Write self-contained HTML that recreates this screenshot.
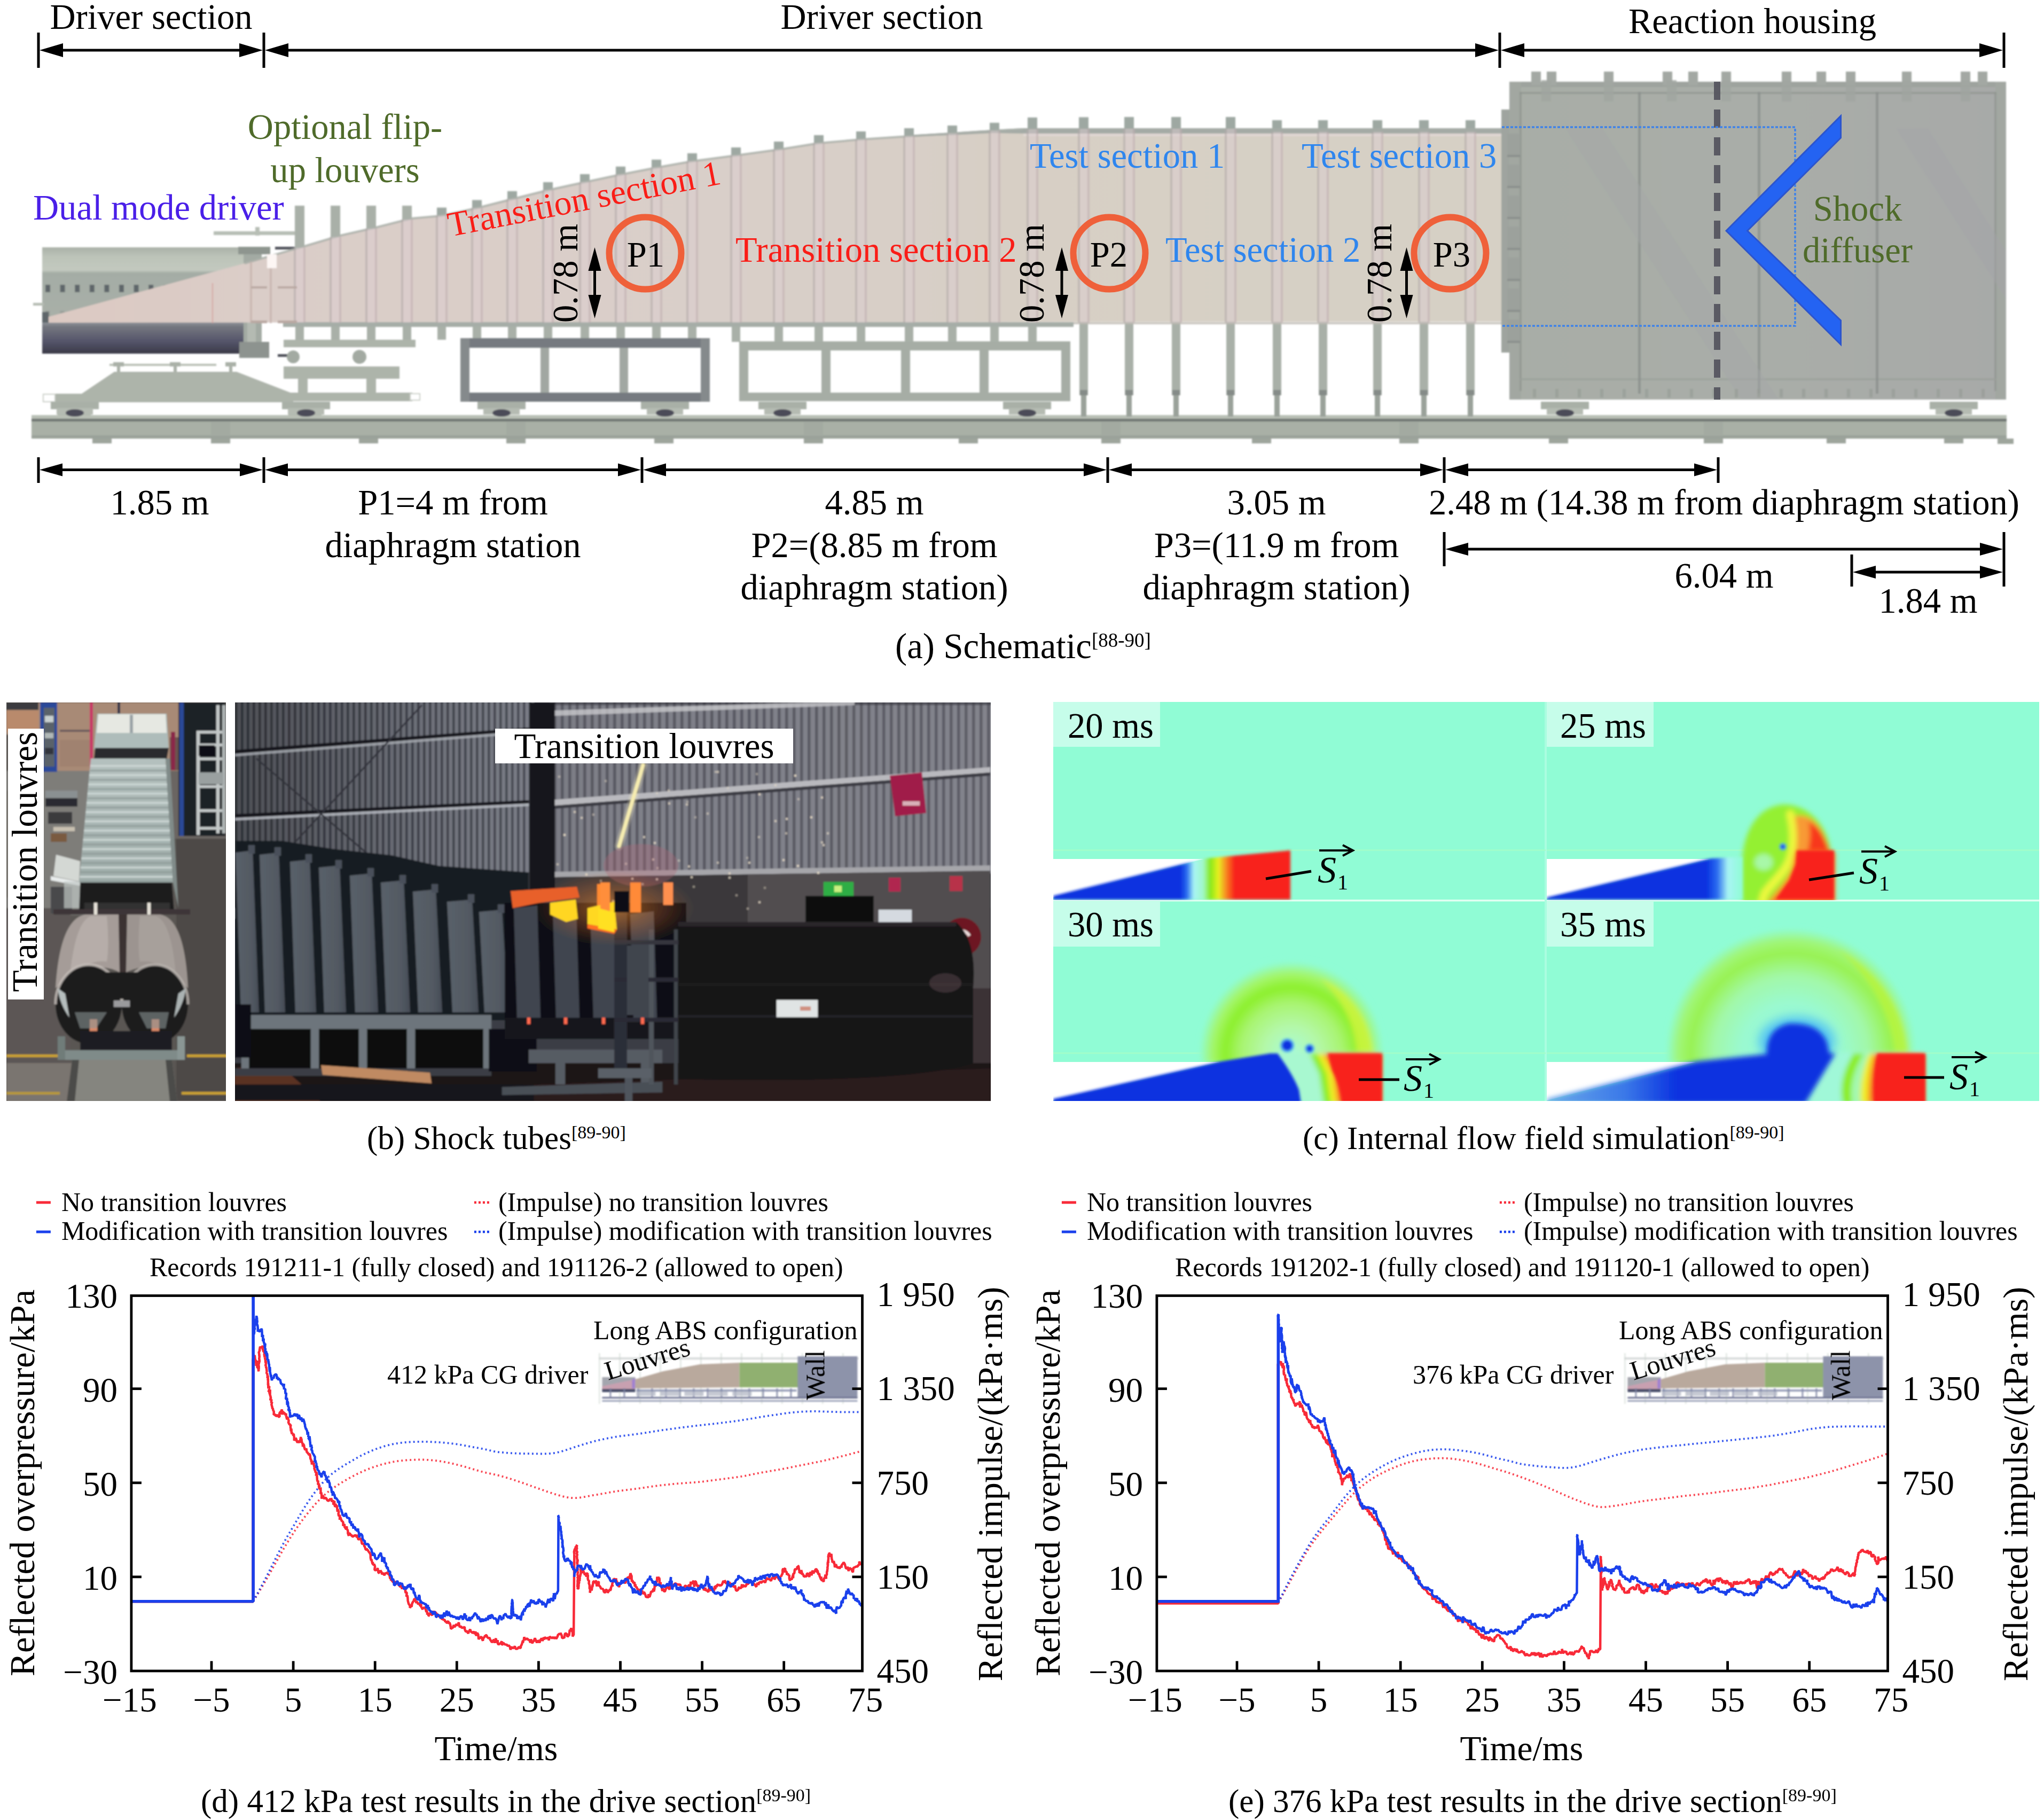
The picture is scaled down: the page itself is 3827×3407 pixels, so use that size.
<!DOCTYPE html>
<html><head><meta charset="utf-8"><title>Figure</title>
<style>
html,body{margin:0;padding:0;background:#fff;}
body{width:3827px;height:3407px;overflow:hidden;font-family:"Liberation Serif",serif;}
svg{display:block;font-family:"Liberation Serif",serif;}
text{font-family:"Liberation Serif",serif;}
</style></head><body>
<svg width="3827" height="3407" viewBox="0 0 3827 3407">
<rect x="0" y="0" width="3827" height="3407" fill="#ffffff"/>
<defs><linearGradient id="cylTop" x1="0" y1="0" x2="0" y2="1"><stop offset="0" stop-color="#aab1a8"/><stop offset="0.12" stop-color="#bcc3b8"/><stop offset="0.3" stop-color="#c3c9bf"/><stop offset="0.34" stop-color="#a4aca5"/><stop offset="1" stop-color="#a9b0a8"/></linearGradient><linearGradient id="cylDark" x1="0" y1="0" x2="0" y2="1"><stop offset="0" stop-color="#8f949a"/><stop offset="0.15" stop-color="#74767f"/><stop offset="0.6" stop-color="#55556a"/><stop offset="1" stop-color="#3a3947"/></linearGradient><linearGradient id="hous" x1="0" y1="0" x2="1" y2="0"><stop offset="0" stop-color="#a8ada6"/><stop offset="0.5" stop-color="#a9ada8"/><stop offset="1" stop-color="#a7a9a8"/></linearGradient><linearGradient id="bodyg" gradientUnits="userSpaceOnUse" x1="91" y1="0" x2="2811" y2="0"><stop offset="0" stop-color="#dcc9c2"/><stop offset="0.15" stop-color="#dacdc8"/><stop offset="0.46" stop-color="#d9cfc9"/><stop offset="0.67" stop-color="#d7cfc5"/><stop offset="1" stop-color="#d6d0c5"/></linearGradient><filter id="b1" x="-5%" y="-5%" width="110%" height="110%"><feGaussianBlur stdDeviation="1.6"/></filter><filter id="b2" x="-5%" y="-5%" width="110%" height="110%"><feGaussianBlur stdDeviation="2.5"/></filter></defs>
<g filter="url(#b1)">
<rect x="59.0" y="777.0" width="3698.0" height="44.0" fill="#a9b0a6" />
<rect x="59.0" y="777.0" width="3698.0" height="6.0" fill="#b9c0b6" />
<rect x="59.0" y="784.0" width="3698.0" height="5.0" fill="#6f7672" />
<rect x="59.0" y="815.0" width="3698.0" height="6.0" fill="#9aa199" />
<rect x="173.0" y="821.0" width="36.0" height="9.0" fill="#9ea59c" />
<rect x="395.0" y="821.0" width="36.0" height="9.0" fill="#9ea59c" />
<rect x="672.0" y="821.0" width="36.0" height="9.0" fill="#9ea59c" />
<rect x="948.0" y="821.0" width="36.0" height="9.0" fill="#9ea59c" />
<rect x="1225.0" y="821.0" width="36.0" height="9.0" fill="#9ea59c" />
<rect x="1505.0" y="821.0" width="36.0" height="9.0" fill="#9ea59c" />
<rect x="1795.0" y="821.0" width="36.0" height="9.0" fill="#9ea59c" />
<rect x="2062.0" y="821.0" width="36.0" height="9.0" fill="#9ea59c" />
<rect x="2344.0" y="821.0" width="36.0" height="9.0" fill="#9ea59c" />
<rect x="2620.0" y="821.0" width="36.0" height="9.0" fill="#9ea59c" />
<rect x="2900.0" y="821.0" width="36.0" height="9.0" fill="#9ea59c" />
<rect x="3190.0" y="821.0" width="36.0" height="9.0" fill="#9ea59c" />
<rect x="3420.0" y="821.0" width="36.0" height="9.0" fill="#9ea59c" />
<rect x="3640.0" y="821.0" width="36.0" height="9.0" fill="#9ea59c" />
<rect x="395.0" y="790.0" width="36.0" height="26.0" fill="#a3aaa1" />
<rect x="948.0" y="790.0" width="36.0" height="26.0" fill="#a3aaa1" />
<rect x="1505.0" y="790.0" width="36.0" height="26.0" fill="#a3aaa1" />
<rect x="2062.0" y="790.0" width="36.0" height="26.0" fill="#a3aaa1" />
<rect x="2620.0" y="790.0" width="36.0" height="26.0" fill="#a3aaa1" />
<rect x="3190.0" y="790.0" width="36.0" height="26.0" fill="#a3aaa1" />
<rect x="3740.0" y="821.0" width="30.0" height="10.0" fill="#9ea59c" />
<rect x="79.0" y="463.0" width="379.0" height="142.0" fill="url(#cylTop)" />
<rect x="79.0" y="603.0" width="379.0" height="59.0" fill="url(#cylDark)" />
<rect x="62.0" y="567.0" width="20.0" height="5.0" fill="#b5bcb2" />
<rect x="85.0" y="533.0" width="9.0" height="14.0" fill="#5f666a" opacity="1.0"/>
<rect x="85.0" y="582.0" width="8.0" height="12.0" fill="#8a8f8c" opacity="0.8"/>
<rect x="112.6" y="533.0" width="9.0" height="14.0" fill="#5f666a" opacity="1.0"/>
<rect x="112.6" y="582.0" width="8.0" height="12.0" fill="#8a8f8c" opacity="0.5"/>
<rect x="140.2" y="533.0" width="9.0" height="14.0" fill="#5f666a" opacity="1.0"/>
<rect x="140.2" y="582.0" width="8.0" height="12.0" fill="#8a8f8c" opacity="0.5"/>
<rect x="167.8" y="533.0" width="9.0" height="14.0" fill="#5f666a" opacity="1.0"/>
<rect x="167.8" y="582.0" width="8.0" height="12.0" fill="#8a8f8c" opacity="0.5"/>
<rect x="195.4" y="533.0" width="9.0" height="14.0" fill="#5f666a" opacity="1.0"/>
<rect x="195.4" y="582.0" width="8.0" height="12.0" fill="#8a8f8c" opacity="0.5"/>
<rect x="223.0" y="533.0" width="9.0" height="14.0" fill="#5f666a" opacity="1.0"/>
<rect x="223.0" y="582.0" width="8.0" height="12.0" fill="#8a8f8c" opacity="0.5"/>
<rect x="250.6" y="533.0" width="9.0" height="14.0" fill="#5f666a" opacity="1.0"/>
<rect x="250.6" y="582.0" width="8.0" height="12.0" fill="#8a8f8c" opacity="0.5"/>
<rect x="278.2" y="533.0" width="9.0" height="14.0" fill="#5f666a" opacity="1.0"/>
<rect x="278.2" y="582.0" width="8.0" height="12.0" fill="#8a8f8c" opacity="0.5"/>
<rect x="305.8" y="533.0" width="9.0" height="14.0" fill="#5f666a" opacity="0.35"/>
<rect x="305.8" y="582.0" width="8.0" height="12.0" fill="#8a8f8c" opacity="0.5"/>
<rect x="333.4" y="533.0" width="9.0" height="14.0" fill="#5f666a" opacity="0.35"/>
<rect x="333.4" y="582.0" width="8.0" height="12.0" fill="#8a8f8c" opacity="0.5"/>
<rect x="361.0" y="533.0" width="9.0" height="14.0" fill="#5f666a" opacity="0.35"/>
<rect x="361.0" y="582.0" width="8.0" height="12.0" fill="#8a8f8c" opacity="0.5"/>
<rect x="388.6" y="533.0" width="9.0" height="14.0" fill="#5f666a" opacity="0.35"/>
<rect x="388.6" y="582.0" width="8.0" height="12.0" fill="#8a8f8c" opacity="0.5"/>
<rect x="416.2" y="533.0" width="9.0" height="14.0" fill="#5f666a" opacity="0.35"/>
<rect x="416.2" y="582.0" width="8.0" height="12.0" fill="#8a8f8c" opacity="0.5"/>
<rect x="443.8" y="533.0" width="9.0" height="14.0" fill="#5f666a" opacity="0.35"/>
<rect x="443.8" y="582.0" width="8.0" height="12.0" fill="#8a8f8c" opacity="0.5"/>
<rect x="471.4" y="533.0" width="9.0" height="14.0" fill="#5f666a" opacity="0.35"/>
<rect x="471.4" y="582.0" width="8.0" height="12.0" fill="#8a8f8c" opacity="0.5"/>
<rect x="79.0" y="584.0" width="12.0" height="20.0" fill="#5f666a" />
<rect x="456.0" y="470.0" width="34.0" height="200.0" fill="#a3aaa3" />
<rect x="463.0" y="490.0" width="16.0" height="180.0" fill="#b4bab2" />
<rect x="446.0" y="462.0" width="60.0" height="14.0" fill="#8e958f" />
<rect x="400.0" y="433.0" width="160.0" height="7.0" fill="#b7beb5" />
<rect x="478.0" y="425.0" width="8.0" height="16.0" fill="#b7beb5" />
<rect x="448.0" y="640.0" width="56.0" height="30.0" fill="#8d938f" />
<rect x="515.0" y="462.0" width="40.0" height="5.0" fill="#4d5058" />
<rect x="520.0" y="663.0" width="40.0" height="5.0" fill="#4d5058" />
<rect x="552.0" y="385.0" width="18.0" height="90.0" fill="#a9b0a8" />
<rect x="619.0" y="385.0" width="18.0" height="90.0" fill="#a9b0a8" />
<rect x="686.0" y="385.0" width="18.0" height="90.0" fill="#a9b0a8" />
<rect x="753.0" y="385.0" width="18.0" height="90.0" fill="#a9b0a8" />
<rect x="818.0" y="388.6" width="18.0" height="22.0" fill="#9ea8a2" />
<rect x="884.0" y="374.5" width="18.0" height="22.0" fill="#9ea8a2" />
<rect x="950.0" y="357.8" width="18.0" height="22.0" fill="#9ea8a2" />
<rect x="1017.0" y="341.0" width="18.0" height="22.0" fill="#9ea8a2" />
<rect x="1086.0" y="326.0" width="18.0" height="22.0" fill="#9ea8a2" />
<rect x="1153.0" y="311.8" width="18.0" height="22.0" fill="#9ea8a2" />
<rect x="1220.0" y="298.8" width="18.0" height="22.0" fill="#9ea8a2" />
<rect x="1287.0" y="286.9" width="18.0" height="22.0" fill="#9ea8a2" />
<rect x="1369.0" y="276.0" width="18.0" height="22.0" fill="#9ea8a2" />
<rect x="1449.0" y="265.0" width="18.0" height="22.0" fill="#9ea8a2" />
<rect x="1524.0" y="253.0" width="18.0" height="22.0" fill="#9ea8a2" />
<rect x="1603.0" y="246.0" width="18.0" height="22.0" fill="#9ea8a2" />
<rect x="1693.0" y="240.0" width="18.0" height="22.0" fill="#9ea8a2" />
<rect x="1774.0" y="235.0" width="18.0" height="22.0" fill="#9ea8a2" />
<rect x="1853.0" y="229.8" width="18.0" height="22.0" fill="#9ea8a2" />
<rect x="1924.0" y="219.9" width="18.0" height="30.0" fill="#9ea8a2" />
<rect x="2020.0" y="219.4" width="18.0" height="30.0" fill="#9ea8a2" />
<rect x="2105.0" y="219.0" width="18.0" height="30.0" fill="#9ea8a2" />
<rect x="2193.0" y="219.0" width="18.0" height="30.0" fill="#9ea8a2" />
<rect x="2295.0" y="219.0" width="18.0" height="30.0" fill="#9ea8a2" />
<rect x="2382.0" y="225.0" width="18.0" height="30.0" fill="#9ea8a2" />
<rect x="2468.0" y="225.0" width="18.0" height="30.0" fill="#9ea8a2" />
<rect x="2570.0" y="225.0" width="18.0" height="30.0" fill="#9ea8a2" />
<rect x="2657.0" y="225.0" width="18.0" height="30.0" fill="#9ea8a2" />
<rect x="2744.0" y="225.0" width="18.0" height="30.0" fill="#9ea8a2" />
<rect x="553.0" y="600.0" width="16.0" height="36.0" fill="#a9b0a8" />
<rect x="620.0" y="600.0" width="16.0" height="36.0" fill="#a9b0a8" />
<rect x="687.0" y="600.0" width="16.0" height="36.0" fill="#a9b0a8" />
<rect x="754.0" y="600.0" width="16.0" height="36.0" fill="#a9b0a8" />
<rect x="819.0" y="600.0" width="16.0" height="36.0" fill="#a9b0a8" />
<rect x="885.0" y="600.0" width="16.0" height="36.0" fill="#a9b0a8" />
<rect x="951.0" y="600.0" width="16.0" height="36.0" fill="#a9b0a8" />
<rect x="1018.0" y="600.0" width="16.0" height="36.0" fill="#a9b0a8" />
<rect x="1087.0" y="600.0" width="16.0" height="36.0" fill="#a9b0a8" />
<rect x="1154.0" y="600.0" width="16.0" height="36.0" fill="#a9b0a8" />
<rect x="1221.0" y="600.0" width="16.0" height="36.0" fill="#a9b0a8" />
<rect x="1288.0" y="600.0" width="16.0" height="36.0" fill="#a9b0a8" />
<rect x="1370.0" y="600.0" width="16.0" height="40.0" fill="#a9b0a8" />
<rect x="1450.0" y="600.0" width="16.0" height="40.0" fill="#a9b0a8" />
<rect x="1525.0" y="600.0" width="16.0" height="40.0" fill="#a9b0a8" />
<rect x="1604.0" y="600.0" width="16.0" height="40.0" fill="#a9b0a8" />
<rect x="1694.0" y="600.0" width="16.0" height="40.0" fill="#a9b0a8" />
<rect x="1775.0" y="600.0" width="16.0" height="40.0" fill="#a9b0a8" />
<rect x="1854.0" y="600.0" width="16.0" height="40.0" fill="#a9b0a8" />
<rect x="1925.0" y="600.0" width="16.0" height="40.0" fill="#a9b0a8" />
<rect x="2021.0" y="600.0" width="16.0" height="140.0" fill="#a9b0a8" />
<rect x="2024.0" y="740.0" width="10.0" height="40.0" fill="#9aa19a" />
<rect x="2022.0" y="730.0" width="14.0" height="10.0" fill="#858b88" />
<rect x="2106.0" y="600.0" width="16.0" height="140.0" fill="#a9b0a8" />
<rect x="2109.0" y="740.0" width="10.0" height="40.0" fill="#9aa19a" />
<rect x="2107.0" y="730.0" width="14.0" height="10.0" fill="#858b88" />
<rect x="2194.0" y="600.0" width="16.0" height="140.0" fill="#a9b0a8" />
<rect x="2197.0" y="740.0" width="10.0" height="40.0" fill="#9aa19a" />
<rect x="2195.0" y="730.0" width="14.0" height="10.0" fill="#858b88" />
<rect x="2296.0" y="600.0" width="16.0" height="140.0" fill="#a9b0a8" />
<rect x="2299.0" y="740.0" width="10.0" height="40.0" fill="#9aa19a" />
<rect x="2297.0" y="730.0" width="14.0" height="10.0" fill="#858b88" />
<rect x="2383.0" y="600.0" width="16.0" height="140.0" fill="#a9b0a8" />
<rect x="2386.0" y="740.0" width="10.0" height="40.0" fill="#9aa19a" />
<rect x="2384.0" y="730.0" width="14.0" height="10.0" fill="#858b88" />
<rect x="2469.0" y="600.0" width="16.0" height="140.0" fill="#a9b0a8" />
<rect x="2472.0" y="740.0" width="10.0" height="40.0" fill="#9aa19a" />
<rect x="2470.0" y="730.0" width="14.0" height="10.0" fill="#858b88" />
<rect x="2571.0" y="600.0" width="16.0" height="140.0" fill="#a9b0a8" />
<rect x="2574.0" y="740.0" width="10.0" height="40.0" fill="#9aa19a" />
<rect x="2572.0" y="730.0" width="14.0" height="10.0" fill="#858b88" />
<rect x="2658.0" y="600.0" width="16.0" height="140.0" fill="#a9b0a8" />
<rect x="2661.0" y="740.0" width="10.0" height="40.0" fill="#9aa19a" />
<rect x="2659.0" y="730.0" width="14.0" height="10.0" fill="#858b88" />
<rect x="2745.0" y="600.0" width="16.0" height="140.0" fill="#a9b0a8" />
<rect x="2748.0" y="740.0" width="10.0" height="40.0" fill="#9aa19a" />
<rect x="2746.0" y="730.0" width="14.0" height="10.0" fill="#858b88" />
<rect x="1925.0" y="600.0" width="16.0" height="50.0" fill="#a9b0a8" />
<polygon points="91,593 458,493 570,461 637,441 703,426 770,409 825,404 891,390 958,373 1026,356 1095,341 1161,327 1228,314 1295,302 1378,291 1458,280 1533,268 1612,261 1702,255 1783,250 1859,245 1916,242 2100,241 2360,241 2360,247 2811,247 2811,602 91,604" fill="url(#bodyg)"/>
<rect x="530.0" y="603.0" width="1480.0" height="9.0" fill="#a6ada7" />
<rect x="2010.0" y="603.0" width="801.0" height="4.0" fill="#bdb9b2" opacity="0.8"/>
<polygon points="1700,253 1783,248 1859,243 1916,240 2811,240 2811,250 1916,250 1859,249 1783,253 1700,256" fill="#a4aaa5"/>
<rect x="1916.0" y="250.0" width="895.0" height="5.0" fill="#dfd6d2" />
<polyline points="458,493 570,461 637,441 703,426 770,409 825,404 891,390 958,373 1026,356 1095,341 1161,327 1228,314 1295,302 1378,291 1458,280 1533,268 1612,261 1702,255 1783,250 1859,245 1916,242" fill="none" stroke="#a9afa8" stroke-width="4" opacity="0.85"/>
<rect x="550.0" y="463.6" width="4.0" height="140.4" fill="#b3a9a8" opacity="0.6"/>
<rect x="568.0" y="463.6" width="4.0" height="140.4" fill="#bfaeb0" opacity="0.6"/>
<rect x="554.0" y="463.6" width="14.0" height="140.4" fill="#dccdd0" opacity="0.45"/>
<rect x="617.0" y="443.7" width="4.0" height="160.3" fill="#b3a9a8" opacity="0.6"/>
<rect x="635.0" y="443.7" width="4.0" height="160.3" fill="#bfaeb0" opacity="0.6"/>
<rect x="621.0" y="443.7" width="14.0" height="160.3" fill="#dccdd0" opacity="0.45"/>
<rect x="684.0" y="427.8" width="4.0" height="176.2" fill="#b3a9a8" opacity="0.6"/>
<rect x="702.0" y="427.8" width="4.0" height="176.2" fill="#bfaeb0" opacity="0.6"/>
<rect x="688.0" y="427.8" width="14.0" height="176.2" fill="#dccdd0" opacity="0.45"/>
<rect x="751.0" y="411.0" width="4.0" height="193.0" fill="#b3a9a8" opacity="0.6"/>
<rect x="769.0" y="411.0" width="4.0" height="193.0" fill="#bfaeb0" opacity="0.6"/>
<rect x="755.0" y="411.0" width="14.0" height="193.0" fill="#dccdd0" opacity="0.45"/>
<rect x="816.0" y="403.6" width="4.0" height="200.4" fill="#b3a9a8" opacity="0.6"/>
<rect x="834.0" y="403.6" width="4.0" height="200.4" fill="#bfaeb0" opacity="0.6"/>
<rect x="820.0" y="403.6" width="14.0" height="200.4" fill="#dccdd0" opacity="0.45"/>
<rect x="882.0" y="389.5" width="4.0" height="214.5" fill="#b3a9a8" opacity="0.6"/>
<rect x="900.0" y="389.5" width="4.0" height="214.5" fill="#bfaeb0" opacity="0.6"/>
<rect x="886.0" y="389.5" width="14.0" height="214.5" fill="#dccdd0" opacity="0.45"/>
<rect x="948.0" y="372.8" width="4.0" height="231.2" fill="#b3a9a8" opacity="0.6"/>
<rect x="966.0" y="372.8" width="4.0" height="231.2" fill="#bfaeb0" opacity="0.6"/>
<rect x="952.0" y="372.8" width="14.0" height="231.2" fill="#dccdd0" opacity="0.45"/>
<rect x="1015.0" y="356.0" width="4.0" height="248.0" fill="#b3a9a8" opacity="0.6"/>
<rect x="1033.0" y="356.0" width="4.0" height="248.0" fill="#bfaeb0" opacity="0.6"/>
<rect x="1019.0" y="356.0" width="14.0" height="248.0" fill="#dccdd0" opacity="0.45"/>
<rect x="1084.0" y="341.0" width="4.0" height="263.0" fill="#b3a9a8" opacity="0.6"/>
<rect x="1102.0" y="341.0" width="4.0" height="263.0" fill="#bfaeb0" opacity="0.6"/>
<rect x="1088.0" y="341.0" width="14.0" height="263.0" fill="#dccdd0" opacity="0.45"/>
<rect x="1151.0" y="326.8" width="4.0" height="277.2" fill="#b3a9a8" opacity="0.6"/>
<rect x="1169.0" y="326.8" width="4.0" height="277.2" fill="#bfaeb0" opacity="0.6"/>
<rect x="1155.0" y="326.8" width="14.0" height="277.2" fill="#dccdd0" opacity="0.45"/>
<rect x="1218.0" y="313.8" width="4.0" height="290.2" fill="#b3a9a8" opacity="0.6"/>
<rect x="1236.0" y="313.8" width="4.0" height="290.2" fill="#bfaeb0" opacity="0.6"/>
<rect x="1222.0" y="313.8" width="14.0" height="290.2" fill="#dccdd0" opacity="0.45"/>
<rect x="1285.0" y="301.9" width="4.0" height="302.1" fill="#b3a9a8" opacity="0.6"/>
<rect x="1303.0" y="301.9" width="4.0" height="302.1" fill="#bfaeb0" opacity="0.6"/>
<rect x="1289.0" y="301.9" width="14.0" height="302.1" fill="#dccdd0" opacity="0.45"/>
<rect x="1367.0" y="291.0" width="4.0" height="313.0" fill="#b3a9a8" opacity="0.6"/>
<rect x="1385.0" y="291.0" width="4.0" height="313.0" fill="#bfaeb0" opacity="0.6"/>
<rect x="1371.0" y="291.0" width="14.0" height="313.0" fill="#dccdd0" opacity="0.45"/>
<rect x="1447.0" y="280.0" width="4.0" height="324.0" fill="#b3a9a8" opacity="0.6"/>
<rect x="1465.0" y="280.0" width="4.0" height="324.0" fill="#bfaeb0" opacity="0.6"/>
<rect x="1451.0" y="280.0" width="14.0" height="324.0" fill="#dccdd0" opacity="0.45"/>
<rect x="1522.0" y="268.0" width="4.0" height="336.0" fill="#b3a9a8" opacity="0.6"/>
<rect x="1540.0" y="268.0" width="4.0" height="336.0" fill="#bfaeb0" opacity="0.6"/>
<rect x="1526.0" y="268.0" width="14.0" height="336.0" fill="#dccdd0" opacity="0.45"/>
<rect x="1601.0" y="261.0" width="4.0" height="343.0" fill="#b3a9a8" opacity="0.6"/>
<rect x="1619.0" y="261.0" width="4.0" height="343.0" fill="#bfaeb0" opacity="0.6"/>
<rect x="1605.0" y="261.0" width="14.0" height="343.0" fill="#dccdd0" opacity="0.45"/>
<rect x="1691.0" y="255.0" width="4.0" height="349.0" fill="#b3a9a8" opacity="0.6"/>
<rect x="1709.0" y="255.0" width="4.0" height="349.0" fill="#bfaeb0" opacity="0.6"/>
<rect x="1695.0" y="255.0" width="14.0" height="349.0" fill="#dccdd0" opacity="0.45"/>
<rect x="1772.0" y="250.0" width="4.0" height="354.0" fill="#b3a9a8" opacity="0.6"/>
<rect x="1790.0" y="250.0" width="4.0" height="354.0" fill="#bfaeb0" opacity="0.6"/>
<rect x="1776.0" y="250.0" width="14.0" height="354.0" fill="#dccdd0" opacity="0.45"/>
<rect x="1851.0" y="244.8" width="4.0" height="359.2" fill="#b3a9a8" opacity="0.6"/>
<rect x="1869.0" y="244.8" width="4.0" height="359.2" fill="#bfaeb0" opacity="0.6"/>
<rect x="1855.0" y="244.8" width="14.0" height="359.2" fill="#dccdd0" opacity="0.45"/>
<rect x="1922.0" y="241.9" width="4.0" height="362.1" fill="#b3a9a8" opacity="0.6"/>
<rect x="1940.0" y="241.9" width="4.0" height="362.1" fill="#bfaeb0" opacity="0.6"/>
<rect x="1926.0" y="241.9" width="14.0" height="362.1" fill="#dccdd0" opacity="0.45"/>
<rect x="2018.0" y="241.4" width="4.0" height="362.6" fill="#b3a9a8" opacity="0.6"/>
<rect x="2036.0" y="241.4" width="4.0" height="362.6" fill="#bfaeb0" opacity="0.6"/>
<rect x="2022.0" y="241.4" width="14.0" height="362.6" fill="#dccdd0" opacity="0.45"/>
<rect x="2103.0" y="241.0" width="4.0" height="363.0" fill="#b3a9a8" opacity="0.6"/>
<rect x="2121.0" y="241.0" width="4.0" height="363.0" fill="#bfaeb0" opacity="0.6"/>
<rect x="2107.0" y="241.0" width="14.0" height="363.0" fill="#dccdd0" opacity="0.45"/>
<rect x="2191.0" y="241.0" width="4.0" height="363.0" fill="#b3a9a8" opacity="0.6"/>
<rect x="2209.0" y="241.0" width="4.0" height="363.0" fill="#bfaeb0" opacity="0.6"/>
<rect x="2195.0" y="241.0" width="14.0" height="363.0" fill="#dccdd0" opacity="0.45"/>
<rect x="2293.0" y="241.0" width="4.0" height="363.0" fill="#b3a9a8" opacity="0.6"/>
<rect x="2311.0" y="241.0" width="4.0" height="363.0" fill="#bfaeb0" opacity="0.6"/>
<rect x="2297.0" y="241.0" width="14.0" height="363.0" fill="#dccdd0" opacity="0.45"/>
<rect x="2380.0" y="247.0" width="4.0" height="357.0" fill="#b3a9a8" opacity="0.6"/>
<rect x="2398.0" y="247.0" width="4.0" height="357.0" fill="#bfaeb0" opacity="0.6"/>
<rect x="2384.0" y="247.0" width="14.0" height="357.0" fill="#dccdd0" opacity="0.45"/>
<rect x="2466.0" y="247.0" width="4.0" height="357.0" fill="#b3a9a8" opacity="0.6"/>
<rect x="2484.0" y="247.0" width="4.0" height="357.0" fill="#bfaeb0" opacity="0.6"/>
<rect x="2470.0" y="247.0" width="14.0" height="357.0" fill="#dccdd0" opacity="0.45"/>
<rect x="2568.0" y="247.0" width="4.0" height="357.0" fill="#b3a9a8" opacity="0.6"/>
<rect x="2586.0" y="247.0" width="4.0" height="357.0" fill="#bfaeb0" opacity="0.6"/>
<rect x="2572.0" y="247.0" width="14.0" height="357.0" fill="#dccdd0" opacity="0.45"/>
<rect x="2655.0" y="247.0" width="4.0" height="357.0" fill="#b3a9a8" opacity="0.6"/>
<rect x="2673.0" y="247.0" width="4.0" height="357.0" fill="#bfaeb0" opacity="0.6"/>
<rect x="2659.0" y="247.0" width="14.0" height="357.0" fill="#dccdd0" opacity="0.45"/>
<rect x="2742.0" y="247.0" width="4.0" height="357.0" fill="#b3a9a8" opacity="0.6"/>
<rect x="2760.0" y="247.0" width="4.0" height="357.0" fill="#bfaeb0" opacity="0.6"/>
<rect x="2746.0" y="247.0" width="14.0" height="357.0" fill="#dccdd0" opacity="0.45"/>
<rect x="468.0" y="490.0" width="4.0" height="115.0" fill="#c4b0ab" opacity="0.7"/>
<rect x="505.0" y="500.0" width="4.0" height="105.0" fill="#c4b0ab" opacity="0.7"/>
<rect x="470.0" y="536.0" width="30.0" height="4.0" fill="#b9a8a2" />
<rect x="520.0" y="536.0" width="36.0" height="4.0" fill="#b9a8a2" />
<rect x="470.0" y="600.0" width="30.0" height="5.0" fill="#b9a8a2" />
<rect x="520.0" y="600.0" width="36.0" height="5.0" fill="#b9a8a2" />
<rect x="500.0" y="476.0" width="18.0" height="26.0" fill="#fdf6f4" />
<rect x="397.0" y="530.0" width="2.0" height="75.0" fill="#d49a96" opacity="0.8"/>
<polygon points="214,696 443,696 549,737 549,753 100,753 100,737 153,737" fill="#adb4aa"/>
<rect x="205.0" y="681.0" width="200.0" height="4.0" fill="#b9c0b6" />
<rect x="212.0" y="678.0" width="20.0" height="8.0" fill="#aab1a8" />
<rect x="219.0" y="686.0" width="6.0" height="10.0" fill="#aab1a8" />
<rect x="318.0" y="678.0" width="20.0" height="8.0" fill="#aab1a8" />
<rect x="325.0" y="686.0" width="6.0" height="10.0" fill="#aab1a8" />
<rect x="422.0" y="678.0" width="20.0" height="8.0" fill="#aab1a8" />
<rect x="429.0" y="686.0" width="6.0" height="10.0" fill="#aab1a8" />
<rect x="81.0" y="738.0" width="22.0" height="14.0" fill="#ffffff" stroke="#c9cec6" stroke-width="2"/>
<rect x="108.0" y="753.0" width="62.0" height="24.0" fill="#aeb5ab" />
<rect x="540.0" y="753.0" width="62.0" height="24.0" fill="#aeb5ab" />
<rect x="531.0" y="636.0" width="247.0" height="14.0" fill="#adb4aa" />
<rect x="531.0" y="686.0" width="217.0" height="23.0" fill="#adb4aa" />
<rect x="540.0" y="735.0" width="232.0" height="16.0" fill="#adb4aa" />
<rect x="558.0" y="709.0" width="18.0" height="26.0" fill="#adb4aa" />
<rect x="686.0" y="709.0" width="18.0" height="26.0" fill="#adb4aa" />
<circle cx="673" cy="668" r="13" fill="#a3aaa2"/><circle cx="549" cy="668" r="12" fill="#a3aaa2"/>
<rect x="768.0" y="737.0" width="18.0" height="12.0" fill="#ffffff" stroke="#c9cec6" stroke-width="2"/>
<rect x="862.0" y="633.0" width="467.0" height="18.0" fill="#767a80" />
<rect x="862.0" y="735.0" width="467.0" height="17.0" fill="#767a80" />
<rect x="862.0" y="633.0" width="17.0" height="119.0" fill="#858a8c" />
<rect x="1312.0" y="633.0" width="17.0" height="119.0" fill="#858a8c" />
<rect x="1012.0" y="651.0" width="16.0" height="84.0" fill="#a1a7a2" />
<rect x="1160.0" y="651.0" width="16.0" height="84.0" fill="#a1a7a2" />
<rect x="1384.0" y="639.0" width="620.0" height="17.0" fill="#a6ada5" />
<rect x="1384.0" y="735.0" width="620.0" height="16.0" fill="#a6ada5" />
<rect x="1384.0" y="639.0" width="17.0" height="112.0" fill="#a6ada5" />
<rect x="1538.0" y="639.0" width="17.0" height="112.0" fill="#a6ada5" />
<rect x="1687.0" y="639.0" width="17.0" height="112.0" fill="#a6ada5" />
<rect x="1834.0" y="639.0" width="17.0" height="112.0" fill="#a6ada5" />
<rect x="1987.0" y="639.0" width="17.0" height="112.0" fill="#a6ada5" />
<rect x="95.0" y="752.0" width="90.0" height="14.0" fill="#a9b0a7" />
<rect x="106.0" y="764.0" width="68.0" height="12.0" fill="#b5bbb2" />
<ellipse cx="140" cy="773" rx="17" ry="7" fill="#4b4c58"/>
<rect x="528.0" y="752.0" width="90.0" height="14.0" fill="#a9b0a7" />
<rect x="539.0" y="764.0" width="68.0" height="12.0" fill="#b5bbb2" />
<ellipse cx="573" cy="773" rx="17" ry="7" fill="#4b4c58"/>
<rect x="894.0" y="752.0" width="90.0" height="14.0" fill="#a9b0a7" />
<rect x="905.0" y="764.0" width="68.0" height="12.0" fill="#b5bbb2" />
<ellipse cx="939" cy="773" rx="17" ry="7" fill="#4b4c58"/>
<rect x="1200.0" y="752.0" width="90.0" height="14.0" fill="#a9b0a7" />
<rect x="1211.0" y="764.0" width="68.0" height="12.0" fill="#b5bbb2" />
<ellipse cx="1245" cy="773" rx="17" ry="7" fill="#4b4c58"/>
<rect x="1420.0" y="752.0" width="90.0" height="14.0" fill="#a9b0a7" />
<rect x="1431.0" y="764.0" width="68.0" height="12.0" fill="#b5bbb2" />
<ellipse cx="1465" cy="773" rx="17" ry="7" fill="#4b4c58"/>
<rect x="1878.0" y="752.0" width="90.0" height="14.0" fill="#a9b0a7" />
<rect x="1889.0" y="764.0" width="68.0" height="12.0" fill="#b5bbb2" />
<ellipse cx="1923" cy="773" rx="17" ry="7" fill="#4b4c58"/>
<rect x="2811.0" y="205.0" width="18.0" height="455.0" fill="#9fa49f" />
<rect x="2826.0" y="153.0" width="930.0" height="595.0" fill="url(#hous)" />
<rect x="2826.0" y="153.0" width="930.0" height="10.0" fill="#9ea39e" />
<rect x="2826.0" y="153.0" width="22.0" height="595.0" fill="#a2a7a1" />
<rect x="3736.0" y="153.0" width="20.0" height="595.0" fill="#a2a7a1" />
<rect x="2845.0" y="172.0" width="893.0" height="4.0" fill="#8f948f" opacity="0.7"/>
<rect x="2845.0" y="172.0" width="4.0" height="560.0" fill="#8f948f" opacity="0.7"/>
<rect x="3734.0" y="172.0" width="4.0" height="560.0" fill="#8f948f" opacity="0.7"/>
<rect x="2845.0" y="708.0" width="893.0" height="4.0" fill="#9a9f9a" opacity="0.7"/>
<rect x="3067.0" y="172.0" width="5.0" height="565.0" fill="#8a8f8c" opacity="0.8"/>
<rect x="3291.0" y="172.0" width="5.0" height="565.0" fill="#8a8f8c" opacity="0.8"/>
<rect x="3512.0" y="172.0" width="5.0" height="565.0" fill="#8a8f8c" opacity="0.8"/>
<rect x="2867.0" y="134.0" width="18.0" height="26.0" fill="#a3a8a3" />
<rect x="2896.0" y="134.0" width="18.0" height="26.0" fill="#a3a8a3" />
<rect x="3003.0" y="134.0" width="18.0" height="26.0" fill="#a3a8a3" />
<rect x="3113.0" y="134.0" width="18.0" height="26.0" fill="#a3a8a3" />
<rect x="3161.0" y="134.0" width="18.0" height="26.0" fill="#a3a8a3" />
<rect x="3223.0" y="134.0" width="18.0" height="26.0" fill="#a3a8a3" />
<rect x="3336.0" y="134.0" width="18.0" height="26.0" fill="#a3a8a3" />
<rect x="3401.0" y="134.0" width="18.0" height="26.0" fill="#a3a8a3" />
<rect x="3456.0" y="134.0" width="18.0" height="26.0" fill="#a3a8a3" />
<rect x="3561.0" y="134.0" width="18.0" height="26.0" fill="#a3a8a3" />
<rect x="3671.0" y="134.0" width="18.0" height="26.0" fill="#a3a8a3" />
<rect x="3703.0" y="134.0" width="18.0" height="26.0" fill="#a3a8a3" />
<rect x="2886.0" y="150.0" width="18.0" height="40.0" fill="#a0a5a0" opacity="0.8"/>
<rect x="3003.0" y="150.0" width="18.0" height="40.0" fill="#a0a5a0" opacity="0.8"/>
<rect x="3121.0" y="150.0" width="18.0" height="40.0" fill="#a0a5a0" opacity="0.8"/>
<rect x="3223.0" y="150.0" width="18.0" height="40.0" fill="#a0a5a0" opacity="0.8"/>
<rect x="3336.0" y="150.0" width="18.0" height="40.0" fill="#a0a5a0" opacity="0.8"/>
<rect x="3456.0" y="150.0" width="18.0" height="40.0" fill="#a0a5a0" opacity="0.8"/>
<rect x="3561.0" y="150.0" width="18.0" height="40.0" fill="#a0a5a0" opacity="0.8"/>
<rect x="3671.0" y="150.0" width="18.0" height="40.0" fill="#a0a5a0" opacity="0.8"/>
<polygon points="2930,240 3000,240 3330,748 3260,748" fill="#a3a6a8" opacity="0.45"/>
<polygon points="3550,240 3610,240 3756,470 3756,560" fill="#a3a3a8" opacity="0.45"/>
<rect x="2870.0" y="728.0" width="6.0" height="16.0" fill="#969b96" opacity="0.7"/>
<rect x="2912.0" y="728.0" width="6.0" height="16.0" fill="#969b96" opacity="0.7"/>
<rect x="2954.0" y="728.0" width="6.0" height="16.0" fill="#969b96" opacity="0.7"/>
<rect x="2996.0" y="728.0" width="6.0" height="16.0" fill="#969b96" opacity="0.7"/>
<rect x="3038.0" y="728.0" width="6.0" height="16.0" fill="#969b96" opacity="0.7"/>
<rect x="3080.0" y="728.0" width="6.0" height="16.0" fill="#969b96" opacity="0.7"/>
<rect x="3122.0" y="728.0" width="6.0" height="16.0" fill="#969b96" opacity="0.7"/>
<rect x="3164.0" y="728.0" width="6.0" height="16.0" fill="#969b96" opacity="0.7"/>
<rect x="3206.0" y="728.0" width="6.0" height="16.0" fill="#969b96" opacity="0.7"/>
<rect x="3248.0" y="728.0" width="6.0" height="16.0" fill="#969b96" opacity="0.7"/>
<rect x="3290.0" y="728.0" width="6.0" height="16.0" fill="#969b96" opacity="0.7"/>
<rect x="3332.0" y="728.0" width="6.0" height="16.0" fill="#969b96" opacity="0.7"/>
<rect x="3374.0" y="728.0" width="6.0" height="16.0" fill="#969b96" opacity="0.7"/>
<rect x="3416.0" y="728.0" width="6.0" height="16.0" fill="#969b96" opacity="0.7"/>
<rect x="3458.0" y="728.0" width="6.0" height="16.0" fill="#969b96" opacity="0.7"/>
<rect x="3500.0" y="728.0" width="6.0" height="16.0" fill="#969b96" opacity="0.7"/>
<rect x="3542.0" y="728.0" width="6.0" height="16.0" fill="#969b96" opacity="0.7"/>
<rect x="3584.0" y="728.0" width="6.0" height="16.0" fill="#969b96" opacity="0.7"/>
<rect x="3626.0" y="728.0" width="6.0" height="16.0" fill="#969b96" opacity="0.7"/>
<rect x="3668.0" y="728.0" width="6.0" height="16.0" fill="#969b96" opacity="0.7"/>
<rect x="3710.0" y="728.0" width="6.0" height="16.0" fill="#969b96" opacity="0.7"/>
<rect x="2885.0" y="752.0" width="90.0" height="14.0" fill="#a9b0a7" />
<rect x="2896.0" y="764.0" width="68.0" height="12.0" fill="#b5bbb2" />
<ellipse cx="2930" cy="773" rx="17" ry="7" fill="#4b4c58"/>
<rect x="3613.0" y="752.0" width="90.0" height="14.0" fill="#a9b0a7" />
<rect x="3624.0" y="764.0" width="68.0" height="12.0" fill="#b5bbb2" />
<ellipse cx="3658" cy="773" rx="17" ry="7" fill="#4b4c58"/>
<rect x="2822.0" y="250.0" width="24.0" height="40.0" fill="#9ca19c" />
<rect x="2822.0" y="290.0" width="24.0" height="4.0" fill="#8a8f8c" />
<rect x="2822.0" y="308.0" width="24.0" height="40.0" fill="#9ca19c" />
<rect x="2822.0" y="348.0" width="24.0" height="4.0" fill="#8a8f8c" />
<rect x="2822.0" y="366.0" width="24.0" height="40.0" fill="#9ca19c" />
<rect x="2822.0" y="406.0" width="24.0" height="4.0" fill="#8a8f8c" />
<rect x="2822.0" y="424.0" width="24.0" height="40.0" fill="#9ca19c" />
<rect x="2822.0" y="464.0" width="24.0" height="4.0" fill="#8a8f8c" />
<rect x="2822.0" y="482.0" width="24.0" height="40.0" fill="#9ca19c" />
<rect x="2822.0" y="522.0" width="24.0" height="4.0" fill="#8a8f8c" />
<rect x="2822.0" y="540.0" width="24.0" height="40.0" fill="#9ca19c" />
<rect x="2822.0" y="580.0" width="24.0" height="4.0" fill="#8a8f8c" />
<rect x="2822.0" y="598.0" width="24.0" height="40.0" fill="#9ca19c" />
<rect x="2822.0" y="638.0" width="24.0" height="4.0" fill="#8a8f8c" />
</g>
<line x1="3215" y1="153" x2="3215" y2="748" stroke="#56565f" stroke-width="12" stroke-dasharray="34 18" opacity="0.95"/>
<path d="M2812,238 H3361 V610 H2812" fill="none" stroke="#3f83e8" stroke-width="3.5" stroke-dasharray="5 3"/>
<polygon points="3232,432 3446.5,217 3446.5,258 3271.6,432 3446.5,600 3446.5,645" fill="#2463f2" stroke="#2d55cc" stroke-width="3" stroke-linejoin="miter"/>
<circle cx="1208" cy="474" r="67.5" fill="none" stroke="#ef603a" stroke-width="12"/>
<circle cx="2077" cy="474" r="67.5" fill="none" stroke="#ef603a" stroke-width="12"/>
<circle cx="2715" cy="474" r="67.5" fill="none" stroke="#ef603a" stroke-width="12"/>
<text x="1209" y="499" font-size="66.6" text-anchor="middle" fill="#000" >P1</text>
<text x="2076" y="499" font-size="66.6" text-anchor="middle" fill="#000" >P2</text>
<text x="2718" y="499" font-size="66.6" text-anchor="middle" fill="#000" >P3</text>
<text x="62" y="411" font-size="66.6" text-anchor="start" fill="#4a1fe8" >Dual mode driver</text>
<text x="646" y="260" font-size="66.6" text-anchor="middle" fill="#4f6b2a" >Optional flip-</text>
<text x="646" y="341" font-size="66.6" text-anchor="middle" fill="#4f6b2a" >up louvers</text>
<text x="843" y="443" font-size="65.6" text-anchor="start" fill="#fa1d17" transform="rotate(-11 843 443)" >Transition section 1</text>
<text x="1377" y="490" font-size="66.6" text-anchor="start" fill="#fa1d17" >Transition section 2</text>
<text x="1928" y="314" font-size="66.6" text-anchor="start" fill="#2f86ee" >Test section 1</text>
<text x="2437" y="314" font-size="66.6" text-anchor="start" fill="#2f86ee" >Test section 3</text>
<text x="2182" y="490" font-size="66.6" text-anchor="start" fill="#2f86ee" >Test section 2</text>
<text x="3478" y="413" font-size="66.6" text-anchor="middle" fill="#4f6b2a" >Shock</text>
<text x="3478" y="491" font-size="66.6" text-anchor="middle" fill="#4f6b2a" >diffuser</text>
<text x="1081" y="604" font-size="66.6" text-anchor="start" fill="#000" transform="rotate(-90 1081 604)" >0.78 m</text>
<line x1="1113.5" y1="493" x2="1113.5" y2="566" stroke="#000" stroke-width="5"/>
<polygon points="1113.5,463 1101.5,507 1125.5,507" fill="#000"/>
<polygon points="1113.5,596 1101.5,552 1125.5,552" fill="#000"/>
<text x="1954" y="604" font-size="66.6" text-anchor="start" fill="#000" transform="rotate(-90 1954 604)" >0.78 m</text>
<line x1="1988" y1="493" x2="1988" y2="566" stroke="#000" stroke-width="5"/>
<polygon points="1988,463 1976,507 2000,507" fill="#000"/>
<polygon points="1988,596 1976,552 2000,552" fill="#000"/>
<text x="2605" y="604" font-size="66.6" text-anchor="start" fill="#000" transform="rotate(-90 2605 604)" >0.78 m</text>
<line x1="2633.5" y1="493" x2="2633.5" y2="566" stroke="#000" stroke-width="5"/>
<polygon points="2633.5,463 2621.5,507 2645.5,507" fill="#000"/>
<polygon points="2633.5,596 2621.5,552 2645.5,552" fill="#000"/>
<line x1="72" y1="61" x2="72" y2="127" stroke="#000" stroke-width="5"/>
<line x1="494" y1="61" x2="494" y2="127" stroke="#000" stroke-width="5"/>
<line x1="2808" y1="61" x2="2808" y2="127" stroke="#000" stroke-width="5"/>
<line x1="3752" y1="61" x2="3752" y2="127" stroke="#000" stroke-width="5"/>
<line x1="114" y1="94" x2="452" y2="94" stroke="#000" stroke-width="5"/>
<polygon points="74,94 118,81 118,107" fill="#000"/>
<polygon points="492,94 448,81 448,107" fill="#000"/>
<line x1="536" y1="94" x2="2766" y2="94" stroke="#000" stroke-width="5"/>
<polygon points="496,94 540,81 540,107" fill="#000"/>
<polygon points="2806,94 2762,81 2762,107" fill="#000"/>
<line x1="2850" y1="94" x2="3710" y2="94" stroke="#000" stroke-width="5"/>
<polygon points="2810,94 2854,81 2854,107" fill="#000"/>
<polygon points="3750,94 3706,81 3706,107" fill="#000"/>
<text x="283" y="54" font-size="66.6" text-anchor="middle" fill="#000" >Driver section</text>
<text x="1651" y="54" font-size="66.6" text-anchor="middle" fill="#000" >Driver section</text>
<text x="3281" y="62" font-size="66.6" text-anchor="middle" fill="#000" >Reaction housing</text>
<line x1="72" y1="856" x2="72" y2="904" stroke="#000" stroke-width="5"/>
<line x1="494" y1="856" x2="494" y2="904" stroke="#000" stroke-width="5"/>
<line x1="1202" y1="856" x2="1202" y2="904" stroke="#000" stroke-width="5"/>
<line x1="2074" y1="856" x2="2074" y2="904" stroke="#000" stroke-width="5"/>
<line x1="2704" y1="856" x2="2704" y2="904" stroke="#000" stroke-width="5"/>
<line x1="3217" y1="856" x2="3217" y2="904" stroke="#000" stroke-width="5"/>
<line x1="113" y1="879.5" x2="453" y2="879.5" stroke="#000" stroke-width="5"/>
<polygon points="74,879.5 117,867.5 117,891.5" fill="#000"/>
<polygon points="492,879.5 449,867.5 449,891.5" fill="#000"/>
<line x1="535" y1="879.5" x2="1161" y2="879.5" stroke="#000" stroke-width="5"/>
<polygon points="496,879.5 539,867.5 539,891.5" fill="#000"/>
<polygon points="1200,879.5 1157,867.5 1157,891.5" fill="#000"/>
<line x1="1243" y1="879.5" x2="2033" y2="879.5" stroke="#000" stroke-width="5"/>
<polygon points="1204,879.5 1247,867.5 1247,891.5" fill="#000"/>
<polygon points="2072,879.5 2029,867.5 2029,891.5" fill="#000"/>
<line x1="2115" y1="879.5" x2="2663" y2="879.5" stroke="#000" stroke-width="5"/>
<polygon points="2076,879.5 2119,867.5 2119,891.5" fill="#000"/>
<polygon points="2702,879.5 2659,867.5 2659,891.5" fill="#000"/>
<line x1="2745" y1="879.5" x2="3176" y2="879.5" stroke="#000" stroke-width="5"/>
<polygon points="2706,879.5 2749,867.5 2749,891.5" fill="#000"/>
<polygon points="3215,879.5 3172,867.5 3172,891.5" fill="#000"/>
<text x="299" y="963" font-size="66.6" text-anchor="middle" fill="#000" >1.85 m</text>
<text x="848" y="963" font-size="66.6" text-anchor="middle" fill="#000" >P1=4 m from</text>
<text x="848" y="1043" font-size="66.6" text-anchor="middle" fill="#000" >diaphragm station</text>
<text x="1637" y="963" font-size="66.6" text-anchor="middle" fill="#000" >4.85 m</text>
<text x="1637" y="1043" font-size="66.6" text-anchor="middle" fill="#000" >P2=(8.85 m from</text>
<text x="1637" y="1122" font-size="66.6" text-anchor="middle" fill="#000" >diaphragm station)</text>
<text x="2390" y="963" font-size="66.6" text-anchor="middle" fill="#000" >3.05 m</text>
<text x="2390" y="1043" font-size="66.6" text-anchor="middle" fill="#000" >P3=(11.9 m from</text>
<text x="2390" y="1122" font-size="66.6" text-anchor="middle" fill="#000" >diaphragm station)</text>
<text x="3228" y="963" font-size="66.6" text-anchor="middle" fill="#000" >2.48 m (14.38 m from diaphragm station)</text>
<line x1="2704" y1="996" x2="2704" y2="1060" stroke="#000" stroke-width="5"/>
<line x1="3752" y1="996" x2="3752" y2="1098" stroke="#000" stroke-width="5"/>
<line x1="3467" y1="1038" x2="3467" y2="1098" stroke="#000" stroke-width="5"/>
<line x1="2745" y1="1028" x2="3711" y2="1028" stroke="#000" stroke-width="5"/>
<polygon points="2706,1028 2749,1016 2749,1040" fill="#000"/>
<polygon points="3750,1028 3707,1016 3707,1040" fill="#000"/>
<line x1="3508" y1="1071" x2="3711" y2="1071" stroke="#000" stroke-width="5"/>
<polygon points="3469,1071 3512,1059 3512,1083" fill="#000"/>
<polygon points="3750,1071 3707,1059 3707,1083" fill="#000"/>
<text x="3228" y="1100" font-size="66.6" text-anchor="middle" fill="#000" >6.04 m</text>
<text x="3610" y="1147" font-size="66.6" text-anchor="middle" fill="#000" >1.84 m</text>
<text x="1676" y="1232" font-size="66.6" text-anchor="start" fill="#000" >(a) Schematic<tspan font-size="37" dy="-21">[88-90]</tspan></text>
<defs><clipPath id="clipL"><rect x="12" y="1315" width="411" height="746"/></clipPath><clipPath id="clipR"><rect x="440" y="1315" width="1415" height="746"/></clipPath><pattern id="corr" x="0" y="0" width="11" height="10" patternUnits="userSpaceOnUse"><rect x="0" y="0" width="11" height="10" fill="#7c7f89"/><rect x="0" y="0" width="4.5" height="10" fill="#444751"/></pattern><pattern id="corr2" x="0" y="0" width="14" height="10" patternUnits="userSpaceOnUse"><rect x="0" y="0" width="14" height="10" fill="#7b7c85"/><rect x="0" y="0" width="5.5" height="10" fill="#53535d"/></pattern><linearGradient id="wallL" x1="0" y1="0" x2="1" y2="0"><stop offset="0" stop-color="#000" stop-opacity="0.38"/><stop offset="0.25" stop-color="#000" stop-opacity="0.12"/><stop offset="0.6" stop-color="#fff" stop-opacity="0.03"/><stop offset="1" stop-color="#fff" stop-opacity="0.06"/></linearGradient><linearGradient id="slat" x1="0" y1="0" x2="1" y2="0"><stop offset="0" stop-color="#596069"/><stop offset="0.7" stop-color="#525962"/><stop offset="1" stop-color="#454b55"/></linearGradient><linearGradient id="louv" x1="0" y1="0" x2="0" y2="1"><stop offset="0" stop-color="#b4c0be"/><stop offset="1" stop-color="#9fadaa"/></linearGradient><radialGradient id="glow"><stop offset="0" stop-color="#ff9a30" stop-opacity="0.55"/><stop offset="1" stop-color="#ff6a20" stop-opacity="0"/></radialGradient><filter id="pb" x="-2%" y="-2%" width="104%" height="104%"><feGaussianBlur stdDeviation="1.8"/></filter></defs>
<g clip-path="url(#clipL)"><g filter="url(#pb)">
<rect x="0.0" y="1300.0" width="440.0" height="780.0" fill="#5a5653" />
<rect x="12.0" y="1443.0" width="160.0" height="270.0" fill="#7e7d79" />
<rect x="12.0" y="1700.0" width="120.0" height="300.0" fill="#5b5754" />
<rect x="12.0" y="1990.0" width="130.0" height="75.0" fill="#7a756f" />
<rect x="330.0" y="1560.0" width="95.0" height="500.0" fill="#4e4a47" />
<rect x="300.0" y="1440.0" width="125.0" height="130.0" fill="#6a6562" />
<rect x="12.0" y="1315.0" width="70.0" height="60.0" fill="#a98b74" />
<rect x="12.0" y="1330.0" width="60.0" height="40.0" fill="#b98a6c" />
<rect x="12.0" y="1315.0" width="60.0" height="14.0" fill="#3a3a40" />
<rect x="75.0" y="1315.0" width="32.0" height="130.0" fill="#2a4a9a" />
<rect x="82.0" y="1325.0" width="20.0" height="110.0" fill="#5a626a" />
<rect x="84.0" y="1340.0" width="16.0" height="12.0" fill="#c8d0d0" />
<rect x="84.0" y="1372.0" width="16.0" height="10.0" fill="#b0b8b8" />
<rect x="84.0" y="1400.0" width="16.0" height="12.0" fill="#30343c" />
<rect x="107.0" y="1315.0" width="230.0" height="128.0" fill="#a88a76" />
<rect x="112.0" y="1366.0" width="60.0" height="4.0" fill="#6a5a5c" />
<rect x="112.0" y="1385.0" width="60.0" height="50.0" fill="#a08270" />
<rect x="168.0" y="1315.0" width="6.0" height="150.0" fill="#c83868" />
<rect x="220.0" y="1315.0" width="5.0" height="24.0" fill="#2a3048" />
<rect x="318.0" y="1380.0" width="20.0" height="62.0" fill="#6a5550" />
<rect x="320.0" y="1370.0" width="8.0" height="72.0" fill="#8a2848" />
<rect x="334.0" y="1315.0" width="88.0" height="250.0" fill="#1e2128" />
<rect x="336.0" y="1315.0" width="8.0" height="250.0" fill="#2b4a98" />
<rect x="368.0" y="1368.0" width="54.0" height="5.0" fill="#c3c8c8" />
<rect x="368.0" y="1392.0" width="54.0" height="5.0" fill="#c3c8c8" />
<rect x="368.0" y="1418.0" width="54.0" height="5.0" fill="#c3c8c8" />
<rect x="368.0" y="1446.0" width="54.0" height="5.0" fill="#c3c8c8" />
<rect x="368.0" y="1470.0" width="54.0" height="5.0" fill="#c3c8c8" />
<rect x="368.0" y="1515.0" width="54.0" height="5.0" fill="#c3c8c8" />
<rect x="368.0" y="1548.0" width="54.0" height="5.0" fill="#c3c8c8" />
<rect x="368.0" y="1368.0" width="6.0" height="195.0" fill="#c3c8c8" />
<rect x="405.0" y="1320.0" width="6.0" height="240.0" fill="#c3c8c8" />
<rect x="416.0" y="1320.0" width="6.0" height="240.0" fill="#aeb4b4" />
<rect x="372.0" y="1446.0" width="46.0" height="22.0" fill="#9aa0a0" />
<rect x="372.0" y="1395.0" width="30.0" height="20.0" fill="#0e1014" />
<rect x="85.0" y="1480.0" width="60.0" height="14.0" fill="#8a9092" />
<rect x="85.0" y="1494.0" width="60.0" height="16.0" fill="#2a2c30" />
<rect x="90.0" y="1520.0" width="45.0" height="22.0" fill="#3a3a3c" />
<rect x="12.0" y="1480.0" width="25.0" height="200.0" fill="#77736d" />
<rect x="100.0" y="1548.0" width="40.0" height="8.0" fill="#c8c0b0" />
<rect x="95.0" y="1560.0" width="30.0" height="16.0" fill="#7a5a40" />
<polygon points="105,1600 150,1612 148,1650 100,1640" fill="#d4d8d4" />
<polygon points="95,1640 170,1655 170,1662 95,1648" fill="#e8ecec" />
<rect x="95.0" y="1660.0" width="40.0" height="50.0" fill="#4a4a4c" />
<rect x="120.0" y="1650.0" width="30.0" height="50.0" fill="#c0c8c4" opacity="0.7"/>
<polygon points="182,1336 312,1336 316,1403 176,1403" fill="#aebcba" />
<polygon points="184,1337 310,1337 312,1372 181,1372" fill="#e6e8e2" />
<rect x="243.0" y="1338.0" width="6.0" height="34.0" fill="#9aa2a6" />
<polygon points="178,1400 316,1400 312,1422 176,1422" fill="#2b2b2d" />
<polygon points="170,1420 310,1420 324,1652 148,1652" fill="url(#louv)" />
<rect x="168.9" y="1432.0" width="141.9" height="3.5" fill="#ced8d6" opacity="0.9"/>
<rect x="168.9" y="1441.0" width="141.9" height="3.0" fill="#8b9795" opacity="0.8"/>
<rect x="167.2" y="1449.3" width="144.5" height="3.5" fill="#ced8d6" opacity="0.9"/>
<rect x="167.2" y="1458.3" width="144.5" height="3.0" fill="#8b9795" opacity="0.8"/>
<rect x="165.6" y="1466.6" width="147.2" height="3.5" fill="#ced8d6" opacity="0.9"/>
<rect x="165.6" y="1475.6" width="147.2" height="3.0" fill="#8b9795" opacity="0.8"/>
<rect x="163.9" y="1483.9" width="149.9" height="3.5" fill="#ced8d6" opacity="0.9"/>
<rect x="163.9" y="1492.9" width="149.9" height="3.0" fill="#8b9795" opacity="0.8"/>
<rect x="162.3" y="1501.2" width="152.6" height="3.5" fill="#ced8d6" opacity="0.9"/>
<rect x="162.3" y="1510.2" width="152.6" height="3.0" fill="#8b9795" opacity="0.8"/>
<rect x="160.7" y="1518.5" width="155.3" height="3.5" fill="#ced8d6" opacity="0.9"/>
<rect x="160.7" y="1527.5" width="155.3" height="3.0" fill="#8b9795" opacity="0.8"/>
<rect x="159.0" y="1535.8" width="158.0" height="3.5" fill="#ced8d6" opacity="0.9"/>
<rect x="159.0" y="1544.8" width="158.0" height="3.0" fill="#8b9795" opacity="0.8"/>
<rect x="157.4" y="1553.1" width="160.7" height="3.5" fill="#ced8d6" opacity="0.9"/>
<rect x="157.4" y="1562.1" width="160.7" height="3.0" fill="#8b9795" opacity="0.8"/>
<rect x="155.7" y="1570.4" width="163.3" height="3.5" fill="#ced8d6" opacity="0.9"/>
<rect x="155.7" y="1579.4" width="163.3" height="3.0" fill="#8b9795" opacity="0.8"/>
<rect x="154.1" y="1587.7" width="166.0" height="3.5" fill="#ced8d6" opacity="0.9"/>
<rect x="154.1" y="1596.7" width="166.0" height="3.0" fill="#8b9795" opacity="0.8"/>
<rect x="152.5" y="1605.0" width="168.7" height="3.5" fill="#ced8d6" opacity="0.9"/>
<rect x="152.5" y="1614.0" width="168.7" height="3.0" fill="#8b9795" opacity="0.8"/>
<rect x="150.8" y="1622.3" width="171.4" height="3.5" fill="#ced8d6" opacity="0.9"/>
<rect x="150.8" y="1631.3" width="171.4" height="3.0" fill="#8b9795" opacity="0.8"/>
<rect x="149.2" y="1639.6" width="174.1" height="3.5" fill="#ced8d6" opacity="0.9"/>
<rect x="149.2" y="1648.6" width="174.1" height="3.0" fill="#8b9795" opacity="0.8"/>
<polygon points="310,1420 318,1420 334,1700 324,1652" fill="#808b89" />
<polygon points="150,1652 322,1652 326,1705 148,1705" fill="#1d1d1f" />
<rect x="158.0" y="1690.0" width="160.0" height="12.0" fill="#333033" />
<rect x="100.0" y="1702.0" width="256.0" height="10.0" fill="#3c3538" />
<rect x="176.0" y="1690.0" width="6.0" height="28.0" fill="#e8e4da" />
<rect x="276.0" y="1690.0" width="6.0" height="28.0" fill="#e8e4da" />
<path d="M104,1850 Q112,1720 160,1712 L222,1712 Q232,1790 228,1822 Q170,1790 104,1850 Z" fill="#a59c98"/>
<path d="M352,1850 Q346,1720 300,1712 L238,1712 Q228,1790 232,1822 Q290,1790 352,1850 Z" fill="#9c9490"/>
<path d="M130,1835 Q140,1725 170,1715 L200,1715 Q205,1770 200,1800 Q160,1795 130,1835 Z" fill="#bab2ae" opacity="0.8"/>
<path d="M330,1835 Q322,1725 292,1715 L262,1715 Q257,1770 262,1800 Q300,1795 330,1835 Z" fill="#aaa29e" opacity="0.8"/>
<polygon points="222,1712 238,1712 236,1822 224,1822" fill="#3a3033" />
<ellipse cx="166" cy="1880" rx="62" ry="74" fill="#1b1b1d"/><ellipse cx="290" cy="1880" rx="62" ry="74" fill="#1b1b1d"/>
<path d="M104,1880 A62,74 0 0 1 228,1880" fill="none" stroke="#c9c2bd" stroke-width="5" opacity="0.8"/>
<path d="M228,1880 A62,74 0 0 1 352,1880" fill="none" stroke="#bdb6b1" stroke-width="5" opacity="0.8"/>
<path d="M108,1850 Q112,1880 130,1905 L122,1860 Z" fill="#b5bdbd"/><path d="M348,1850 Q344,1880 326,1905 L334,1860 Z" fill="#aab2b2"/>
<rect x="140.0" y="1820.0" width="180.0" height="50.0" fill="#1b1b1d" />
<rect x="213.0" y="1873.0" width="30.0" height="12.0" fill="#9a9a9c" />
<rect x="168.0" y="1908.0" width="14.0" height="22.0" fill="#d98868" />
<rect x="284.0" y="1908.0" width="14.0" height="22.0" fill="#d98868" />
<polygon points="140,1895 200,1895 180,1925 150,1925" fill="#8b9595" opacity="0.6"/>
<polygon points="260,1895 316,1895 310,1925 275,1925" fill="#8b9595" opacity="0.6"/>
<rect x="150.0" y="1930.0" width="172.0" height="40.0" fill="#1e1e21" />
<rect x="108.0" y="1966.0" width="238.0" height="18.0" fill="#7f8b89" />
<rect x="108.0" y="1940.0" width="14.0" height="44.0" fill="#6f7b79" />
<rect x="332.0" y="1940.0" width="14.0" height="44.0" fill="#8a9694" />
<polygon points="135,1984 322,1984 332,2062 125,2062" fill="#85857f" />
<polygon points="135,1984 148,1984 140,2062 125,2062" fill="#4b4b48" />
<polygon points="310,1984 322,1984 332,2062 318,2062" fill="#4b4b48" />
<rect x="12.0" y="1974.0" width="96.0" height="5.0" fill="#c9a030" />
<rect x="350.0" y="1974.0" width="75.0" height="5.0" fill="#c9a030" />
<rect x="12.0" y="2044.0" width="100.0" height="5.0" fill="#b89838" />
<rect x="340.0" y="2044.0" width="85.0" height="5.0" fill="#c9a030" />
</g>
<rect x="15.0" y="1364.0" width="67.0" height="507.0" fill="#ffffff" />
</g>
<text x="69" y="1857" font-size="67" text-anchor="start" fill="#000" transform="rotate(-90 69 1857)" >Transition louvres</text>
<g clip-path="url(#clipR)"><g filter="url(#pb)">
<rect x="430.0" y="1300.0" width="1440.0" height="780.0" fill="#3a3c44" />
<rect x="430.0" y="1300.0" width="570.0" height="420.0" fill="url(#corr)" />
<rect x="1030.0" y="1300.0" width="840.0" height="335.0" fill="url(#corr2)" />
<rect x="430.0" y="1300.0" width="1440.0" height="400.0" fill="url(#wallL)" />
<rect x="1030.0" y="1300.0" width="840.0" height="20.0" fill="#3a3a42" opacity="0.6"/>
<polygon points="440,1404 990,1362 990,1368 440,1411" fill="#14151a" />
<polygon points="440,1411 990,1368 990,1373 440,1416" fill="#a9adb3" opacity="0.8"/>
<polygon points="440,1524 990,1498 990,1504 440,1531" fill="#14151a" />
<polygon points="440,1531 990,1504 990,1509 440,1536" fill="#b5b9bf" opacity="0.85"/>
<line x1="480" y1="1420" x2="690" y2="1600" stroke="#30323a" stroke-width="3"/><line x1="790" y1="1320" x2="540" y2="1590" stroke="#30323a" stroke-width="3"/>
<rect x="991.0" y="1315.0" width="48.0" height="370.0" fill="#14141a" />
<polygon points="1039,1330 1600,1312 1600,1320 1039,1340" fill="#c8c8cc" opacity="0.8"/>
<polygon points="1039,1497 1854,1436 1854,1446 1039,1508" fill="#b9b9be" />
<polygon points="1039,1508 1854,1446 1854,1452 1039,1514" fill="#3a3a42" />
<polygon points="1039,1632 1854,1620 1854,1630 1039,1642" fill="#a6a6aa" />
<polygon points="1039,1642 1854,1630 1854,1880 1039,1800" fill="#514e4f" />
<polygon points="1039,1642 1400,1637 1400,1800 1039,1800" fill="#2a282b" opacity="0.55"/>
<polygon points="1760,1850 1860,1850 1860,2010 1760,2010" fill="#3a3234" />
<line x1="1204" y1="1432" x2="1159" y2="1584" stroke="#f3e9a8" stroke-width="7" stroke-linecap="round"/>
<line x1="1204" y1="1432" x2="1159" y2="1584" stroke="#fff6c8" stroke-width="16" opacity="0.25" stroke-linecap="round"/>
<rect x="1364" y="1633" width="4" height="4" fill="#e8dcc8" opacity="0.80"/>
<rect x="1530" y="1632" width="4" height="4" fill="#e8dcc8" opacity="0.86"/>
<rect x="1055" y="1561" width="4" height="4" fill="#e8dcc8" opacity="0.87"/>
<rect x="1377" y="1674" width="4" height="4" fill="#e8dcc8" opacity="0.46"/>
<rect x="1284" y="1504" width="4" height="4" fill="#e8dcc8" opacity="0.67"/>
<rect x="1338" y="1443" width="4" height="4" fill="#e8dcc8" opacity="0.51"/>
<rect x="1185" y="1678" width="4" height="4" fill="#e8dcc8" opacity="0.78"/>
<rect x="1123" y="1647" width="4" height="4" fill="#e8dcc8" opacity="0.47"/>
<rect x="1361" y="1473" width="4" height="4" fill="#e8dcc8" opacity="0.40"/>
<rect x="1493" y="1494" width="4" height="4" fill="#e8dcc8" opacity="0.51"/>
<rect x="1551" y="1667" width="4" height="4" fill="#e8dcc8" opacity="0.54"/>
<rect x="1540" y="1580" width="4" height="4" fill="#e8dcc8" opacity="0.74"/>
<rect x="1146" y="1685" width="4" height="4" fill="#e8dcc8" opacity="0.75"/>
<rect x="1543" y="1672" width="4" height="4" fill="#e8dcc8" opacity="0.55"/>
<rect x="1228" y="1483" width="4" height="4" fill="#e8dcc8" opacity="0.47"/>
<rect x="1074" y="1518" width="4" height="4" fill="#e8dcc8" opacity="0.70"/>
<rect x="1042" y="1616" width="4" height="4" fill="#e8dcc8" opacity="0.57"/>
<rect x="1201" y="1653" width="4" height="4" fill="#e8dcc8" opacity="0.64"/>
<rect x="1204" y="1565" width="4" height="4" fill="#e8dcc8" opacity="0.75"/>
<rect x="1070" y="1694" width="4" height="4" fill="#e8dcc8" opacity="0.41"/>
<rect x="1430" y="1660" width="4" height="4" fill="#e8dcc8" opacity="0.41"/>
<rect x="1450" y="1535" width="4" height="4" fill="#e8dcc8" opacity="0.69"/>
<rect x="1045" y="1452" width="4" height="4" fill="#e8dcc8" opacity="0.49"/>
<rect x="1537" y="1491" width="4" height="4" fill="#e8dcc8" opacity="0.78"/>
<rect x="1523" y="1685" width="4" height="4" fill="#e8dcc8" opacity="0.57"/>
<rect x="1224" y="1576" width="4" height="4" fill="#e8dcc8" opacity="0.79"/>
<rect x="1096" y="1635" width="4" height="4" fill="#e8dcc8" opacity="0.80"/>
<rect x="1487" y="1450" width="4" height="4" fill="#e8dcc8" opacity="0.87"/>
<rect x="1087" y="1529" width="4" height="4" fill="#e8dcc8" opacity="0.71"/>
<rect x="1517" y="1528" width="4" height="4" fill="#e8dcc8" opacity="0.86"/>
<rect x="1323" y="1521" width="4" height="4" fill="#e8dcc8" opacity="0.56"/>
<rect x="1132" y="1460" width="4" height="4" fill="#e8dcc8" opacity="0.47"/>
<rect x="1398" y="1699" width="4" height="4" fill="#e8dcc8" opacity="0.48"/>
<rect x="1065" y="1697" width="4" height="4" fill="#e8dcc8" opacity="0.67"/>
<rect x="1251" y="1502" width="4" height="4" fill="#e8dcc8" opacity="0.70"/>
<rect x="1470" y="1558" width="4" height="4" fill="#e8dcc8" opacity="0.61"/>
<rect x="1069" y="1678" width="4" height="4" fill="#e8dcc8" opacity="0.42"/>
<rect x="1297" y="1658" width="4" height="4" fill="#e8dcc8" opacity="0.47"/>
<rect x="1420" y="1687" width="4" height="4" fill="#e8dcc8" opacity="0.72"/>
<rect x="1450" y="1468" width="4" height="4" fill="#e8dcc8" opacity="0.62"/>
<rect x="1118" y="1660" width="4" height="4" fill="#e8dcc8" opacity="0.55"/>
<rect x="1276" y="1700" width="4" height="4" fill="#e8dcc8" opacity="0.83"/>
<rect x="1548" y="1558" width="4" height="4" fill="#e8dcc8" opacity="0.64"/>
<rect x="1419" y="1565" width="4" height="4" fill="#e8dcc8" opacity="0.55"/>
<rect x="1250" y="1478" width="4" height="4" fill="#e8dcc8" opacity="0.59"/>
<rect x="1554" y="1690" width="4" height="4" fill="#e8dcc8" opacity="0.71"/>
<rect x="1300" y="1528" width="4" height="4" fill="#e8dcc8" opacity="0.44"/>
<rect x="1182" y="1643" width="4" height="4" fill="#e8dcc8" opacity="0.83"/>
<rect x="1228" y="1644" width="4" height="4" fill="#e8dcc8" opacity="0.79"/>
<rect x="1401" y="1613" width="4" height="4" fill="#e8dcc8" opacity="0.78"/>
<rect x="1229" y="1623" width="4" height="4" fill="#e8dcc8" opacity="0.54"/>
<rect x="1293" y="1640" width="4" height="4" fill="#e8dcc8" opacity="0.75"/>
<rect x="1193" y="1686" width="4" height="4" fill="#e8dcc8" opacity="0.72"/>
<rect x="1342" y="1443" width="4" height="4" fill="#e8dcc8" opacity="0.67"/>
<rect x="1170" y="1615" width="4" height="4" fill="#e8dcc8" opacity="0.63"/>
<rect x="1465" y="1608" width="4" height="4" fill="#e8dcc8" opacity="0.80"/>
<rect x="1221" y="1607" width="4" height="4" fill="#e8dcc8" opacity="0.77"/>
<rect x="1471" y="1531" width="4" height="4" fill="#e8dcc8" opacity="0.82"/>
<rect x="1492" y="1619" width="4" height="4" fill="#e8dcc8" opacity="0.89"/>
<rect x="1537" y="1575" width="4" height="4" fill="#e8dcc8" opacity="0.66"/>
<rect x="1126" y="1658" width="4" height="4" fill="#e8dcc8" opacity="0.87"/>
<rect x="1288" y="1620" width="4" height="4" fill="#e8dcc8" opacity="0.76"/>
<rect x="1420" y="1485" width="4" height="4" fill="#e8dcc8" opacity="0.79"/>
<rect x="1342" y="1613" width="4" height="4" fill="#e8dcc8" opacity="0.61"/>
<rect x="1364" y="1641" width="4" height="4" fill="#e8dcc8" opacity="0.72"/>
<rect x="1415" y="1447" width="4" height="4" fill="#e8dcc8" opacity="0.48"/>
<rect x="1269" y="1609" width="4" height="4" fill="#e8dcc8" opacity="0.51"/>
<rect x="1397" y="1604" width="4" height="4" fill="#e8dcc8" opacity="0.42"/>
<rect x="1285" y="1499" width="4" height="4" fill="#e8dcc8" opacity="0.43"/>
<rect x="1109" y="1523" width="4" height="4" fill="#e8dcc8" opacity="0.49"/>
<ellipse cx="1200" cy="1620" rx="70" ry="40" fill="#b06878" opacity="0.35"/>
<polygon points="1666,1452 1726,1446 1734,1522 1676,1528" fill="#a01a48" />
<rect x="1690.0" y="1500.0" width="32.0" height="8.0" fill="#d8b0b8" />
<rect x="1542.0" y="1651.0" width="56.0" height="26.0" fill="#2fae44" />
<rect x="1562.0" y="1658.0" width="14.0" height="12.0" fill="#c8f080" />
<rect x="1508.0" y="1677.0" width="128.0" height="52.0" fill="#0d0d11" />
<rect x="1645.0" y="1703.0" width="62.0" height="23.0" fill="#d5dae0" />
<rect x="1664.0" y="1643.0" width="22.0" height="26.0" fill="#b02850" />
<rect x="1778.0" y="1640.0" width="24.0" height="28.0" fill="#b83048" />
<circle cx="1801" cy="1754" r="36" fill="#6d1820"/><path d="M1790,1745 A18,18 0 0 1 1815,1752" stroke="#e8d8d8" stroke-width="6" fill="none"/>
<rect x="430.0" y="1990.0" width="1440.0" height="80.0" fill="#1a1518" />
<polygon points="440,2000 520,1990 600,2062 440,2062" fill="#5a3222" />
<polygon points="1000,2030 1854,2000 1854,2062 1000,2062" fill="#2b1a1e" />
<polygon points="440,1574 528,1574 622,1589 733,1601 822,1621 990,1633 990,1910 440,1910" fill="#191a21" />
<polygon points="441,1596 473,1592 485,1895 451,1895" fill="url(#slat)" />
<rect x="465.0" y="1582.0" width="12.0" height="16.0" fill="#4a505a" />
<polygon points="486,1600 522,1596 534,1895 496,1895" fill="url(#slat)" />
<rect x="514.0" y="1586.0" width="12.0" height="16.0" fill="#4a505a" />
<polygon points="543,1613 580,1609 592,1895 553,1895" fill="url(#slat)" />
<rect x="572.0" y="1599.0" width="12.0" height="16.0" fill="#4a505a" />
<polygon points="597,1624 636,1620 648,1895 607,1895" fill="url(#slat)" />
<rect x="628.0" y="1610.0" width="12.0" height="16.0" fill="#4a505a" />
<polygon points="655,1639 696,1635 708,1895 665,1895" fill="url(#slat)" />
<rect x="688.0" y="1625.0" width="12.0" height="16.0" fill="#4a505a" />
<polygon points="713,1652 756,1648 768,1895 723,1895" fill="url(#slat)" />
<rect x="748.0" y="1638.0" width="12.0" height="16.0" fill="#4a505a" />
<polygon points="773,1669 816,1665 828,1895 783,1895" fill="url(#slat)" />
<rect x="808.0" y="1655.0" width="12.0" height="16.0" fill="#4a505a" />
<polygon points="837,1688 884,1684 896,1895 847,1895" fill="url(#slat)" />
<rect x="876.0" y="1674.0" width="12.0" height="16.0" fill="#4a505a" />
<polygon points="897,1707 940,1703 952,1895 907,1895" fill="url(#slat)" />
<rect x="932.0" y="1693.0" width="12.0" height="16.0" fill="#4a505a" />
<rect x="440.0" y="1900.0" width="480.0" height="26.0" fill="#6d747c" />
<rect x="452.0" y="1926.0" width="15.0" height="80.0" fill="#6d747c" />
<rect x="582.0" y="1926.0" width="15.0" height="80.0" fill="#6d747c" />
<rect x="672.0" y="1926.0" width="15.0" height="80.0" fill="#6d747c" />
<rect x="762.0" y="1926.0" width="15.0" height="80.0" fill="#6d747c" />
<rect x="905.0" y="1926.0" width="15.0" height="80.0" fill="#6d747c" />
<rect x="466.0" y="1926.0" width="116.0" height="74.0" fill="#0b0b0f" />
<rect x="597.0" y="1926.0" width="75.0" height="74.0" fill="#0b0b0f" />
<rect x="687.0" y="1926.0" width="75.0" height="74.0" fill="#0b0b0f" />
<rect x="777.0" y="1926.0" width="128.0" height="74.0" fill="#0b0b0f" />
<rect x="440.0" y="1880.0" width="30.0" height="100.0" fill="#101014" />
<rect x="440.0" y="2000.0" width="480.0" height="14.0" fill="#3a3d44" />
<polygon points="601,1994 805,2008 808,2028 604,2012" fill="#c08a62" />
<rect x="440.0" y="2030.0" width="560.0" height="30.0" fill="#18161a" />
<rect x="945.0" y="1690.0" width="340.0" height="230.0" fill="#111117" />
<rect x="915.0" y="1926.0" width="90.0" height="80.0" fill="#0e0e12" />
<polygon points="962,1700.0 1006,1695.0 1012,1905 968,1905" fill="#40454f" />
<polygon points="1035,1703.65 1079,1698.65 1085,1905 1041,1905" fill="#40454f" />
<polygon points="1105,1707.15 1149,1702.15 1155,1905 1111,1905" fill="#40454f" />
<polygon points="1180,1710.9 1224,1705.9 1230,1905 1186,1905" fill="#40454f" />
<rect x="945.0" y="1905.0" width="340.0" height="40.0" fill="#15151a" />
<polygon points="990,1965 1240,1965 1240,1990 990,1990" fill="#565c64" />
<rect x="1040.0" y="1990.0" width="18.0" height="40.0" fill="#565c64" />
<rect x="1200.0" y="1990.0" width="18.0" height="40.0" fill="#565c64" />
<polygon points="940,2035 1240,2025 1240,2045 940,2050" fill="#4a4f57" />
<rect x="1150.0" y="1700.0" width="24.0" height="300.0" fill="#2c2f37" />
<rect x="1215.0" y="1740.0" width="9.0" height="290.0" fill="#50545c" />
<rect x="1262.0" y="1740.0" width="7.0" height="290.0" fill="#40444c" />
<rect x="1150.0" y="1760.0" width="120.0" height="8.0" fill="#34363e" />
<rect x="1150.0" y="1830.0" width="120.0" height="8.0" fill="#2a2c34" />
<rect x="1150.0" y="1905.0" width="120.0" height="8.0" fill="#2a2c34" />
<rect x="1174.0" y="1770.0" width="40.0" height="130.0" fill="#40444d" />
<rect x="1120.0" y="2000.0" width="100.0" height="18.0" fill="#5a6068" />
<rect x="1170.0" y="2018.0" width="14.0" height="44.0" fill="#50555d" />
<ellipse cx="1150" cy="1700" rx="150" ry="70" fill="url(#glow)"/>
<polygon points="956,1668 1080,1660 1085,1680 1010,1690 960,1700" fill="#e8602a" />
<polygon points="1030,1690 1078,1684 1082,1720 1060,1726 1030,1712" fill="#ffd622" />
<rect x="1118.0" y="1655.0" width="18.0" height="50.0" fill="#ff8a30" />
<polygon points="1100,1700 1150,1688 1155,1740 1100,1730" fill="#ffd820" />
<polygon points="1100,1730 1155,1740 1150,1748 1100,1738" fill="#ff7020" />
<rect x="1124.0" y="1652.0" width="18.0" height="54.0" fill="#ff8e3a" />
<rect x="1180.0" y="1652.0" width="20.0" height="56.0" fill="#ff8a38" />
<rect x="1242.0" y="1652.0" width="18.0" height="42.0" fill="#ff9050" />
<polygon points="1120,1700 1150,1708 1150,1745 1120,1738" fill="#ffe020" />
<rect x="1150.0" y="1668.0" width="28.0" height="40.0" fill="#101014" />
<rect x="987.0" y="1905.0" width="6.0" height="12.0" fill="#ff6a50" />
<rect x="1056.0" y="1905.0" width="6.0" height="12.0" fill="#ff6a50" />
<rect x="1127.0" y="1905.0" width="6.0" height="12.0" fill="#ff6a50" />
<rect x="1200.0" y="1905.0" width="6.0" height="12.0" fill="#ff6a50" />
<path d="M1270,1726 L1790,1726 Q1830,1760 1822,1850 L1822,1990 Q1700,2030 1270,2020 Z" fill="#151315"/>
<rect x="1270.0" y="1840.0" width="550.0" height="6.0" fill="#1f1a1e" />
<rect x="1270.0" y="1900.0" width="550.0" height="5.0" fill="#242026" />
<ellipse cx="1770" cy="1840" rx="30" ry="18" fill="#5a4a4e" opacity="0.5"/>
<rect x="1454.0" y="1872.0" width="77.0" height="32.0" fill="#e0e4e4" />
<rect x="1498.0" y="1884.0" width="20.0" height="8.0" fill="#d09080" />
<rect x="1270.0" y="1726.0" width="520.0" height="8.0" fill="#2a262a" />
</g>
<rect x="927.0" y="1364.0" width="558.0" height="65.0" fill="#ffffff" />
</g>
<text x="1206" y="1419" font-size="67" text-anchor="middle" fill="#000" >Transition louvres</text>
<text x="687" y="2151" font-size="61" text-anchor="start" fill="#000" id="capb">(b) Shock tubes<tspan font-size="34" dy="-20">[89-90]</tspan></text>
<defs><filter id="cb" x="-10%" y="-10%" width="120%" height="120%"><feGaussianBlur stdDeviation="5"/></filter><filter id="cb2" x="-10%" y="-10%" width="120%" height="120%"><feGaussianBlur stdDeviation="2.5"/></filter><filter id="cb3" x="-20%" y="-20%" width="140%" height="140%"><feGaussianBlur stdDeviation="9"/></filter><linearGradient id="t1" gradientUnits="userSpaceOnUse" x1="2210" y1="0" x2="2312" y2="0"><stop offset="0" stop-color="#0a32e0"/><stop offset="0.12" stop-color="#2a6cf0"/><stop offset="0.25" stop-color="#a8f4f4"/><stop offset="0.42" stop-color="#a0f8c8"/><stop offset="0.55" stop-color="#88e818"/><stop offset="0.7" stop-color="#e8f020"/><stop offset="0.85" stop-color="#f88020"/><stop offset="1" stop-color="#f8201c"/></linearGradient><linearGradient id="t2" gradientUnits="userSpaceOnUse" x1="3195" y1="0" x2="3262" y2="0"><stop offset="0" stop-color="#0a32e0"/><stop offset="0.3" stop-color="#2a6cf0"/><stop offset="0.6" stop-color="#a8f4f4"/><stop offset="1" stop-color="#90fcd5"/></linearGradient><linearGradient id="t4" gradientUnits="userSpaceOnUse" x1="2896" y1="0" x2="3140" y2="0"><stop offset="0" stop-color="#6aa8ea"/><stop offset="0.6" stop-color="#3a78e8"/><stop offset="1" stop-color="#0a32e0"/></linearGradient><radialGradient id="d3" gradientUnits="userSpaceOnUse" cx="2418" cy="1972" r="172"><stop offset="0" stop-color="#a8fad8"/><stop offset="0.3" stop-color="#b4f8a8"/><stop offset="0.55" stop-color="#a8f470"/><stop offset="0.72" stop-color="#8cf02a"/><stop offset="0.86" stop-color="#a4f66a"/><stop offset="1" stop-color="#90fcd5"/></radialGradient><radialGradient id="d4" gradientUnits="userSpaceOnUse" cx="3353" cy="1972" r="234"><stop offset="0" stop-color="#96fadc"/><stop offset="0.4" stop-color="#9af9d0"/><stop offset="0.62" stop-color="#a2f8a8"/><stop offset="0.8" stop-color="#98f252"/><stop offset="0.9" stop-color="#a0f678"/><stop offset="1" stop-color="#90fcd5"/></radialGradient><clipPath id="c1"><rect x="1972" y="1314" width="922" height="371"/></clipPath><clipPath id="c2"><rect x="2896" y="1314" width="922" height="371"/></clipPath><clipPath id="c3"><rect x="1972" y="1688" width="922" height="373"/></clipPath><clipPath id="c4"><rect x="2896" y="1688" width="922" height="373"/></clipPath></defs>
<rect x="1972.0" y="1314.0" width="1846.0" height="747.0" fill="#90fcd5" />
<rect x="1972.0" y="1684.0" width="1846.0" height="3.5" fill="#e0fff2" />
<rect x="2892.0" y="1314.0" width="4.0" height="747.0" fill="#aafde0" />
<g clip-path="url(#c1)">
<rect x="1972.0" y="1590.0" width="922.0" height="3.0" fill="#a4fcc8" opacity="0.8"/>
<polygon points="1972,1608 2254,1608 1972,1680" fill="#ffffff" />
<g filter="url(#cb2)">
<polygon points="1972,1677 2257,1607 2416,1592 2416,1684 1972,1684" fill="url(#t1)" />
<polygon points="2312,1604 2416,1592 2416,1684 2312,1684" fill="#f8201c" />
</g>
</g>
<line x1="2370" y1="1645" x2="2455" y2="1631" stroke="#000" stroke-width="5"/>
<text x="2467" y="1652" font-size="70" font-style="italic" fill="#000">S</text>
<text x="2504" y="1665" font-size="40" fill="#000">1</text>
<path d="M2470,1592 H2532 M2514,1582 L2533,1592 L2514,1602" fill="none" stroke="#000" stroke-width="4"/>
<rect x="1972.0" y="1314.0" width="200.0" height="84.0" fill="#c6fdea" />
<text x="1999" y="1381" font-size="66.6" text-anchor="start" fill="#000" >20 ms</text>
<g clip-path="url(#c2)">
<rect x="2896.0" y="1590.0" width="922.0" height="3.0" fill="#a4fcc8" opacity="0.8"/>
<polygon points="2896,1608 3202,1608 2896,1682" fill="#ffffff" />
<g filter="url(#cb)">
<path d="M3262,1690 L3262,1612 C3264,1560 3288,1510 3339,1506 C3384,1506 3420,1540 3428,1594 L3436,1594 L3436,1690 Z" fill="#94f030"/>
<ellipse cx="3302" cy="1614" rx="17" ry="15" fill="#a8f8a8"/>
<path d="M3352,1524 C3358,1550 3360,1580 3352,1606 C3344,1632 3318,1652 3304,1672 L3298,1692" fill="none" stroke="#ecf83e" stroke-width="15" stroke-linecap="round"/>
<path d="M3360,1528 C3385,1522 3404,1540 3414,1562 L3426,1594 L3362,1594 C3366,1570 3364,1548 3360,1528 Z" fill="#f89a34"/>
<path d="M3386,1538 C3408,1548 3420,1572 3426,1594 L3384,1594 C3390,1572 3390,1554 3386,1538 Z" fill="#f8381e"/>
<path d="M3360,1594 L3436,1594 L3436,1692 L3308,1692 C3322,1668 3346,1650 3354,1626 Z" fill="#f8902c"/>
</g>
<g filter="url(#cb2)">
<polygon points="2896,1680 3204,1607 3262,1604 3262,1684 2896,1684" fill="url(#t2)" />
<polygon points="3364,1592 3434,1592 3434,1684 3324,1684 3350,1648 3362,1618" fill="#f8201c" />
<circle cx="3338" cy="1585" r="7" fill="#58b8f0"/><circle cx="3338" cy="1585" r="4" fill="#1040e0"/>
</g>
</g>
<line x1="3387" y1="1647" x2="3471" y2="1634" stroke="#000" stroke-width="5"/>
<text x="3481" y="1654" font-size="70" font-style="italic" fill="#000">S</text>
<text x="3518" y="1667" font-size="40" fill="#000">1</text>
<path d="M3485,1594 H3547 M3529,1584 L3548,1594 L3529,1604" fill="none" stroke="#000" stroke-width="4"/>
<rect x="2896.0" y="1314.0" width="200.0" height="84.0" fill="#c6fdea" />
<text x="2921" y="1381" font-size="66.6" text-anchor="start" fill="#000" >25 ms</text>
<g clip-path="url(#c3)">
<rect x="1972.0" y="1970.0" width="922.0" height="3.0" fill="#a4fcc8" opacity="0.8"/>
<g filter="url(#cb)">
<path d="M2246,1974 A172,178 0 0 1 2590,1974 L2590,1990 L2246,1990 Z" fill="url(#d3)"/>
<path d="M2470,1830 Q2560,1870 2572,1972 L2540,1972 Q2535,1890 2470,1830 Z" fill="#d0f43a" opacity="0.8"/>
</g>
<polygon points="1972,1988 2284,1988 1972,2060" fill="#ffffff" />
<g filter="url(#cb)">
<polygon points="2390,1970 2586,1970 2586,2066 2420,2066" fill="#a8f8d0" />
<polygon points="2452,1972 2586,1972 2586,2066 2478,2066 2470,2010" fill="#8cee28" />
<polygon points="2466,1972 2586,1972 2586,2066 2492,2066 2484,2010" fill="#f0ec28" />
<polygon points="2478,1972 2586,1972 2586,2066 2504,2066 2496,2010" fill="#f88028" />
</g>
<g filter="url(#cb2)">
<path d="M1972,2057 L2286,1987 L2378,1972 L2392,1972 Q2420,2010 2432,2040 L2436,2066 L1972,2066 Z" fill="#0a32e0"/>
<path d="M2486,1972 L2588,1972 L2588,2066 L2512,2066 Q2508,2030 2495,2005 Z" fill="#f8201c"/>
<circle cx="2410" cy="1957" r="13" fill="#58b8f0"/><circle cx="2410" cy="1957" r="10" fill="#0a32e0"/>
<circle cx="2452" cy="1963" r="9" fill="#58b8f0"/><circle cx="2452" cy="1963" r="6" fill="#0a32e0"/>
</g>
</g>
<line x1="2544" y1="2021" x2="2620" y2="2021" stroke="#000" stroke-width="5"/>
<text x="2628" y="2042" font-size="70" font-style="italic" fill="#000">S</text>
<text x="2665" y="2055" font-size="40" fill="#000">1</text>
<path d="M2632,1983 H2694 M2676,1973 L2695,1983 L2676,1993" fill="none" stroke="#000" stroke-width="4"/>
<rect x="1972.0" y="1688.0" width="200.0" height="84.0" fill="#c6fdea" />
<text x="1999" y="1752.5" font-size="66.6" text-anchor="start" fill="#000" >30 ms</text>
<g clip-path="url(#c4)">
<rect x="2896.0" y="1970.0" width="922.0" height="3.0" fill="#a4fcc8" opacity="0.8"/>
<g filter="url(#cb)">
<path d="M3120,1974 A233,236 0 0 1 3586,1974 L3586,1990 L3120,1990 Z" fill="url(#d4)"/>
<path d="M3440,1775 Q3560,1840 3574,1972 L3548,1972 Q3535,1860 3440,1775 Z" fill="#b8f43a" opacity="0.8"/>
</g>
<polygon points="2896,1988 3175,1988 2896,2060" fill="#ffffff" />
<g filter="url(#cb)">
<polygon points="3430,1970 3603,1970 3603,2066 3380,2066" fill="#a0f8d8" />
<path d="M3470,1972 Q3440,2020 3450,2066 L3603,2066 L3603,1972 Z" fill="#8cee28"/>
<path d="M3490,1972 Q3460,2020 3468,2066 L3603,2066 L3603,1972 Z" fill="#a4f8b0"/>
<path d="M3500,1972 Q3480,2020 3484,2066 L3603,2066 L3603,1972 Z" fill="#f0ec28"/>
<path d="M3508,1972 Q3496,2020 3498,2066 L3603,2066 L3603,1972 Z" fill="#f88028"/>
</g>
<g filter="url(#cb3)">
<ellipse cx="3364" cy="1950" rx="72" ry="48" fill="#58c8f0"/>
</g>
<g filter="url(#cb)">
<path d="M2896,2057 L3177,1987 L3320,1972 L3436,1972 L3380,2066 L2896,2066 Z" fill="url(#t4)"/>
<path d="M3308,1975 Q3306,1925 3350,1916 Q3405,1914 3420,1950 L3426,1976 Z" fill="#0a32e0"/>
</g>
<g filter="url(#cb2)">
<path d="M3515,1972 L3605,1972 L3605,2066 L3508,2066 Q3505,2010 3515,1972 Z" fill="#f8201c"/>
</g>
</g>
<line x1="3565" y1="2017" x2="3640" y2="2017" stroke="#000" stroke-width="5"/>
<text x="3650" y="2039" font-size="70" font-style="italic" fill="#000">S</text>
<text x="3687" y="2052" font-size="40" fill="#000">1</text>
<path d="M3654,1979 H3716 M3698,1969 L3717,1979 L3698,1989" fill="none" stroke="#000" stroke-width="4"/>
<rect x="2896.0" y="1688.0" width="200.0" height="84.0" fill="#c6fdea" />
<text x="2921" y="1752.5" font-size="66.6" text-anchor="start" fill="#000" >35 ms</text>
<text x="2439" y="2151" font-size="61" text-anchor="start" fill="#000" >(c) Internal flow field simulation<tspan font-size="34" dy="-20">[89-90]</tspan></text>
<g filter="url(#b1)">
<rect x="1121.4" y="2541.0" width="486.0" height="4.0" fill="#c8cccc" opacity="0.7"/>
<rect x="1121.4" y="2533.0" width="2.0" height="95.0" fill="#c9d2cc" opacity="0.7"/>
<rect x="1159.4" y="2533.0" width="2.0" height="95.0" fill="#c9d2cc" opacity="0.7"/>
<rect x="1197.4" y="2533.0" width="2.0" height="95.0" fill="#c9d2cc" opacity="0.7"/>
<rect x="1235.4" y="2533.0" width="2.0" height="95.0" fill="#c9d2cc" opacity="0.7"/>
<rect x="1273.4" y="2533.0" width="2.0" height="95.0" fill="#c9d2cc" opacity="0.7"/>
<rect x="1311.4" y="2533.0" width="2.0" height="95.0" fill="#c9d2cc" opacity="0.7"/>
<rect x="1349.4" y="2533.0" width="2.0" height="95.0" fill="#c9d2cc" opacity="0.7"/>
<rect x="1387.4" y="2533.0" width="2.0" height="95.0" fill="#c9d2cc" opacity="0.7"/>
<rect x="1425.4" y="2533.0" width="2.0" height="95.0" fill="#c9d2cc" opacity="0.7"/>
<rect x="1463.4" y="2533.0" width="2.0" height="95.0" fill="#c9d2cc" opacity="0.7"/>
<rect x="1501.4" y="2533.0" width="2.0" height="95.0" fill="#c9d2cc" opacity="0.7"/>
<rect x="1539.4" y="2533.0" width="2.0" height="95.0" fill="#c9d2cc" opacity="0.7"/>
<rect x="1577.4" y="2533.0" width="2.0" height="95.0" fill="#c9d2cc" opacity="0.7"/>
<rect x="1127.4" y="2578.0" width="62.0" height="24.0" fill="#a4a6ae" />
<polygon points="1127.4,2595 1189.4,2582 1189.4,2600 1127.4,2600" fill="#c8a0b0" />
<polygon points="1183.4,2583 1189.4,2580 1189.4,2599 1183.4,2599" fill="#a080d0" />
<polygon points="1189.4,2582 1241.4,2567 1310.4,2554 1384.4,2551 1384.4,2597 1189.4,2599" fill="#b9a99d" />
<rect x="1384.4" y="2551.0" width="110.0" height="46.0" fill="#90b070" />
<rect x="1493.4" y="2539.0" width="112.0" height="78.0" fill="#8d93aa" />
<rect x="1127.4" y="2600.0" width="62.0" height="6.0" fill="#4a4f6a" />
<rect x="1127.4" y="2615.0" width="478.0" height="3.0" fill="#6a7090" />
<rect x="1127.4" y="2621.0" width="478.0" height="3.0" fill="#9aa0b8" />
<rect x="1141.4" y="2599.0" width="3.0" height="18.0" fill="#7a80a0" opacity="0.8"/>
<rect x="1167.4" y="2599.0" width="3.0" height="18.0" fill="#7a80a0" opacity="0.8"/>
<rect x="1193.4" y="2599.0" width="3.0" height="18.0" fill="#7a80a0" opacity="0.8"/>
<rect x="1219.4" y="2599.0" width="3.0" height="18.0" fill="#7a80a0" opacity="0.8"/>
<rect x="1245.4" y="2599.0" width="3.0" height="18.0" fill="#7a80a0" opacity="0.8"/>
<rect x="1271.4" y="2599.0" width="3.0" height="18.0" fill="#7a80a0" opacity="0.8"/>
<rect x="1297.4" y="2599.0" width="3.0" height="18.0" fill="#7a80a0" opacity="0.8"/>
<rect x="1323.4" y="2599.0" width="3.0" height="18.0" fill="#7a80a0" opacity="0.8"/>
<rect x="1349.4" y="2599.0" width="3.0" height="18.0" fill="#7a80a0" opacity="0.8"/>
<rect x="1375.4" y="2599.0" width="3.0" height="18.0" fill="#7a80a0" opacity="0.8"/>
<rect x="1401.4" y="2599.0" width="3.0" height="18.0" fill="#7a80a0" opacity="0.8"/>
<rect x="1427.4" y="2599.0" width="3.0" height="18.0" fill="#7a80a0" opacity="0.8"/>
<rect x="1453.4" y="2599.0" width="3.0" height="18.0" fill="#7a80a0" opacity="0.8"/>
<rect x="1479.4" y="2599.0" width="3.0" height="18.0" fill="#7a80a0" opacity="0.8"/>
<rect x="1191.4" y="2601.0" width="300.0" height="4.0" fill="#8088a8" opacity="0.8"/>
<rect x="1191.4" y="2605.0" width="36.0" height="8.0" fill="#b8bcc8" opacity="0.8"/>
<rect x="1236.4" y="2605.0" width="36.0" height="8.0" fill="#b8bcc8" opacity="0.8"/>
<rect x="1281.4" y="2605.0" width="36.0" height="8.0" fill="#b8bcc8" opacity="0.8"/>
<rect x="1326.4" y="2605.0" width="36.0" height="8.0" fill="#b8bcc8" opacity="0.8"/>
<rect x="1371.4" y="2605.0" width="36.0" height="8.0" fill="#b8bcc8" opacity="0.8"/>
</g>
<text x="1138.4" y="2584" font-size="50" text-anchor="start" fill="#000" transform="rotate(-17 1138.4 2584)" >Louvres</text>
<text x="1543.4" y="2621" font-size="50" text-anchor="start" fill="#000" transform="rotate(-90 1543.4 2621)" >Wall</text>
<text x="1605.5" y="2507" font-size="50" text-anchor="end" fill="#000" >Long ABS configuration</text>
<text x="1101.4" y="2590" font-size="50" text-anchor="end" fill="#000" >412 kPa CG driver</text>
<path d="M474.1,2997.5 L480.6,2987.0 L487.1,2976.4 L493.6,2965.5 L500.1,2954.3 L506.6,2942.8 L513.1,2931.1 L519.6,2919.5 L526.1,2908.0 L532.6,2896.7 L539.1,2885.9 L545.6,2875.5 L552.1,2865.5 L558.6,2856.0 L565.2,2846.9 L571.7,2838.2 L578.2,2830.0 L584.7,2822.2 L591.2,2814.8 L597.7,2807.9 L604.2,2801.5 L610.7,2795.7 L617.2,2790.4 L623.7,2785.7 L630.2,2781.3 L636.7,2777.2 L643.2,2773.2 L649.7,2769.4 L656.2,2765.8 L662.7,2762.3 L669.2,2759.0 L675.7,2756.0 L682.2,2753.1 L688.7,2750.4 L695.2,2747.9 L701.7,2745.6 L708.2,2743.4 L714.7,2741.5 L721.2,2739.8 L727.7,2738.3 L734.2,2736.9 L740.7,2735.8 L747.2,2734.8 L753.7,2734.1 L760.2,2733.5 L766.7,2733.1 L773.3,2732.7 L779.8,2732.5 L786.3,2732.4 L792.8,2732.5 L799.3,2732.8 L805.8,2733.2 L812.3,2733.8 L818.8,2734.6 L825.3,2735.6 L831.8,2736.7 L838.3,2737.9 L844.8,2739.3 L851.3,2740.8 L857.8,2742.4 L864.3,2744.1 L870.8,2745.9 L877.3,2747.8 L883.8,2749.7 L890.3,2751.6 L897.0,2753.5 L903.6,2755.3 L910.0,2756.8 L915.9,2758.1 L921.6,2759.3 L927.2,2760.5 L933.2,2761.9 L939.5,2763.6 L946.0,2765.4 L952.5,2767.3 L959.0,2769.4 L965.5,2771.5 L972.0,2773.7 L978.5,2775.9 L985.0,2778.2 L991.5,2780.5 L998.0,2782.9 L1004.5,2785.2 L1011.0,2787.5 L1017.5,2789.8 L1024.0,2792.1 L1030.6,2794.3 L1037.1,2796.4 L1043.6,2798.4 L1050.5,2800.4 L1057.8,2802.2 L1065.5,2803.7 L1073.3,2804.3 L1081.0,2804.1 L1088.2,2803.1 L1095.2,2801.9 L1102.0,2800.7 L1108.6,2799.5 L1115.1,2798.4 L1121.6,2797.3 L1128.1,2796.1 L1134.6,2795.0 L1141.1,2793.8 L1147.6,2792.7 L1154.1,2791.7 L1160.6,2790.7 L1167.1,2789.9 L1173.6,2789.1 L1180.1,2788.3 L1186.6,2787.5 L1193.1,2786.7 L1199.6,2785.8 L1206.1,2784.8 L1212.6,2783.8 L1219.1,2782.9 L1225.6,2782.0 L1232.1,2781.1 L1238.6,2780.3 L1245.2,2779.6 L1251.7,2779.0 L1258.2,2778.3 L1264.7,2777.7 L1271.2,2777.1 L1277.7,2776.6 L1284.2,2776.1 L1290.7,2775.7 L1297.2,2775.2 L1303.7,2774.7 L1310.2,2774.1 L1316.7,2773.4 L1323.2,2772.6 L1329.7,2771.7 L1336.2,2770.9 L1342.7,2770.1 L1349.2,2769.2 L1355.7,2768.4 L1362.2,2767.5 L1368.7,2766.7 L1375.2,2765.8 L1381.7,2764.9 L1388.2,2763.9 L1394.7,2762.8 L1401.2,2761.5 L1407.7,2760.2 L1414.2,2758.9 L1420.7,2757.7 L1427.2,2756.4 L1433.7,2755.3 L1440.2,2754.1 L1446.7,2753.0 L1453.3,2751.9 L1459.8,2750.8 L1466.3,2749.6 L1472.8,2748.4 L1479.3,2747.1 L1485.8,2745.8 L1492.3,2744.5 L1498.8,2743.2 L1505.3,2741.9 L1511.8,2740.6 L1518.3,2739.3 L1524.8,2738.0 L1531.3,2736.7 L1537.8,2735.3 L1544.3,2733.9 L1550.8,2732.4 L1557.3,2730.8 L1563.8,2729.2 L1570.3,2727.6 L1577.0,2725.9 L1583.8,2724.2 L1590.8,2722.3 L1598.0,2720.4 L1605.3,2718.5 L1612.6,2716.5" fill="none" stroke="#f82a38" stroke-width="3.8" stroke-linejoin="bevel" stroke-dasharray="3 5" opacity="0.85"/>
<path d="M474.1,2997.5 L480.6,2985.7 L487.1,2973.8 L493.6,2961.6 L500.1,2949.1 L506.6,2936.3 L513.1,2923.3 L519.6,2910.4 L526.1,2897.8 L532.6,2885.8 L539.1,2874.3 L545.6,2863.4 L552.1,2852.4 L558.6,2841.3 L565.2,2830.1 L571.7,2819.4 L578.2,2809.4 L584.7,2800.1 L591.2,2791.4 L597.7,2783.2 L604.2,2775.6 L610.7,2768.7 L617.2,2762.6 L623.7,2757.2 L630.2,2752.4 L636.7,2748.0 L643.2,2743.9 L649.7,2740.0 L656.2,2736.1 L662.7,2732.3 L669.2,2728.6 L675.7,2725.1 L682.2,2721.9 L688.7,2718.9 L695.2,2716.0 L701.7,2713.4 L708.2,2711.0 L714.7,2708.9 L721.2,2706.9 L727.7,2705.2 L734.2,2703.7 L740.7,2702.4 L747.2,2701.4 L753.7,2700.6 L760.2,2700.0 L766.7,2699.5 L773.3,2699.2 L779.8,2698.9 L786.3,2698.8 L792.8,2698.8 L799.3,2698.9 L805.8,2699.1 L812.3,2699.4 L818.8,2699.8 L825.3,2700.2 L831.8,2700.7 L838.3,2701.3 L844.8,2702.0 L851.3,2702.9 L857.8,2703.9 L864.3,2705.0 L870.8,2706.2 L877.3,2707.4 L883.8,2708.6 L890.3,2709.7 L897.0,2710.9 L903.6,2712.1 L910.0,2713.5 L915.9,2714.9 L921.6,2716.3 L927.2,2717.5 L933.2,2718.3 L939.5,2718.9 L946.0,2719.4 L952.5,2719.9 L959.0,2720.3 L965.5,2720.6 L972.0,2720.9 L978.5,2721.1 L985.0,2721.2 L991.5,2721.2 L998.0,2721.3 L1004.6,2721.4 L1011.3,2721.5 L1018.3,2721.5 L1025.6,2721.3 L1033.2,2720.7 L1040.8,2719.6 L1048.2,2717.9 L1055.4,2715.9 L1062.4,2713.6 L1069.2,2711.3 L1075.9,2709.0 L1082.5,2706.9 L1089.1,2704.9 L1095.6,2702.9 L1102.1,2701.0 L1108.6,2699.1 L1115.1,2697.4 L1121.6,2695.8 L1128.1,2694.5 L1134.6,2693.1 L1141.1,2691.8 L1147.6,2690.6 L1154.1,2689.5 L1160.6,2688.5 L1167.1,2687.7 L1173.6,2686.9 L1180.1,2686.1 L1186.6,2685.3 L1193.1,2684.4 L1199.6,2683.5 L1206.1,2682.5 L1212.6,2681.4 L1219.1,2680.4 L1225.6,2679.4 L1232.1,2678.4 L1238.6,2677.4 L1245.2,2676.5 L1251.7,2675.6 L1258.2,2674.7 L1264.7,2673.8 L1271.2,2672.9 L1277.7,2672.1 L1284.2,2671.3 L1290.7,2670.5 L1297.2,2669.7 L1303.7,2668.9 L1310.2,2668.2 L1316.7,2667.5 L1323.2,2666.7 L1329.7,2666.0 L1336.2,2665.3 L1342.7,2664.6 L1349.2,2663.8 L1355.7,2663.0 L1362.2,2662.2 L1368.7,2661.3 L1375.2,2660.5 L1381.7,2659.6 L1388.2,2658.6 L1394.7,2657.6 L1401.2,2656.6 L1407.7,2655.5 L1414.2,2654.4 L1420.7,2653.3 L1427.2,2652.2 L1433.7,2651.2 L1440.2,2650.2 L1446.7,2649.2 L1453.3,2648.3 L1459.8,2647.3 L1466.3,2646.3 L1472.8,2645.4 L1479.3,2644.6 L1485.8,2643.9 L1492.3,2643.3 L1498.8,2642.8 L1505.3,2642.5 L1511.8,2642.2 L1518.3,2642.0 L1524.8,2641.9 L1531.3,2642.0 L1537.8,2642.2 L1544.3,2642.4 L1550.8,2642.6 L1557.3,2642.8 L1563.8,2643.0 L1570.3,2643.2 L1577.0,2643.3 L1583.8,2643.4 L1590.8,2643.4 L1598.0,2643.4 L1605.3,2643.3 L1612.6,2643.2" fill="none" stroke="#1a40ec" stroke-width="3.8" stroke-linejoin="bevel" stroke-dasharray="3 5" opacity="0.85"/>
<path d="M245.9,2997.8 L474.1,2997.8 L474.1,2997.5 L474.1,2544.9" fill="none" stroke="#f82a38" stroke-width="5.6" stroke-linejoin="bevel" />
<path d="M474.1,2544.9 L473.6,2545.0 L474.8,2539.7 L473.8,2546.2 L475.2,2536.4 L476.1,2540.0 L476.1,2537.9 L476.8,2538.1 L476.9,2537.1 L478.0,2547.6 L478.5,2545.7 L479.0,2548.2 L479.0,2545.6 L479.7,2556.9 L480.9,2546.9 L480.9,2556.1 L481.5,2557.4 L480.9,2554.9 L481.9,2560.7 L483.3,2559.9 L482.8,2561.6 L482.7,2561.8 L484.0,2562.3 L483.8,2564.6 L484.5,2567.2 L483.7,2560.5 L484.5,2563.8 L484.7,2558.0 L483.7,2552.7 L483.9,2555.3 L485.1,2551.2 L484.7,2548.7 L484.0,2551.4 L485.4,2547.5 L484.9,2550.2 L485.1,2548.3 L485.7,2550.2 L485.7,2544.5 L485.1,2544.9 L485.7,2539.4 L485.2,2535.5 L485.5,2538.7 L485.5,2536.7 L484.5,2530.7 L485.1,2530.6 L486.8,2526.6 L485.8,2528.1 L487.0,2520.9 L487.8,2522.1 L490.1,2521.9 L492.2,2519.4 L491.5,2524.8 L492.8,2527.5 L492.9,2529.9 L493.7,2530.0 L494.7,2529.1 L495.4,2539.9 L494.6,2534.9 L495.3,2534.6 L495.7,2541.4 L496.1,2539.5 L496.1,2542.9 L497.1,2546.8 L497.2,2543.0 L497.2,2548.3 L496.9,2544.1 L497.1,2550.1 L498.4,2551.3 L496.7,2551.2 L498.4,2547.4 L497.3,2557.2 L497.3,2554.6 L498.4,2560.8 L498.7,2558.9 L499.3,2565.0 L499.5,2567.1 L499.7,2568.3 L500.0,2568.5 L498.9,2569.1 L499.7,2571.6 L499.3,2572.2 L500.4,2570.8 L500.6,2574.9 L500.8,2573.7 L500.8,2580.0 L501.6,2575.4 L501.7,2583.7 L501.2,2583.7 L502.0,2580.6 L501.8,2590.8 L501.6,2590.5 L502.4,2594.7 L502.1,2589.0 L502.1,2589.9 L502.4,2599.2 L504.2,2594.7 L503.8,2601.2 L504.0,2601.1 L502.6,2605.6 L504.6,2604.4 L504.5,2608.8 L504.4,2601.6 L504.3,2605.9 L505.6,2611.4 L505.7,2601.2 L505.6,2612.2 L506.0,2611.9 L506.9,2615.9 L506.1,2621.5 L507.0,2615.4 L507.0,2621.8 L506.7,2621.9 L508.4,2619.4 L507.7,2625.9 L509.5,2624.5 L508.3,2629.0 L509.3,2632.9 L509.6,2633.4 L509.8,2636.0 L511.0,2637.1 L511.6,2640.9 L512.0,2640.5 L511.5,2641.1 L513.0,2642.0 L512.8,2641.6 L512.6,2647.8 L512.2,2649.0 L514.3,2647.6 L516.4,2649.7 L516.1,2651.6 L517.9,2650.0 L519.4,2648.7 L521.2,2651.8 L521.3,2652.2 L523.6,2652.0 L523.2,2646.0 L524.5,2643.1 L525.6,2647.8 L525.8,2640.7 L526.1,2643.9 L526.7,2641.7 L527.8,2638.6 L528.8,2648.1 L529.8,2642.4 L531.4,2645.2 L532.8,2645.2 L534.3,2648.5 L535.7,2645.9 L535.5,2650.9 L535.6,2649.4 L535.9,2651.1 L537.5,2657.1 L537.6,2652.7 L537.9,2653.1 L538.0,2654.6 L539.3,2653.6 L539.4,2656.2 L540.7,2659.7 L539.8,2663.1 L540.5,2663.7 L541.9,2666.8 L542.3,2664.2 L542.0,2667.2 L543.3,2667.3 L544.5,2667.7 L543.7,2671.5 L544.1,2672.5 L544.8,2679.2 L545.5,2674.4 L545.9,2682.8 L547.1,2681.4 L546.5,2685.0 L546.5,2682.2 L548.5,2684.6 L549.1,2687.5 L549.8,2683.7 L550.8,2691.1 L550.8,2696.7 L552.7,2692.8 L553.9,2694.5 L553.4,2691.7 L554.9,2694.3 L555.5,2697.6 L557.0,2700.4 L557.1,2701.1 L558.6,2696.7 L559.3,2698.5 L561.3,2700.4 L563.3,2689.9 L563.6,2693.7 L564.4,2692.9 L564.8,2697.9 L565.7,2701.2 L566.2,2701.4 L567.1,2706.1 L566.6,2708.3 L567.4,2703.0 L568.9,2704.6 L569.1,2704.6 L569.4,2708.1 L570.4,2711.8 L570.9,2712.3 L571.1,2714.5 L572.3,2713.0 L573.5,2711.6 L574.4,2718.9 L575.2,2716.6 L574.7,2719.1 L576.3,2719.6 L577.4,2722.0 L578.5,2721.0 L578.8,2724.7 L578.8,2721.2 L580.5,2723.4 L581.2,2730.3 L582.8,2733.7 L582.8,2736.7 L583.5,2735.7 L583.9,2741.5 L584.4,2738.7 L585.4,2734.6 L585.7,2739.9 L587.0,2738.4 L588.1,2744.6 L588.9,2746.0 L588.4,2749.4 L589.4,2750.4 L589.2,2752.9 L590.2,2752.1 L590.6,2756.6 L590.6,2756.7 L591.1,2755.2 L592.1,2757.8 L591.8,2762.8 L592.3,2755.6 L593.2,2759.9 L593.8,2769.1 L593.8,2770.2 L594.7,2773.5 L595.1,2773.4 L595.4,2771.4 L595.6,2773.2 L595.4,2779.3 L596.9,2777.9 L596.9,2777.0 L597.6,2781.5 L596.9,2780.5 L597.7,2786.1 L599.5,2787.4 L599.6,2787.9 L600.0,2786.9 L600.3,2784.4 L600.5,2793.3 L600.0,2796.6 L600.7,2795.4 L601.3,2794.1 L601.6,2794.9 L602.5,2801.6 L602.3,2799.1 L602.1,2805.5 L604.4,2799.5 L606.7,2804.2 L607.5,2806.2 L608.6,2803.5 L610.6,2804.5 L612.1,2807.0 L613.0,2808.9 L615.4,2809.6 L618.2,2806.0 L619.3,2806.6 L620.8,2805.5 L620.4,2805.2 L621.4,2811.1 L623.6,2808.5 L624.2,2815.1 L624.0,2817.0 L626.1,2809.5 L626.2,2816.8 L627.5,2820.8 L628.5,2814.6 L628.1,2819.9 L629.4,2820.2 L629.9,2818.6 L630.8,2818.7 L631.9,2830.0 L632.3,2828.4 L632.7,2825.6 L634.0,2828.8 L634.3,2830.2 L633.6,2834.2 L633.4,2832.7 L634.3,2838.1 L635.4,2837.4 L635.8,2838.2 L636.3,2835.4 L636.0,2845.1 L637.0,2839.9 L637.8,2842.0 L638.3,2843.6 L640.0,2847.6 L641.6,2847.5 L641.5,2848.6 L642.5,2849.8 L642.5,2856.5 L644.8,2853.0 L645.1,2856.2 L645.5,2859.8 L646.0,2859.3 L648.1,2862.8 L648.3,2859.7 L649.2,2857.3 L649.5,2863.6 L650.6,2863.3 L651.5,2866.9 L651.3,2870.1 L653.1,2875.2 L652.8,2871.0 L654.9,2870.3 L656.9,2873.9 L658.6,2874.0 L659.7,2876.6 L662.4,2875.6 L664.2,2874.1 L665.5,2874.7 L667.1,2874.3 L668.1,2878.1 L668.2,2872.8 L671.1,2882.4 L672.5,2881.1 L673.9,2879.9 L674.1,2879.2 L675.2,2881.9 L675.6,2880.0 L677.1,2886.6 L677.5,2889.4 L678.8,2890.3 L679.7,2888.2 L680.1,2889.5 L681.2,2890.1 L681.9,2894.1 L682.2,2894.5 L682.8,2894.9 L684.7,2900.7 L686.4,2900.8 L686.4,2898.5 L687.9,2902.7 L687.6,2900.9 L689.0,2902.1 L689.0,2902.6 L691.4,2906.4 L691.9,2906.0 L692.4,2907.6 L693.7,2910.0 L693.8,2916.3 L694.9,2921.4 L694.6,2919.1 L695.4,2919.1 L696.9,2925.2 L696.8,2925.4 L697.8,2927.8 L698.0,2924.3 L698.4,2928.8 L699.8,2929.1 L700.4,2927.9 L702.1,2932.2 L701.3,2938.0 L701.8,2939.2 L704.9,2939.2 L705.4,2939.7 L707.0,2935.3 L708.6,2944.3 L709.4,2944.4 L712.2,2939.9 L712.2,2939.6 L714.5,2943.5 L715.2,2947.1 L717.5,2944.4 L719.5,2948.9 L721.0,2945.8 L722.3,2945.1 L724.0,2945.0 L725.8,2942.9 L726.3,2945.7 L727.7,2947.1 L729.4,2948.7 L729.9,2952.4 L730.5,2955.4 L731.7,2953.6 L732.0,2958.7 L732.5,2957.5 L734.8,2959.8 L736.4,2962.2 L736.8,2960.2 L738.5,2961.0 L738.9,2960.8 L742.0,2964.3 L743.1,2961.9 L743.7,2962.9 L746.2,2966.6 L748.0,2968.6 L749.2,2970.1 L749.7,2970.4 L751.2,2967.6 L752.8,2974.8 L752.8,2973.6 L755.2,2970.0 L756.3,2972.0 L756.4,2971.7 L758.1,2970.2 L759.3,2978.7 L758.5,2976.7 L759.7,2982.2 L760.5,2980.7 L761.7,2981.7 L760.8,2988.9 L761.9,2985.4 L761.7,2989.4 L762.5,2988.3 L762.7,2986.6 L763.3,2990.3 L763.6,2995.9 L763.4,2995.6 L765.1,3002.3 L766.9,3004.7 L767.7,3006.9 L767.5,3010.2 L768.6,3006.9 L769.4,3006.9 L770.7,3007.8 L771.5,3001.9 L773.2,2998.6 L774.4,2997.1 L774.9,2996.9 L775.1,2994.2 L776.6,2993.2 L777.4,2994.0 L779.6,3000.7 L780.8,2998.7 L781.4,2999.3 L783.0,3003.0 L785.2,3001.5 L786.5,3005.6 L788.0,3006.1 L788.5,3002.2 L788.4,3007.5 L791.5,3013.0 L791.6,3009.6 L793.3,3010.1 L795.5,3009.0 L796.3,3010.6 L797.7,3015.1 L797.9,3016.3 L798.2,3017.7 L798.9,3014.5 L800.0,3019.9 L799.8,3022.6 L801.3,3018.9 L802.3,3025.1 L801.7,3025.8 L803.3,3023.5 L804.2,3019.5 L804.7,3019.8 L807.4,3020.6 L807.3,3022.2 L809.4,3023.5 L810.8,3015.7 L812.2,3020.7 L813.2,3016.8 L815.6,3018.6 L817.5,3021.0 L818.2,3022.7 L820.1,3022.4 L822.1,3027.0 L822.2,3023.4 L824.7,3027.3 L825.6,3026.3 L826.8,3030.4 L828.4,3030.9 L830.3,3032.0 L831.9,3031.9 L832.9,3033.1 L833.4,3035.5 L835.0,3035.5 L836.9,3038.4 L838.5,3035.3 L839.3,3034.8 L840.5,3039.7 L841.6,3037.2 L843.0,3041.2 L843.8,3045.2 L844.3,3049.5 L846.1,3047.2 L847.8,3047.3 L849.6,3041.9 L850.8,3045.9 L853.1,3042.4 L854.8,3040.6 L856.6,3043.1 L859.0,3037.1 L859.7,3041.7 L860.8,3046.0 L863.1,3044.4 L863.9,3045.9 L865.0,3047.4 L867.5,3046.8 L868.4,3046.6 L869.9,3045.3 L870.3,3050.6 L872.2,3054.5 L875.0,3053.4 L875.3,3055.6 L876.9,3057.8 L877.3,3055.3 L880.3,3050.0 L881.3,3053.6 L882.7,3055.2 L883.7,3055.3 L884.9,3057.2 L887.4,3054.3 L889.4,3059.0 L890.2,3054.1 L891.5,3062.1 L893.5,3056.9 L894.2,3057.8 L895.4,3060.0 L896.2,3068.8 L897.5,3066.1 L898.2,3065.8 L898.8,3066.6 L901.2,3063.5 L901.8,3066.4 L904.1,3071.5 L904.9,3066.4 L906.9,3064.9 L907.4,3063.3 L909.9,3061.1 L911.1,3061.2 L911.8,3064.1 L914.8,3067.0 L916.2,3065.2 L917.6,3069.0 L920.5,3073.5 L921.0,3074.8 L923.5,3070.8 L924.9,3069.5 L926.2,3075.5 L928.3,3066.8 L929.8,3075.0 L931.8,3070.4 L932.0,3076.6 L933.6,3078.7 L934.9,3077.4 L937.4,3075.8 L939.6,3072.6 L939.9,3079.9 L941.8,3075.3 L943.3,3076.4 L945.2,3078.3 L946.7,3078.5 L948.3,3078.7 L949.5,3079.3 L950.4,3081.5 L952.5,3080.1 L954.6,3082.4 L955.7,3088.0 L957.6,3084.0 L958.6,3083.8 L960.7,3085.4 L962.3,3084.1 L963.9,3081.8 L965.6,3086.8 L967.2,3086.6 L969.0,3086.2 L970.5,3084.4 L970.6,3083.0 L974.9,3085.6 L974.9,3084.3 L975.5,3080.3 L976.1,3080.0 L977.0,3078.0 L979.0,3071.0 L979.0,3075.3 L980.0,3070.8 L980.7,3070.6 L981.4,3064.6 L983.1,3069.4 L984.3,3068.7 L986.3,3067.5 L987.0,3067.1 L989.7,3070.3 L991.0,3069.3 L993.0,3075.0 L994.2,3068.6 L996.4,3076.2 L997.4,3074.0 L999.3,3072.1 L1001.6,3066.7 L1003.1,3070.4 L1005.2,3075.2 L1006.5,3071.9 L1008.9,3071.6 L1010.2,3075.1 L1011.5,3070.5 L1014.3,3067.0 L1015.8,3071.8 L1017.9,3065.3 L1018.4,3069.1 L1020.0,3064.9 L1022.0,3066.9 L1023.8,3066.7 L1026.3,3065.8 L1027.7,3070.5 L1029.2,3063.5 L1031.2,3065.7 L1032.3,3065.4 L1034.3,3067.1 L1035.3,3064.0 L1036.0,3065.9 L1038.5,3066.8 L1040.0,3064.3 L1041.4,3067.9 L1044.0,3063.1 L1044.6,3060.6 L1047.5,3058.1 L1048.8,3060.3 L1049.3,3056.8 L1051.7,3061.5 L1052.5,3066.7 L1054.8,3065.5 L1056.4,3066.3 L1057.6,3059.2 L1058.7,3057.5 L1060.9,3058.8 L1061.6,3060.4 L1062.4,3064.1 L1064.4,3061.9 L1064.3,3057.7 L1065.4,3062.2 L1066.8,3050.9 L1067.3,3053.4 L1069.1,3049.1 L1069.3,3047.4 L1070.8,3054.0 L1070.1,3051.2 L1072.3,3056.1 L1072.1,3063.5 L1074.1,3059.9 L1075.3,2907.7 L1075.3,2909.7 L1074.8,2904.9 L1075.9,2900.6 L1076.3,2899.1 L1076.3,2903.9 L1078.0,2895.0 L1078.2,2900.5 L1078.1,2895.4 L1079.5,2895.0 L1080.7,2892.9 L1080.2,2893.8 L1080.3,2892.5 L1079.4,2893.1 L1079.8,2895.1 L1079.8,2895.4 L1080.3,2900.3 L1079.4,2897.3 L1079.8,2906.7 L1080.9,2903.4 L1080.4,2907.6 L1079.6,2908.5 L1079.5,2908.8 L1081.0,2909.6 L1079.6,2915.2 L1080.1,2913.5 L1080.3,2917.8 L1080.2,2914.4 L1080.9,2922.6 L1081.0,2919.6 L1081.7,2920.4 L1080.6,2928.4 L1080.6,2927.2 L1080.3,2923.0 L1081.3,2930.9 L1081.7,2928.9 L1081.0,2937.3 L1080.7,2933.0 L1081.5,2934.6 L1080.7,2932.8 L1081.7,2937.0 L1081.3,2940.9 L1082.3,2944.7 L1081.5,2945.0 L1081.4,2946.5 L1082.5,2946.2 L1080.8,2947.5 L1081.5,2948.5 L1082.4,2950.1 L1081.5,2952.8 L1081.3,2954.4 L1081.9,2952.0 L1081.7,2955.3 L1082.1,2954.0 L1081.4,2959.9 L1082.0,2964.5 L1082.0,2965.2 L1081.7,2961.0 L1081.3,2967.7 L1081.2,2969.9 L1081.9,2972.2 L1082.0,2972.1 L1081.3,2975.2 L1083.2,2970.6 L1082.0,2972.9 L1082.8,2974.7 L1083.6,2966.8 L1083.6,2967.6 L1083.1,2966.7 L1084.6,2961.6 L1083.3,2962.0 L1084.4,2960.7 L1084.0,2954.0 L1085.2,2959.9 L1085.2,2958.3 L1085.7,2953.0 L1085.3,2957.1 L1085.3,2952.1 L1086.6,2949.6 L1086.7,2946.0 L1087.1,2948.0 L1088.0,2941.8 L1086.8,2936.8 L1087.6,2942.9 L1088.9,2945.1 L1089.2,2942.3 L1091.0,2942.6 L1091.6,2939.0 L1093.5,2944.4 L1095.3,2948.2 L1095.5,2944.0 L1096.1,2946.2 L1098.1,2951.4 L1099.1,2945.5 L1100.1,2945.1 L1100.2,2948.6 L1100.8,2948.7 L1100.5,2954.6 L1101.2,2958.4 L1101.7,2958.1 L1102.5,2959.4 L1102.9,2958.6 L1102.5,2964.8 L1102.8,2964.8 L1103.9,2967.5 L1103.8,2973.3 L1104.9,2975.4 L1104.7,2976.1 L1105.4,2969.8 L1104.5,2981.7 L1106.5,2971.8 L1107.8,2977.6 L1108.7,2969.7 L1109.5,2966.8 L1109.2,2970.9 L1110.5,2963.5 L1110.4,2961.4 L1112.5,2959.9 L1113.7,2963.9 L1114.6,2959.5 L1115.9,2960.3 L1115.5,2958.5 L1117.6,2969.7 L1118.3,2963.1 L1121.0,2960.5 L1121.1,2967.4 L1122.2,2968.7 L1123.7,2970.1 L1124.5,2971.8 L1125.7,2974.7 L1126.6,2973.1 L1127.5,2974.9 L1128.2,2973.7 L1129.9,2976.6 L1130.9,2980.8 L1131.1,2980.6 L1132.0,2980.4 L1132.6,2982.3 L1133.9,2976.0 L1136.4,2976.5 L1137.9,2981.7 L1139.4,2978.6 L1140.1,2978.4 L1142.1,2974.7 L1142.6,2977.7 L1143.9,2974.2 L1143.7,2972.7 L1144.0,2971.9 L1145.4,2968.8 L1145.7,2967.5 L1147.1,2967.9 L1146.9,2969.9 L1146.2,2965.4 L1147.6,2960.9 L1148.3,2957.5 L1149.1,2958.3 L1148.7,2954.8 L1149.2,2955.9 L1150.3,2955.6 L1151.2,2956.6 L1151.0,2956.9 L1152.6,2961.8 L1153.4,2954.6 L1153.8,2958.3 L1155.6,2962.2 L1155.8,2963.1 L1157.0,2963.0 L1157.2,2969.6 L1157.8,2964.9 L1158.9,2971.1 L1160.9,2964.3 L1163.1,2963.9 L1164.7,2962.6 L1165.7,2961.6 L1166.3,2961.1 L1167.9,2960.7 L1170.7,2963.6 L1172.0,2960.6 L1172.7,2956.8 L1174.2,2958.0 L1175.4,2952.1 L1177.7,2953.8 L1178.1,2956.3 L1180.4,2945.1 L1181.9,2949.5 L1182.5,2949.6 L1182.7,2957.1 L1183.0,2961.0 L1184.0,2958.2 L1185.4,2962.6 L1186.0,2962.8 L1187.8,2961.9 L1188.8,2969.9 L1189.5,2965.7 L1190.0,2968.5 L1190.2,2970.0 L1191.3,2971.1 L1191.7,2970.4 L1193.6,2975.1 L1194.3,2975.2 L1196.0,2976.4 L1197.4,2978.0 L1199.9,2974.7 L1199.5,2981.4 L1200.9,2978.7 L1202.3,2977.4 L1203.5,2983.8 L1205.8,2980.7 L1206.3,2981.2 L1206.6,2981.8 L1208.2,2985.3 L1209.8,2990.1 L1211.7,2989.1 L1212.7,2990.4 L1213.7,2989.8 L1214.2,2984.1 L1215.7,2989.1 L1216.3,2989.5 L1217.1,2986.5 L1218.5,2982.1 L1218.7,2980.1 L1221.1,2978.9 L1221.3,2979.5 L1222.2,2979.1 L1223.4,2973.8 L1224.3,2979.4 L1225.5,2973.6 L1225.1,2975.8 L1225.7,2969.1 L1227.6,2969.9 L1227.3,2962.8 L1226.4,2964.6 L1228.6,2963.4 L1227.4,2965.0 L1229.6,2960.9 L1229.7,2961.5 L1230.5,2951.6 L1231.3,2957.6 L1231.9,2954.5 L1232.1,2954.4 L1232.9,2952.7 L1233.0,2952.8 L1232.9,2953.8 L1233.2,2957.6 L1234.3,2953.3 L1235.1,2960.0 L1234.7,2957.2 L1234.7,2967.1 L1234.6,2967.7 L1236.7,2967.7 L1236.7,2961.6 L1237.0,2968.5 L1237.6,2968.5 L1238.3,2970.0 L1239.5,2973.5 L1239.2,2972.9 L1239.8,2976.7 L1240.4,2977.9 L1241.5,2973.6 L1243.0,2978.2 L1244.7,2979.6 L1246.7,2974.5 L1248.6,2969.5 L1249.9,2970.0 L1250.9,2971.9 L1253.6,2975.3 L1254.9,2971.1 L1254.6,2967.9 L1256.9,2971.7 L1260.5,2968.2 L1260.6,2968.3 L1262.4,2965.8 L1263.1,2964.8 L1264.8,2964.2 L1265.4,2964.5 L1268.6,2966.7 L1270.3,2965.4 L1270.9,2967.0 L1273.4,2965.9 L1275.5,2972.4 L1276.4,2971.2 L1279.1,2974.3 L1280.0,2973.1 L1282.3,2969.0 L1283.7,2968.3 L1285.3,2969.8 L1286.3,2974.4 L1288.6,2969.1 L1290.2,2966.9 L1290.8,2967.5 L1291.8,2974.9 L1293.4,2960.7 L1293.6,2964.2 L1295.7,2964.3 L1297.8,2960.2 L1298.7,2959.5 L1300.0,2970.7 L1300.7,2960.4 L1302.8,2960.5 L1304.7,2967.3 L1306.9,2970.3 L1307.3,2967.0 L1309.2,2972.0 L1310.9,2971.6 L1311.3,2970.5 L1313.6,2967.6 L1314.2,2971.5 L1316.7,2968.9 L1317.9,2977.0 L1320.7,2972.3 L1321.5,2978.0 L1323.5,2976.4 L1326.3,2980.4 L1328.2,2968.9 L1328.6,2972.2 L1330.0,2977.3 L1331.4,2976.1 L1334.2,2975.5 L1335.3,2974.6 L1336.1,2973.7 L1336.8,2978.0 L1338.4,2969.1 L1339.2,2974.9 L1340.3,2967.9 L1341.8,2971.0 L1342.7,2966.9 L1345.2,2966.3 L1345.2,2966.2 L1346.9,2967.9 L1348.7,2967.7 L1349.9,2967.9 L1352.1,2965.4 L1354.4,2959.3 L1355.9,2963.5 L1356.7,2958.5 L1358.4,2961.4 L1360.0,2964.7 L1362.3,2962.4 L1363.6,2966.4 L1365.5,2961.7 L1367.2,2965.1 L1368.6,2964.1 L1370.2,2968.1 L1371.6,2970.2 L1372.5,2967.9 L1375.4,2971.7 L1376.0,2967.8 L1377.8,2976.4 L1378.8,2977.8 L1380.3,2977.2 L1382.3,2975.5 L1382.9,2972.2 L1384.1,2971.7 L1385.4,2973.1 L1387.8,2972.6 L1389.2,2965.8 L1390.2,2972.3 L1390.9,2967.3 L1394.3,2969.3 L1395.3,2970.2 L1396.4,2969.2 L1398.6,2963.0 L1398.9,2965.0 L1400.7,2965.2 L1402.5,2961.7 L1404.1,2960.3 L1404.8,2961.6 L1405.5,2957.8 L1407.2,2962.5 L1410.1,2965.1 L1411.2,2964.3 L1412.7,2965.8 L1413.6,2967.4 L1416.4,2970.7 L1416.2,2967.1 L1418.4,2963.4 L1420.1,2967.1 L1421.3,2961.6 L1422.4,2963.4 L1424.2,2960.2 L1424.8,2963.3 L1427.2,2960.9 L1429.4,2960.0 L1430.4,2959.5 L1432.6,2962.9 L1433.8,2959.0 L1434.7,2953.4 L1437.4,2956.8 L1438.7,2954.5 L1441.1,2956.6 L1441.9,2957.2 L1443.5,2959.4 L1445.6,2954.1 L1447.5,2952.3 L1449.0,2951.2 L1450.3,2957.0 L1452.2,2951.0 L1454.9,2949.5 L1456.1,2953.1 L1457.8,2955.2 L1459.4,2958.5 L1461.0,2950.8 L1462.8,2951.5 L1462.4,2951.5 L1464.5,2946.1 L1464.3,2947.5 L1465.3,2945.2 L1465.2,2939.2 L1466.4,2936.1 L1467.2,2943.9 L1468.0,2935.9 L1470.0,2937.1 L1469.9,2935.6 L1470.9,2943.3 L1471.8,2941.8 L1472.9,2943.1 L1473.3,2948.3 L1473.8,2946.6 L1475.5,2946.2 L1476.4,2949.5 L1477.8,2948.1 L1477.8,2954.2 L1477.8,2954.9 L1479.0,2958.7 L1480.2,2956.7 L1481.4,2954.9 L1481.9,2957.0 L1482.8,2955.2 L1483.3,2952.9 L1484.6,2948.9 L1485.0,2948.0 L1485.0,2954.4 L1485.4,2945.5 L1485.9,2945.5 L1486.6,2946.2 L1487.5,2943.4 L1487.9,2938.5 L1489.5,2936.9 L1489.7,2939.3 L1489.6,2939.0 L1491.4,2936.6 L1491.1,2935.1 L1492.6,2937.8 L1492.7,2932.6 L1494.1,2933.5 L1493.9,2931.2 L1495.0,2931.8 L1495.4,2935.1 L1496.9,2941.9 L1496.6,2944.7 L1498.6,2942.7 L1499.6,2946.2 L1500.1,2939.1 L1501.2,2942.6 L1502.1,2947.8 L1502.9,2945.0 L1503.1,2947.5 L1505.0,2949.4 L1504.9,2952.2 L1506.9,2950.0 L1507.3,2950.4 L1509.9,2951.5 L1510.7,2945.7 L1512.3,2945.7 L1513.6,2947.0 L1515.2,2952.1 L1517.1,2942.9 L1518.2,2944.3 L1519.4,2949.1 L1521.3,2939.9 L1523.2,2945.8 L1523.9,2941.9 L1525.9,2942.2 L1526.8,2937.3 L1529.3,2938.0 L1530.3,2944.1 L1530.6,2939.7 L1532.2,2946.5 L1533.5,2947.2 L1533.7,2945.0 L1534.6,2950.6 L1535.9,2953.3 L1537.0,2956.4 L1537.6,2951.4 L1537.7,2957.5 L1538.9,2958.3 L1540.7,2958.1 L1542.2,2961.2 L1542.7,2953.9 L1543.8,2954.4 L1544.4,2954.9 L1545.4,2947.6 L1546.9,2955.5 L1546.6,2949.8 L1548.2,2947.3 L1548.0,2945.5 L1548.4,2941.2 L1549.1,2942.4 L1548.8,2940.4 L1549.5,2935.9 L1549.2,2934.6 L1549.1,2936.3 L1550.1,2929.3 L1550.0,2927.0 L1549.5,2929.7 L1549.9,2924.0 L1551.0,2926.4 L1550.3,2921.2 L1551.0,2922.3 L1550.3,2924.3 L1551.1,2917.5 L1550.7,2912.2 L1551.1,2912.9 L1551.6,2909.0 L1552.3,2910.1 L1552.6,2907.7 L1552.2,2906.2 L1552.7,2907.6 L1553.4,2911.0 L1554.1,2911.3 L1556.4,2909.1 L1555.2,2915.3 L1556.5,2908.6 L1557.3,2918.2 L1558.3,2921.3 L1558.6,2925.1 L1560.0,2922.8 L1561.4,2926.4 L1560.9,2922.0 L1562.4,2927.9 L1563.1,2934.0 L1565.1,2928.2 L1565.3,2928.9 L1566.8,2933.1 L1568.1,2934.6 L1569.9,2934.5 L1569.9,2932.6 L1571.9,2936.1 L1574.9,2931.9 L1575.6,2934.6 L1575.8,2930.1 L1578.8,2926.2 L1579.7,2924.6 L1580.8,2926.5 L1581.8,2928.1 L1582.6,2931.3 L1584.0,2936.2 L1585.8,2935.8 L1586.7,2933.1 L1587.3,2934.4 L1588.9,2941.0 L1589.6,2938.3 L1590.9,2934.5 L1592.1,2937.0 L1594.2,2937.1 L1595.5,2941.0 L1597.0,2943.2 L1597.8,2935.1 L1600.2,2934.0 L1601.1,2933.5 L1603.1,2932.6 L1605.9,2932.6 L1606.3,2930.5 L1608.7,2929.1 L1608.9,2923.1 L1611.0,2929.2 L1612.6,2927.2" fill="none" stroke="#f82a38" stroke-width="4.5" stroke-linejoin="bevel" />
<path d="M245.9,2997.8 L474.1,2997.8 L474.1,2997.5 L474.1,2425.9" fill="none" stroke="#1a40ec" stroke-width="5.6" stroke-linejoin="bevel" />
<path d="M474.1,2425.9 L474.1,2425.9 L475.3,2498.0 L476.3,2493.2 L475.8,2492.9 L476.1,2490.6 L475.9,2493.8 L475.6,2491.2 L476.0,2491.9 L476.1,2488.6 L477.4,2487.8 L477.3,2488.6 L476.3,2484.2 L477.4,2480.8 L477.6,2481.7 L477.8,2478.9 L478.3,2475.6 L479.1,2471.0 L478.4,2476.6 L478.5,2474.0 L478.8,2471.2 L479.3,2469.9 L480.1,2468.3 L480.0,2467.8 L479.4,2466.2 L479.8,2466.2 L480.3,2463.2 L480.6,2466.5 L480.8,2468.8 L480.3,2470.0 L481.0,2466.2 L481.3,2470.4 L481.7,2474.1 L480.8,2477.8 L482.2,2477.4 L481.3,2478.3 L482.2,2481.7 L482.2,2480.6 L482.5,2483.8 L482.9,2488.3 L483.2,2486.7 L482.6,2493.1 L482.8,2488.5 L484.3,2487.7 L483.5,2489.3 L485.0,2492.5 L486.1,2492.1 L487.4,2491.9 L489.2,2487.7 L490.2,2488.8 L490.6,2494.6 L490.6,2502.9 L490.9,2501.8 L491.4,2499.5 L492.1,2499.1 L491.8,2502.7 L492.1,2502.7 L492.3,2498.7 L492.3,2510.8 L493.8,2505.7 L493.6,2510.6 L493.3,2511.0 L493.8,2511.8 L494.5,2514.7 L494.8,2513.1 L495.4,2520.5 L495.3,2517.5 L496.6,2515.0 L496.5,2517.5 L495.8,2524.4 L497.7,2524.3 L496.5,2526.3 L496.8,2534.2 L498.3,2528.4 L498.0,2530.2 L498.6,2531.1 L498.6,2534.8 L499.7,2538.8 L499.8,2532.8 L500.5,2536.6 L500.4,2538.7 L500.7,2546.4 L501.2,2544.2 L502.1,2543.7 L502.0,2544.0 L502.0,2544.2 L503.0,2551.4 L503.1,2548.7 L503.0,2552.4 L504.4,2555.3 L503.7,2555.0 L504.3,2560.1 L504.6,2563.8 L505.2,2567.8 L505.3,2559.0 L505.6,2565.2 L505.5,2569.3 L505.7,2568.3 L506.6,2573.6 L507.4,2577.2 L507.8,2573.6 L507.8,2576.6 L507.8,2578.0 L508.3,2580.4 L509.0,2584.0 L510.2,2579.3 L511.7,2580.2 L512.0,2580.8 L513.4,2575.1 L514.4,2573.7 L516.8,2572.5 L517.7,2574.0 L517.8,2574.3 L518.7,2581.2 L518.4,2580.3 L519.2,2578.0 L520.1,2579.3 L520.9,2581.5 L520.8,2583.9 L521.8,2579.5 L522.8,2583.1 L524.5,2582.5 L526.1,2590.2 L527.2,2590.3 L528.4,2591.8 L529.1,2591.0 L530.2,2595.2 L531.9,2590.4 L531.4,2596.1 L532.0,2601.0 L532.0,2600.5 L533.8,2599.5 L533.3,2600.0 L534.2,2600.7 L534.1,2604.2 L534.3,2606.6 L534.7,2609.3 L536.1,2607.2 L535.7,2609.5 L535.9,2609.9 L535.1,2618.4 L536.3,2619.2 L537.1,2616.3 L537.2,2618.1 L537.7,2620.5 L537.4,2624.5 L537.7,2630.1 L538.7,2623.2 L538.9,2625.5 L539.3,2626.2 L539.2,2633.1 L539.6,2632.1 L539.9,2632.6 L540.1,2634.2 L541.0,2634.0 L540.6,2641.2 L540.0,2637.0 L542.3,2639.1 L543.1,2639.1 L541.9,2640.9 L543.3,2646.9 L542.9,2644.8 L543.0,2653.6 L544.0,2648.2 L544.2,2652.1 L545.1,2650.6 L545.7,2652.1 L546.8,2650.5 L546.9,2650.8 L549.9,2649.8 L550.9,2647.8 L551.7,2646.4 L553.2,2649.6 L554.5,2650.1 L556.6,2646.6 L557.0,2651.0 L558.8,2656.2 L559.6,2648.6 L560.6,2651.2 L561.7,2656.3 L563.3,2657.3 L564.0,2653.5 L565.6,2658.9 L566.1,2661.6 L567.7,2655.9 L569.3,2660.4 L570.0,2663.4 L570.5,2665.5 L571.1,2667.2 L571.1,2669.6 L572.0,2672.7 L573.0,2675.9 L572.8,2673.6 L575.0,2679.0 L574.7,2677.3 L575.6,2683.0 L575.4,2685.9 L576.7,2680.5 L577.3,2689.8 L578.4,2688.7 L578.0,2693.1 L577.3,2691.4 L578.6,2693.0 L579.0,2695.9 L579.5,2688.5 L579.9,2691.4 L580.4,2697.3 L580.8,2700.7 L580.9,2703.9 L581.3,2704.9 L581.5,2709.2 L582.3,2705.7 L583.3,2704.4 L582.9,2707.5 L584.0,2709.5 L582.9,2713.9 L584.5,2715.3 L584.5,2716.0 L585.2,2720.4 L585.2,2721.1 L586.5,2720.4 L585.7,2721.4 L586.6,2721.9 L588.5,2725.2 L587.8,2727.1 L588.6,2725.8 L589.6,2726.5 L589.5,2734.2 L589.5,2737.3 L590.0,2732.5 L590.0,2736.0 L591.0,2734.0 L591.1,2739.8 L592.0,2738.3 L592.5,2742.8 L592.5,2748.1 L592.8,2745.9 L593.6,2744.4 L594.0,2747.6 L594.6,2751.6 L596.0,2751.7 L596.0,2754.1 L597.3,2752.8 L597.0,2755.8 L597.1,2754.6 L598.3,2760.6 L600.3,2759.0 L599.1,2758.0 L599.7,2759.7 L600.8,2762.1 L602.2,2765.5 L602.7,2758.5 L604.5,2759.1 L604.6,2757.4 L605.7,2755.0 L606.8,2755.0 L607.3,2754.3 L608.4,2761.9 L608.6,2762.3 L609.4,2761.8 L611.0,2766.7 L611.1,2769.1 L611.8,2764.5 L612.9,2772.3 L613.2,2774.7 L614.6,2774.0 L615.0,2770.3 L616.5,2775.7 L617.1,2775.8 L617.5,2780.8 L617.8,2785.5 L618.2,2783.1 L619.3,2783.7 L620.2,2785.4 L620.6,2789.4 L621.4,2794.5 L622.7,2793.9 L622.8,2800.2 L622.6,2792.1 L624.5,2794.2 L624.9,2796.2 L625.5,2797.7 L626.1,2797.4 L627.1,2802.2 L627.5,2805.5 L628.8,2804.3 L631.0,2806.0 L629.9,2807.2 L631.3,2806.9 L632.8,2809.8 L632.8,2813.3 L634.0,2811.0 L635.6,2811.0 L635.0,2815.2 L635.6,2819.0 L636.0,2820.5 L637.2,2817.4 L636.8,2819.6 L637.3,2824.2 L638.2,2824.3 L637.9,2825.3 L639.6,2826.7 L639.5,2826.9 L639.3,2829.8 L639.7,2828.9 L641.2,2834.1 L640.8,2832.1 L641.8,2837.2 L641.3,2834.6 L642.7,2836.3 L643.9,2838.4 L646.2,2836.4 L647.4,2832.2 L649.4,2839.9 L650.6,2841.6 L652.0,2841.2 L652.9,2842.0 L654.4,2842.3 L654.7,2849.3 L656.7,2851.0 L657.3,2847.4 L657.4,2852.0 L658.5,2856.5 L660.1,2852.2 L661.8,2861.7 L662.1,2857.3 L663.1,2858.7 L664.7,2858.7 L665.8,2864.2 L668.1,2862.2 L667.2,2864.0 L668.9,2866.0 L670.6,2861.4 L670.4,2864.7 L671.8,2869.1 L672.6,2873.5 L672.6,2878.1 L674.4,2871.7 L674.7,2870.9 L676.1,2872.4 L676.4,2871.9 L678.4,2874.4 L678.3,2874.2 L678.9,2881.5 L680.1,2881.7 L680.8,2884.3 L681.4,2884.4 L682.6,2883.7 L683.8,2890.2 L685.0,2890.3 L687.0,2891.1 L686.2,2891.2 L687.2,2890.7 L688.4,2890.2 L690.4,2892.2 L690.5,2895.2 L692.7,2896.4 L692.4,2897.8 L693.0,2897.4 L693.8,2898.7 L695.4,2900.0 L696.1,2905.0 L697.1,2906.3 L697.9,2910.3 L698.4,2912.4 L698.9,2909.9 L699.7,2907.4 L701.9,2911.4 L701.7,2912.6 L702.9,2918.0 L703.9,2915.9 L704.4,2918.9 L705.0,2918.8 L707.0,2917.2 L708.9,2914.7 L709.4,2911.2 L710.4,2911.1 L713.1,2906.8 L714.0,2912.8 L715.4,2915.1 L715.3,2923.8 L716.5,2917.8 L716.1,2923.1 L717.3,2922.1 L719.1,2916.3 L719.6,2915.3 L719.8,2920.5 L720.4,2926.4 L721.0,2924.8 L722.9,2927.2 L722.7,2931.7 L724.7,2933.9 L724.8,2937.2 L725.3,2934.0 L726.2,2933.9 L726.0,2935.8 L727.8,2942.2 L728.3,2941.8 L728.5,2942.2 L729.0,2940.5 L729.9,2943.1 L730.5,2941.6 L730.2,2948.0 L731.4,2950.3 L731.1,2947.7 L732.6,2949.8 L733.2,2949.9 L734.1,2958.6 L734.5,2956.4 L735.8,2955.7 L737.0,2958.6 L737.9,2967.8 L740.4,2966.1 L742.3,2962.6 L743.6,2959.3 L746.2,2964.2 L746.8,2968.5 L748.7,2962.6 L750.1,2965.4 L750.7,2964.8 L752.0,2964.2 L753.0,2965.0 L754.5,2971.0 L755.8,2969.9 L756.5,2975.5 L758.0,2973.1 L758.8,2970.9 L760.2,2975.4 L761.4,2969.8 L762.1,2973.1 L763.9,2967.0 L764.9,2969.9 L766.8,2965.8 L766.9,2971.8 L768.6,2964.9 L769.0,2971.7 L770.5,2975.2 L771.4,2975.1 L771.8,2976.5 L773.3,2973.1 L773.7,2972.9 L774.9,2983.2 L775.2,2980.8 L776.6,2981.1 L776.5,2984.8 L777.7,2986.7 L778.5,2990.2 L780.0,2990.8 L780.1,2990.3 L781.8,2994.5 L782.4,2994.3 L782.8,2994.7 L784.6,2985.8 L785.6,2988.5 L786.1,2996.4 L787.5,2994.9 L786.9,3000.6 L788.7,2998.7 L790.2,3000.0 L791.7,3001.3 L792.4,3000.4 L795.2,3002.9 L795.7,3002.9 L797.6,3002.8 L798.5,3010.5 L801.1,3004.3 L801.5,3013.4 L802.8,3008.5 L803.9,3014.2 L805.0,3014.7 L807.8,3017.9 L808.6,3015.5 L808.9,3017.4 L810.7,3022.3 L811.6,3019.7 L812.3,3019.4 L813.4,3017.7 L814.0,3016.8 L816.5,3027.1 L817.4,3026.7 L819.1,3022.4 L821.4,3023.9 L823.3,3025.2 L823.5,3025.6 L825.1,3029.6 L826.6,3022.8 L828.5,3029.8 L829.5,3024.8 L830.3,3023.1 L832.0,3018.5 L832.4,3026.8 L834.1,3021.2 L835.5,3019.0 L836.3,3015.1 L836.9,3017.3 L838.1,3025.1 L840.0,3016.9 L841.0,3019.9 L842.9,3024.3 L843.1,3025.8 L844.5,3025.4 L847.0,3024.1 L847.2,3026.7 L850.1,3026.5 L851.1,3026.7 L852.7,3027.5 L853.7,3027.4 L854.8,3031.2 L856.4,3026.4 L857.8,3029.3 L859.8,3031.6 L860.2,3028.8 L862.3,3025.7 L864.1,3025.4 L866.0,3030.3 L866.6,3031.9 L868.4,3026.9 L870.0,3020.4 L871.3,3027.4 L872.6,3023.4 L872.3,3029.9 L875.9,3033.3 L877.5,3031.0 L878.9,3026.9 L880.0,3034.7 L881.0,3030.0 L882.5,3028.3 L883.7,3031.2 L883.8,3027.0 L886.2,3025.9 L887.6,3022.4 L888.2,3022.2 L889.5,3019.2 L891.0,3022.5 L892.5,3023.0 L892.0,3021.5 L895.1,3031.4 L895.2,3025.5 L896.7,3028.1 L898.1,3030.1 L900.1,3036.7 L900.8,3032.9 L902.9,3030.3 L904.6,3035.7 L905.7,3030.5 L907.4,3034.2 L908.3,3031.6 L908.9,3034.6 L910.7,3028.5 L912.4,3032.8 L912.1,3029.1 L913.5,3033.0 L914.3,3024.5 L916.3,3029.9 L916.8,3022.8 L918.0,3030.4 L919.7,3022.7 L922.0,3024.4 L922.7,3026.9 L924.0,3029.3 L925.6,3029.8 L927.3,3029.5 L928.2,3030.0 L930.0,3034.1 L931.3,3040.4 L933.1,3033.2 L934.2,3028.2 L936.2,3024.4 L938.6,3030.1 L939.0,3033.1 L940.2,3027.0 L942.2,3030.9 L943.3,3022.8 L944.5,3023.5 L946.2,3020.6 L949.2,3026.2 L950.0,3026.5 L952.2,3028.5 L953.5,3024.7 L954.9,3029.6 L957.5,3028.5 L957.8,3027.5 L957.7,3020.4 L957.7,3023.4 L957.7,3021.6 L957.3,3020.4 L957.7,3014.7 L959.2,3017.6 L958.6,3015.8 L958.0,3014.3 L957.4,3017.0 L958.0,3005.6 L959.2,3012.7 L958.0,3008.4 L959.2,3003.3 L958.8,3003.8 L958.0,3002.5 L958.7,2999.9 L958.6,2999.2 L959.3,2994.7 L958.6,2994.9 L959.5,2998.0 L959.2,2999.1 L959.4,2997.5 L960.0,3004.9 L958.9,3002.2 L959.2,3000.3 L960.1,2999.6 L959.8,3002.4 L960.2,3010.3 L960.7,3014.7 L960.0,3010.6 L960.1,3010.0 L959.8,3015.4 L960.2,3015.8 L960.7,3016.5 L961.0,3019.2 L960.9,3024.5 L963.3,3023.1 L964.2,3021.5 L965.0,3025.6 L967.6,3022.9 L968.5,3030.8 L970.5,3025.0 L970.9,3028.8 L973.0,3029.1 L973.4,3025.4 L974.5,3026.2 L975.1,3033.3 L976.6,3023.6 L977.0,3021.4 L978.2,3018.0 L979.1,3024.2 L979.2,3017.2 L981.4,3013.5 L982.2,3010.9 L981.9,3017.2 L983.2,3011.5 L984.2,3012.4 L985.2,3006.3 L985.8,3008.0 L987.3,3005.7 L987.1,3009.6 L988.0,3002.7 L989.3,3003.0 L989.6,3002.4 L990.5,3002.1 L991.3,3008.2 L992.9,2998.9 L993.7,2999.2 L994.2,2994.2 L996.4,2999.9 L996.6,3000.1 L998.5,2996.7 L999.5,2997.3 L1001.4,3002.4 L1002.4,2999.9 L1003.1,3003.3 L1005.6,2998.6 L1007.2,3002.6 L1007.4,3000.8 L1008.4,2994.1 L1009.8,2994.8 L1011.5,2998.0 L1013.5,2999.4 L1014.1,2996.5 L1015.7,3005.0 L1017.2,2998.8 L1018.7,3002.6 L1020.2,3002.6 L1021.7,3009.1 L1023.4,3002.3 L1024.1,3002.1 L1025.5,2996.7 L1026.7,2993.3 L1028.7,3000.8 L1030.7,2992.4 L1032.2,2994.2 L1032.6,2990.9 L1033.5,2994.7 L1034.7,2995.5 L1035.9,2997.4 L1036.5,2987.4 L1037.4,2985.0 L1036.7,2982.2 L1038.7,2993.6 L1039.5,2988.1 L1040.3,2983.9 L1040.6,2982.6 L1042.2,2984.0 L1043.4,2980.9 L1044.9,2978.0 L1045.6,2837.5 L1045.0,2837.1 L1046.1,2842.6 L1046.2,2839.1 L1046.0,2844.4 L1046.1,2848.3 L1046.8,2850.5 L1046.0,2850.7 L1047.3,2849.3 L1048.1,2852.6 L1047.4,2853.1 L1047.5,2856.8 L1048.1,2856.6 L1048.7,2856.8 L1048.7,2856.2 L1048.9,2860.0 L1049.4,2856.0 L1049.5,2861.9 L1048.6,2860.2 L1050.1,2859.5 L1049.7,2862.2 L1050.8,2869.9 L1050.9,2866.5 L1050.6,2870.8 L1051.1,2876.3 L1050.8,2871.0 L1051.5,2875.0 L1051.8,2881.3 L1050.4,2878.6 L1051.6,2880.3 L1052.8,2882.4 L1052.9,2881.9 L1053.3,2886.8 L1052.6,2889.4 L1053.2,2884.0 L1053.3,2893.3 L1052.9,2895.4 L1053.2,2897.2 L1053.9,2892.9 L1053.3,2893.4 L1054.5,2897.6 L1055.1,2903.3 L1054.3,2904.0 L1055.2,2901.9 L1054.1,2906.5 L1055.6,2913.3 L1055.9,2912.2 L1054.8,2912.5 L1055.4,2915.7 L1056.8,2911.6 L1056.1,2913.0 L1056.3,2916.4 L1056.3,2917.8 L1058.1,2922.0 L1059.9,2922.4 L1061.4,2918.3 L1062.7,2917.3 L1063.0,2916.3 L1064.7,2922.3 L1065.5,2920.4 L1066.6,2922.0 L1068.2,2923.4 L1068.5,2922.1 L1068.5,2928.9 L1070.3,2923.6 L1070.5,2930.8 L1071.8,2935.4 L1071.9,2932.6 L1072.6,2932.5 L1073.4,2936.0 L1073.4,2939.2 L1074.2,2937.6 L1076.1,2938.2 L1075.2,2951.9 L1075.9,2944.0 L1077.2,2943.0 L1078.4,2939.4 L1079.4,2940.0 L1080.4,2939.3 L1080.7,2935.7 L1082.1,2929.9 L1082.8,2931.2 L1083.4,2932.0 L1085.2,2930.2 L1087.4,2936.1 L1087.5,2929.8 L1089.7,2936.8 L1091.4,2938.8 L1092.6,2935.6 L1093.5,2937.7 L1095.1,2935.7 L1095.9,2932.4 L1098.1,2927.1 L1098.9,2929.8 L1100.9,2929.7 L1102.0,2934.6 L1102.0,2934.7 L1102.4,2932.5 L1104.0,2938.5 L1104.9,2929.8 L1105.7,2940.6 L1107.0,2937.4 L1107.2,2941.0 L1108.7,2942.8 L1109.6,2943.2 L1111.4,2948.6 L1112.2,2947.7 L1113.9,2952.5 L1114.6,2947.2 L1116.4,2949.6 L1117.9,2952.0 L1117.9,2949.8 L1120.1,2954.4 L1121.2,2950.6 L1122.1,2953.6 L1122.5,2948.3 L1123.2,2944.1 L1124.4,2942.2 L1125.5,2946.1 L1125.3,2943.8 L1127.3,2943.2 L1127.5,2941.5 L1129.0,2944.4 L1129.6,2936.5 L1130.5,2944.2 L1131.6,2937.7 L1133.4,2947.4 L1133.3,2942.6 L1135.2,2941.8 L1135.4,2944.4 L1138.0,2951.2 L1138.3,2950.7 L1140.3,2954.2 L1140.8,2952.7 L1141.9,2957.0 L1143.2,2959.2 L1144.2,2960.9 L1145.3,2958.5 L1146.7,2960.9 L1147.9,2959.2 L1149.0,2956.7 L1150.9,2961.3 L1152.2,2956.7 L1153.2,2962.0 L1155.5,2967.5 L1157.5,2966.9 L1157.5,2963.7 L1159.9,2963.8 L1162.4,2965.9 L1163.4,2959.2 L1164.3,2959.0 L1167.1,2964.0 L1167.7,2958.3 L1169.3,2959.2 L1170.8,2958.1 L1170.8,2954.6 L1173.5,2957.7 L1174.6,2955.2 L1176.5,2960.6 L1176.4,2965.0 L1177.0,2963.0 L1178.8,2969.5 L1179.0,2964.1 L1180.6,2966.6 L1181.2,2970.2 L1182.6,2971.6 L1182.9,2972.0 L1184.0,2973.9 L1185.4,2982.8 L1186.3,2973.9 L1188.9,2977.0 L1189.3,2982.1 L1191.7,2978.8 L1191.5,2982.4 L1194.1,2977.5 L1195.9,2984.0 L1197.7,2983.8 L1198.2,2985.8 L1199.8,2984.0 L1200.2,2976.1 L1201.4,2974.3 L1201.2,2973.9 L1203.4,2973.7 L1204.4,2971.2 L1204.6,2969.1 L1206.3,2968.2 L1206.3,2969.4 L1207.9,2967.3 L1208.8,2961.6 L1210.0,2962.9 L1210.3,2963.9 L1211.1,2961.8 L1212.6,2958.7 L1212.5,2958.3 L1213.6,2955.6 L1214.8,2957.7 L1215.6,2955.8 L1217.6,2949.6 L1217.0,2955.9 L1218.9,2955.6 L1219.8,2956.6 L1220.2,2959.8 L1221.2,2958.1 L1221.8,2963.1 L1223.4,2963.1 L1225.2,2961.7 L1225.4,2959.6 L1225.6,2968.4 L1226.7,2959.5 L1228.9,2966.2 L1230.0,2967.5 L1231.1,2966.5 L1233.0,2966.3 L1234.3,2966.4 L1235.6,2969.5 L1236.0,2967.6 L1238.7,2971.2 L1239.6,2971.6 L1242.1,2966.6 L1242.7,2971.4 L1244.8,2969.2 L1246.3,2969.8 L1248.0,2966.3 L1249.7,2964.7 L1250.0,2965.2 L1251.2,2968.1 L1252.9,2967.9 L1253.1,2968.4 L1253.8,2959.6 L1253.6,2963.6 L1254.7,2961.9 L1255.8,2956.1 L1255.2,2957.9 L1256.2,2952.1 L1255.9,2961.0 L1256.8,2959.9 L1256.2,2963.0 L1257.0,2962.4 L1257.6,2958.7 L1257.6,2971.3 L1258.2,2969.7 L1258.4,2975.1 L1259.2,2974.0 L1259.3,2969.5 L1260.9,2970.0 L1263.1,2966.5 L1265.0,2964.8 L1266.3,2970.3 L1267.3,2976.2 L1269.0,2971.1 L1271.7,2976.7 L1271.9,2974.4 L1274.6,2969.9 L1275.9,2979.5 L1276.9,2972.7 L1279.6,2971.6 L1280.9,2977.8 L1282.7,2973.8 L1284.8,2976.3 L1285.8,2972.2 L1288.4,2972.2 L1288.5,2975.3 L1289.5,2976.3 L1291.6,2974.4 L1292.5,2971.4 L1295.3,2974.7 L1297.1,2971.4 L1297.3,2977.5 L1300.1,2972.8 L1301.4,2978.2 L1302.4,2974.7 L1304.2,2977.1 L1306.2,2979.0 L1307.6,2971.5 L1309.4,2976.1 L1311.1,2971.0 L1313.3,2965.1 L1315.0,2971.6 L1316.8,2973.2 L1317.4,2968.3 L1318.4,2968.8 L1319.4,2967.4 L1320.0,2966.7 L1320.2,2969.5 L1321.5,2965.2 L1321.9,2963.0 L1322.5,2960.5 L1322.4,2959.0 L1323.3,2957.9 L1324.7,2949.8 L1323.8,2956.0 L1325.0,2956.1 L1324.7,2953.4 L1325.9,2954.2 L1325.4,2955.9 L1325.4,2961.8 L1326.2,2963.9 L1326.7,2968.9 L1327.1,2970.6 L1327.8,2964.4 L1328.8,2972.2 L1330.3,2973.5 L1331.9,2969.4 L1333.7,2976.3 L1335.1,2977.9 L1335.4,2980.0 L1338.0,2980.8 L1339.0,2984.3 L1339.0,2982.0 L1341.4,2984.0 L1343.2,2980.4 L1346.3,2983.0 L1346.5,2980.4 L1347.9,2984.3 L1349.9,2987.2 L1350.5,2983.4 L1350.7,2982.1 L1351.5,2985.9 L1353.5,2981.9 L1354.8,2977.5 L1356.0,2978.3 L1356.7,2977.1 L1358.0,2978.9 L1359.5,2977.2 L1359.8,2973.1 L1360.7,2973.4 L1363.3,2959.0 L1363.7,2968.5 L1366.0,2966.3 L1368.3,2971.0 L1369.2,2967.6 L1370.9,2964.1 L1372.4,2967.9 L1373.4,2963.2 L1375.7,2964.2 L1376.5,2961.8 L1377.6,2958.1 L1377.9,2959.2 L1379.0,2956.7 L1381.3,2956.4 L1382.0,2954.6 L1382.3,2949.1 L1384.4,2951.6 L1385.5,2953.3 L1387.6,2952.9 L1389.6,2955.2 L1390.3,2955.1 L1392.0,2957.2 L1392.2,2959.0 L1394.6,2962.2 L1396.4,2958.4 L1397.7,2963.4 L1399.6,2957.6 L1401.6,2957.8 L1402.5,2964.5 L1403.5,2958.2 L1405.3,2958.2 L1407.8,2963.5 L1408.8,2968.8 L1408.9,2966.2 L1410.8,2960.1 L1411.9,2958.5 L1413.4,2961.3 L1413.5,2952.9 L1415.9,2955.9 L1417.0,2955.1 L1416.9,2957.9 L1419.3,2956.0 L1420.5,2953.2 L1422.1,2956.6 L1424.4,2950.0 L1426.1,2957.4 L1426.5,2953.3 L1427.6,2952.4 L1429.6,2948.8 L1432.1,2955.4 L1432.6,2947.8 L1433.6,2949.5 L1436.5,2948.4 L1437.5,2947.8 L1438.8,2948.5 L1440.8,2952.7 L1442.5,2947.3 L1443.3,2947.4 L1446.2,2946.4 L1448.0,2951.6 L1449.2,2947.7 L1451.4,2948.9 L1452.8,2948.6 L1454.0,2946.7 L1454.9,2947.8 L1456.4,2948.8 L1457.8,2953.0 L1458.4,2953.5 L1459.1,2956.1 L1460.9,2953.0 L1461.2,2961.2 L1463.2,2960.3 L1463.1,2965.7 L1463.1,2964.7 L1465.0,2964.5 L1466.0,2968.7 L1467.8,2966.1 L1468.6,2966.6 L1471.6,2968.1 L1472.2,2965.4 L1474.8,2967.9 L1475.4,2972.0 L1477.7,2969.2 L1479.0,2968.4 L1481.0,2965.7 L1481.3,2973.7 L1483.0,2973.4 L1484.5,2972.4 L1485.6,2970.1 L1487.1,2974.5 L1487.6,2975.0 L1488.8,2970.2 L1491.3,2979.1 L1492.1,2979.8 L1494.6,2983.9 L1496.2,2979.4 L1497.1,2980.1 L1498.3,2980.8 L1500.6,2975.7 L1500.2,2981.4 L1501.2,2984.5 L1503.1,2982.3 L1502.3,2986.3 L1503.9,2986.9 L1504.6,2985.2 L1505.2,2991.8 L1505.7,2996.6 L1506.4,2993.2 L1507.9,2995.8 L1510.1,2997.5 L1512.3,2996.6 L1513.6,3000.3 L1515.6,3001.1 L1516.7,3000.7 L1518.0,3002.4 L1520.2,3000.1 L1522.1,3004.0 L1522.8,3004.6 L1524.1,3005.8 L1525.6,3008.8 L1527.0,3002.3 L1529.4,3007.5 L1529.7,3005.7 L1531.0,3000.7 L1533.0,3007.3 L1534.6,2999.2 L1534.8,3001.0 L1537.9,2998.5 L1538.0,2999.5 L1540.1,2998.6 L1541.4,3000.7 L1541.8,2997.8 L1543.5,3000.0 L1545.5,3005.1 L1545.9,2999.1 L1547.9,3011.3 L1550.2,3004.3 L1550.8,3003.5 L1552.4,3011.6 L1553.4,3009.5 L1555.9,3009.0 L1557.6,3012.3 L1557.9,3013.2 L1559.3,3014.7 L1561.7,3017.1 L1562.0,3013.7 L1564.5,3018.5 L1565.8,3020.7 L1565.5,3013.2 L1567.0,3007.3 L1568.4,3011.9 L1569.6,3008.9 L1570.8,3011.6 L1570.5,3008.4 L1571.1,3010.7 L1574.1,3006.5 L1574.9,3006.5 L1575.2,2999.3 L1576.1,2997.2 L1575.6,2997.5 L1577.8,3001.2 L1578.2,2995.3 L1578.4,2993.9 L1580.3,2990.7 L1580.3,2990.2 L1580.2,2989.4 L1582.4,2991.2 L1582.4,2990.1 L1583.7,2993.3 L1583.5,2986.4 L1585.1,2977.7 L1585.7,2980.7 L1586.3,2984.2 L1587.9,2977.4 L1587.6,2973.7 L1589.4,2978.8 L1591.0,2982.3 L1592.7,2985.5 L1593.6,2983.5 L1594.3,2983.2 L1595.5,2983.1 L1596.7,2986.2 L1598.3,2985.4 L1598.5,2992.9 L1600.4,2991.5 L1601.6,2995.9 L1601.5,2996.9 L1603.8,2993.6 L1604.9,2991.9 L1605.3,2998.5 L1606.5,2997.7 L1607.2,2997.0 L1607.8,2996.6 L1609.9,3003.5 L1610.5,3003.4 L1611.4,3000.8 L1612.6,3007.2" fill="none" stroke="#1a40ec" stroke-width="4.5" stroke-linejoin="bevel" />
<rect x="245.9" y="2425.5" width="1368.6" height="702.5" fill="none" stroke="#000" stroke-width="4.8"/>
<text x="219.9" y="2447.5" font-size="65" text-anchor="end" fill="#000" >130</text>
<text x="1641.5" y="2445.2" font-size="65" text-anchor="start" fill="#000" >1 950</text>
<line x1="245.9" y1="2599.7" x2="264.9" y2="2599.7" stroke="#000" stroke-width="4.8"/>
<line x1="1614.5" y1="2599.7" x2="1595.5" y2="2599.7" stroke="#000" stroke-width="4.8"/>
<text x="219.9" y="2623.7" font-size="65" text-anchor="end" fill="#000" >90</text>
<text x="1641.5" y="2621.3999999999996" font-size="65" text-anchor="start" fill="#000" >1 350</text>
<line x1="245.9" y1="2775.7999999999997" x2="264.9" y2="2775.7999999999997" stroke="#000" stroke-width="4.8"/>
<line x1="1614.5" y1="2775.7999999999997" x2="1595.5" y2="2775.7999999999997" stroke="#000" stroke-width="4.8"/>
<text x="219.9" y="2799.7999999999997" font-size="65" text-anchor="end" fill="#000" >50</text>
<text x="1641.5" y="2797.4999999999995" font-size="65" text-anchor="start" fill="#000" >750</text>
<line x1="245.9" y1="2951.8999999999996" x2="264.9" y2="2951.8999999999996" stroke="#000" stroke-width="4.8"/>
<line x1="1614.5" y1="2951.8999999999996" x2="1595.5" y2="2951.8999999999996" stroke="#000" stroke-width="4.8"/>
<text x="219.9" y="2975.8999999999996" font-size="65" text-anchor="end" fill="#000" >10</text>
<text x="1641.5" y="2973.5999999999995" font-size="65" text-anchor="start" fill="#000" >150</text>
<text x="219.9" y="3152" font-size="65" text-anchor="end" fill="#000" >−30</text>
<text x="1641.5" y="3149.7" font-size="65" text-anchor="start" fill="#000" >450</text>
<text x="242.9" y="3204" font-size="65" text-anchor="middle" fill="#000" >−15</text>
<line x1="396.0" y1="3128" x2="396.0" y2="3109.5" stroke="#000" stroke-width="4.8"/>
<text x="396.0" y="3204" font-size="65" text-anchor="middle" fill="#000" >−5</text>
<line x1="549.1" y1="3128" x2="549.1" y2="3109.5" stroke="#000" stroke-width="4.8"/>
<text x="549.1" y="3204" font-size="65" text-anchor="middle" fill="#000" >5</text>
<line x1="702.1999999999999" y1="3128" x2="702.1999999999999" y2="3109.5" stroke="#000" stroke-width="4.8"/>
<text x="702.1999999999999" y="3204" font-size="65" text-anchor="middle" fill="#000" >15</text>
<line x1="855.3" y1="3128" x2="855.3" y2="3109.5" stroke="#000" stroke-width="4.8"/>
<text x="855.3" y="3204" font-size="65" text-anchor="middle" fill="#000" >25</text>
<line x1="1008.4" y1="3128" x2="1008.4" y2="3109.5" stroke="#000" stroke-width="4.8"/>
<text x="1008.4" y="3204" font-size="65" text-anchor="middle" fill="#000" >35</text>
<line x1="1161.5" y1="3128" x2="1161.5" y2="3109.5" stroke="#000" stroke-width="4.8"/>
<text x="1161.5" y="3204" font-size="65" text-anchor="middle" fill="#000" >45</text>
<line x1="1314.6000000000001" y1="3128" x2="1314.6000000000001" y2="3109.5" stroke="#000" stroke-width="4.8"/>
<text x="1314.6000000000001" y="3204" font-size="65" text-anchor="middle" fill="#000" >55</text>
<line x1="1467.7" y1="3128" x2="1467.7" y2="3109.5" stroke="#000" stroke-width="4.8"/>
<text x="1467.7" y="3204" font-size="65" text-anchor="middle" fill="#000" >65</text>
<text x="1620.8" y="3204" font-size="65" text-anchor="middle" fill="#000" >75</text>
<text x="928.9" y="3295" font-size="65.5" text-anchor="middle" fill="#000" >Time/ms</text>
<text x="63.900000000000006" y="2776" font-size="66" text-anchor="middle" fill="#000" transform="rotate(-90 63.900000000000006 2776)" >Reflected overpressure/kPa</text>
<text x="1875.5" y="2778" font-size="66" text-anchor="middle" fill="#000" transform="rotate(-90 1875.5 2778)" >Reflected impulse/(kPa·ms)</text>
<line x1="67.9" y1="2251" x2="94.9" y2="2251" stroke="#f82a38" stroke-width="5"/>
<line x1="67.9" y1="2306" x2="94.9" y2="2306" stroke="#1a40ec" stroke-width="5"/>
<text x="114.9" y="2267" font-size="50" text-anchor="start" fill="#000" >No transition louvres</text>
<text x="114.9" y="2321" font-size="50" text-anchor="start" fill="#000" >Modification with transition louvres</text>
<line x1="887.9" y1="2251" x2="915.9" y2="2251" stroke="#f82a38" stroke-width="4.5" stroke-dasharray="4 4"/>
<line x1="887.9" y1="2306" x2="915.9" y2="2306" stroke="#1a40ec" stroke-width="4.5" stroke-dasharray="4 4"/>
<text x="932.9" y="2267" font-size="50" text-anchor="start" fill="#000" >(Impulse) no transition louvres</text>
<text x="932.9" y="2321" font-size="50" text-anchor="start" fill="#000" >(Impulse) modification with transition louvres</text>
<text x="279.9" y="2389" font-size="50" text-anchor="start" fill="#000" >Records 191211-1 (fully closed) and 191126-2 (allowed to open)</text>
<text x="376" y="3392" font-size="61" text-anchor="start" fill="#000" >(d) 412 kPa test results in the drive section<tspan font-size="34" dy="-20">[89-90]</tspan></text>
<g filter="url(#b1)">
<rect x="3041.4" y="2541.0" width="486.0" height="4.0" fill="#c8cccc" opacity="0.7"/>
<rect x="3041.4" y="2533.0" width="2.0" height="95.0" fill="#c9d2cc" opacity="0.7"/>
<rect x="3079.4" y="2533.0" width="2.0" height="95.0" fill="#c9d2cc" opacity="0.7"/>
<rect x="3117.4" y="2533.0" width="2.0" height="95.0" fill="#c9d2cc" opacity="0.7"/>
<rect x="3155.4" y="2533.0" width="2.0" height="95.0" fill="#c9d2cc" opacity="0.7"/>
<rect x="3193.4" y="2533.0" width="2.0" height="95.0" fill="#c9d2cc" opacity="0.7"/>
<rect x="3231.4" y="2533.0" width="2.0" height="95.0" fill="#c9d2cc" opacity="0.7"/>
<rect x="3269.4" y="2533.0" width="2.0" height="95.0" fill="#c9d2cc" opacity="0.7"/>
<rect x="3307.4" y="2533.0" width="2.0" height="95.0" fill="#c9d2cc" opacity="0.7"/>
<rect x="3345.4" y="2533.0" width="2.0" height="95.0" fill="#c9d2cc" opacity="0.7"/>
<rect x="3383.4" y="2533.0" width="2.0" height="95.0" fill="#c9d2cc" opacity="0.7"/>
<rect x="3421.4" y="2533.0" width="2.0" height="95.0" fill="#c9d2cc" opacity="0.7"/>
<rect x="3459.4" y="2533.0" width="2.0" height="95.0" fill="#c9d2cc" opacity="0.7"/>
<rect x="3497.4" y="2533.0" width="2.0" height="95.0" fill="#c9d2cc" opacity="0.7"/>
<rect x="3047.4" y="2578.0" width="62.0" height="24.0" fill="#a4a6ae" />
<polygon points="3047.4,2595 3109.4,2582 3109.4,2600 3047.4,2600" fill="#c8a0b0" />
<polygon points="3103.4,2583 3109.4,2580 3109.4,2599 3103.4,2599" fill="#a080d0" />
<polygon points="3109.4,2582 3161.4,2567 3230.4,2554 3304.4,2551 3304.4,2597 3109.4,2599" fill="#b9a99d" />
<rect x="3304.4" y="2551.0" width="110.0" height="46.0" fill="#90b070" />
<rect x="3413.4" y="2539.0" width="112.0" height="78.0" fill="#8d93aa" />
<rect x="3047.4" y="2600.0" width="62.0" height="6.0" fill="#4a4f6a" />
<rect x="3047.4" y="2615.0" width="478.0" height="3.0" fill="#6a7090" />
<rect x="3047.4" y="2621.0" width="478.0" height="3.0" fill="#9aa0b8" />
<rect x="3061.4" y="2599.0" width="3.0" height="18.0" fill="#7a80a0" opacity="0.8"/>
<rect x="3087.4" y="2599.0" width="3.0" height="18.0" fill="#7a80a0" opacity="0.8"/>
<rect x="3113.4" y="2599.0" width="3.0" height="18.0" fill="#7a80a0" opacity="0.8"/>
<rect x="3139.4" y="2599.0" width="3.0" height="18.0" fill="#7a80a0" opacity="0.8"/>
<rect x="3165.4" y="2599.0" width="3.0" height="18.0" fill="#7a80a0" opacity="0.8"/>
<rect x="3191.4" y="2599.0" width="3.0" height="18.0" fill="#7a80a0" opacity="0.8"/>
<rect x="3217.4" y="2599.0" width="3.0" height="18.0" fill="#7a80a0" opacity="0.8"/>
<rect x="3243.4" y="2599.0" width="3.0" height="18.0" fill="#7a80a0" opacity="0.8"/>
<rect x="3269.4" y="2599.0" width="3.0" height="18.0" fill="#7a80a0" opacity="0.8"/>
<rect x="3295.4" y="2599.0" width="3.0" height="18.0" fill="#7a80a0" opacity="0.8"/>
<rect x="3321.4" y="2599.0" width="3.0" height="18.0" fill="#7a80a0" opacity="0.8"/>
<rect x="3347.4" y="2599.0" width="3.0" height="18.0" fill="#7a80a0" opacity="0.8"/>
<rect x="3373.4" y="2599.0" width="3.0" height="18.0" fill="#7a80a0" opacity="0.8"/>
<rect x="3399.4" y="2599.0" width="3.0" height="18.0" fill="#7a80a0" opacity="0.8"/>
<rect x="3111.4" y="2601.0" width="300.0" height="4.0" fill="#8088a8" opacity="0.8"/>
<rect x="3111.4" y="2605.0" width="36.0" height="8.0" fill="#b8bcc8" opacity="0.8"/>
<rect x="3156.4" y="2605.0" width="36.0" height="8.0" fill="#b8bcc8" opacity="0.8"/>
<rect x="3201.4" y="2605.0" width="36.0" height="8.0" fill="#b8bcc8" opacity="0.8"/>
<rect x="3246.4" y="2605.0" width="36.0" height="8.0" fill="#b8bcc8" opacity="0.8"/>
<rect x="3291.4" y="2605.0" width="36.0" height="8.0" fill="#b8bcc8" opacity="0.8"/>
</g>
<text x="3058.4" y="2584" font-size="50" text-anchor="start" fill="#000" transform="rotate(-17 3058.4 2584)" >Louvres</text>
<text x="3463.4" y="2621" font-size="50" text-anchor="start" fill="#000" transform="rotate(-90 3463.4 2621)" >Wall</text>
<text x="3525.5" y="2507" font-size="50" text-anchor="end" fill="#000" >Long ABS configuration</text>
<text x="3021.4" y="2590" font-size="50" text-anchor="end" fill="#000" >376 kPa CG driver</text>
<path d="M2393.3,3000.2 L2400.1,2988.2 L2406.8,2976.2 L2413.5,2964.1 L2420.1,2951.9 L2426.6,2939.8 L2433.1,2928.0 L2439.6,2916.5 L2446.1,2905.7 L2452.6,2895.5 L2459.1,2886.1 L2465.6,2877.4 L2472.1,2869.1 L2478.6,2861.0 L2485.2,2853.1 L2491.7,2845.3 L2498.2,2837.5 L2504.7,2829.7 L2511.2,2821.9 L2517.7,2814.2 L2524.2,2806.6 L2530.7,2799.6 L2537.2,2793.0 L2543.7,2787.1 L2550.2,2781.6 L2556.7,2776.6 L2563.2,2772.0 L2569.7,2767.8 L2576.2,2763.8 L2582.7,2760.2 L2589.2,2756.8 L2595.7,2753.6 L2602.2,2750.7 L2608.7,2747.9 L2615.2,2745.2 L2621.7,2742.7 L2628.2,2740.4 L2634.7,2738.3 L2641.2,2736.5 L2647.7,2734.9 L2654.2,2733.6 L2660.7,2732.5 L2667.2,2731.7 L2673.7,2731.0 L2680.2,2730.4 L2686.7,2730.0 L2693.3,2729.8 L2699.8,2729.7 L2706.3,2729.8 L2712.8,2730.2 L2719.3,2730.8 L2725.8,2731.6 L2732.3,2732.5 L2738.8,2733.6 L2745.3,2734.8 L2751.8,2736.2 L2758.3,2737.7 L2764.8,2739.3 L2771.3,2741.0 L2777.8,2742.9 L2784.3,2744.8 L2790.8,2746.8 L2797.3,2748.8 L2803.8,2750.7 L2810.3,2752.7 L2817.0,2754.6 L2823.6,2756.7 L2830.0,2758.8 L2835.9,2760.9 L2841.6,2762.9 L2847.2,2764.9 L2853.2,2767.1 L2859.5,2769.4 L2866.0,2771.9 L2872.5,2774.4 L2879.0,2777.0 L2885.5,2779.6 L2892.0,2782.3 L2898.5,2785.0 L2905.0,2787.9 L2911.5,2790.8 L2918.0,2793.7 L2924.5,2796.6 L2931.0,2799.5 L2937.5,2802.2 L2944.0,2804.9 L2950.6,2807.5 L2957.1,2810.0 L2963.6,2812.5 L2970.1,2814.8 L2976.8,2816.9 L2983.5,2818.8 L2990.2,2820.3 L2996.8,2821.2 L3003.2,2821.3 L3009.5,2820.7 L3015.8,2819.9 L3022.2,2819.0 L3028.6,2818.1 L3035.1,2817.1 L3041.6,2816.0 L3048.1,2814.9 L3054.6,2813.7 L3061.1,2812.5 L3067.6,2811.4 L3074.1,2810.4 L3080.6,2809.5 L3087.1,2808.6 L3093.6,2807.8 L3100.1,2807.1 L3106.6,2806.3 L3113.1,2805.5 L3119.6,2804.6 L3126.1,2803.8 L3132.6,2803.0 L3139.1,2802.1 L3145.6,2801.3 L3152.1,2800.5 L3158.6,2799.8 L3165.2,2799.1 L3171.7,2798.5 L3178.2,2797.8 L3184.7,2797.1 L3191.2,2796.4 L3197.7,2795.6 L3204.2,2794.8 L3210.7,2794.0 L3217.2,2793.1 L3223.7,2792.3 L3230.2,2791.5 L3236.7,2790.7 L3243.2,2789.9 L3249.7,2789.1 L3256.2,2788.3 L3262.7,2787.5 L3269.2,2786.7 L3275.7,2785.8 L3282.2,2784.8 L3288.7,2783.8 L3295.2,2782.9 L3301.7,2781.8 L3308.2,2780.7 L3314.7,2779.6 L3321.2,2778.3 L3327.7,2777.0 L3334.2,2775.7 L3340.7,2774.4 L3347.2,2773.1 L3353.7,2771.8 L3360.2,2770.5 L3366.7,2769.2 L3373.3,2767.9 L3379.8,2766.6 L3386.3,2765.1 L3392.8,2763.6 L3399.3,2762.0 L3405.8,2760.4 L3412.3,2758.8 L3418.8,2757.1 L3425.3,2755.4 L3431.8,2753.5 L3438.3,2751.6 L3444.8,2749.7 L3451.3,2747.8 L3457.8,2745.8 L3464.3,2743.9 L3470.8,2741.9 L3477.3,2740.0 L3483.8,2738.0 L3490.3,2736.0 L3496.8,2734.1 L3503.2,2732.0 L3509.5,2729.9 L3515.8,2727.8 L3522.0,2725.6 L3528.3,2723.4 L3534.5,2721.2" fill="none" stroke="#f82a38" stroke-width="3.8" stroke-linejoin="bevel" stroke-dasharray="3 5" opacity="0.85"/>
<path d="M2393.3,3000.2 L2400.1,2986.4 L2406.8,2972.8 L2413.5,2959.7 L2420.1,2947.2 L2426.6,2935.1 L2433.1,2923.3 L2439.6,2911.7 L2446.1,2900.4 L2452.6,2889.7 L2459.1,2879.6 L2465.6,2870.3 L2472.1,2861.6 L2478.6,2853.3 L2485.2,2845.1 L2491.7,2836.8 L2498.2,2828.2 L2504.7,2819.5 L2511.2,2810.9 L2517.7,2802.7 L2524.2,2795.0 L2530.7,2787.9 L2537.2,2781.3 L2543.7,2775.4 L2550.2,2769.9 L2556.7,2764.9 L2563.2,2760.3 L2569.7,2755.9 L2576.2,2751.8 L2582.7,2747.9 L2589.2,2744.2 L2595.7,2740.7 L2602.2,2737.5 L2608.7,2734.5 L2615.2,2731.6 L2621.7,2729.0 L2628.2,2726.7 L2634.7,2724.5 L2641.2,2722.5 L2647.7,2720.7 L2654.2,2719.0 L2660.7,2717.5 L2667.2,2716.2 L2673.7,2715.1 L2680.2,2714.3 L2686.7,2713.7 L2693.3,2713.3 L2699.8,2713.1 L2706.3,2713.1 L2712.8,2713.3 L2719.3,2713.8 L2725.8,2714.3 L2732.3,2715.0 L2738.8,2715.8 L2745.3,2716.7 L2751.8,2717.6 L2758.3,2718.7 L2764.8,2719.9 L2771.3,2721.3 L2777.8,2722.9 L2784.3,2724.6 L2790.8,2726.3 L2797.3,2728.1 L2803.8,2729.8 L2810.3,2731.4 L2817.0,2732.8 L2823.6,2734.3 L2830.0,2735.9 L2835.9,2737.5 L2841.6,2739.1 L2847.2,2740.4 L2853.2,2741.4 L2859.5,2742.3 L2866.0,2743.1 L2872.5,2743.8 L2879.0,2744.5 L2885.5,2745.1 L2892.0,2745.7 L2898.5,2746.2 L2905.1,2746.7 L2911.8,2747.2 L2918.8,2747.6 L2926.1,2747.9 L2933.6,2747.8 L2941.2,2747.3 L2948.5,2746.2 L2955.5,2744.6 L2962.3,2742.8 L2968.9,2740.7 L2975.6,2738.6 L2982.4,2736.4 L2989.2,2734.4 L2995.9,2732.3 L3002.5,2730.4 L3009.1,2728.5 L3015.6,2726.7 L3022.1,2724.9 L3028.6,2723.1 L3035.1,2721.5 L3041.6,2720.0 L3048.1,2718.6 L3054.6,2717.3 L3061.1,2716.0 L3067.6,2714.8 L3074.1,2713.7 L3080.6,2712.7 L3087.1,2711.9 L3093.6,2711.1 L3100.1,2710.3 L3106.6,2709.5 L3113.1,2708.8 L3119.6,2708.1 L3126.1,2707.4 L3132.6,2706.8 L3139.1,2706.1 L3145.6,2705.5 L3152.1,2704.8 L3158.6,2704.2 L3165.2,2703.5 L3171.7,2702.9 L3178.2,2702.2 L3184.7,2701.6 L3191.2,2700.9 L3197.7,2700.3 L3204.2,2699.6 L3210.7,2699.0 L3217.2,2698.3 L3223.7,2697.7 L3230.2,2697.0 L3236.7,2696.4 L3243.2,2695.7 L3249.7,2695.1 L3256.2,2694.4 L3262.7,2693.8 L3269.2,2693.1 L3275.7,2692.5 L3282.2,2691.8 L3288.7,2691.2 L3295.2,2690.5 L3301.7,2689.8 L3308.2,2689.0 L3314.7,2688.2 L3321.2,2687.3 L3327.7,2686.3 L3334.2,2685.3 L3340.7,2684.3 L3347.2,2683.2 L3353.7,2682.0 L3360.2,2680.8 L3366.7,2679.5 L3373.3,2678.2 L3379.8,2676.9 L3386.3,2675.8 L3392.8,2674.7 L3399.3,2673.8 L3405.8,2673.0 L3412.3,2672.3 L3418.8,2671.6 L3425.3,2671.2 L3431.8,2670.9 L3438.3,2670.6 L3444.8,2670.5 L3451.3,2670.4 L3457.8,2670.3 L3464.3,2670.2 L3470.8,2670.2 L3477.3,2670.2 L3483.8,2670.3 L3490.3,2670.4 L3496.8,2670.4 L3503.2,2670.5 L3509.5,2670.5 L3515.8,2670.5 L3522.0,2670.5 L3528.3,2670.5 L3534.5,2670.5" fill="none" stroke="#1a40ec" stroke-width="3.8" stroke-linejoin="bevel" stroke-dasharray="3 5" opacity="0.85"/>
<path d="M2165.9,3001.0 L2393.3,3001.0 L2393.3,3000.2 L2393.3,2552.7" fill="none" stroke="#f82a38" stroke-width="5.6" stroke-linejoin="bevel" />
<path d="M2393.3,2552.7 L2393.0,2557.0 L2394.7,2548.6 L2396.9,2550.8 L2397.7,2549.4 L2398.3,2548.4 L2399.0,2556.3 L2399.3,2552.9 L2400.2,2554.9 L2399.9,2555.7 L2401.1,2557.9 L2402.1,2551.3 L2401.4,2561.4 L2403.3,2556.1 L2404.2,2560.4 L2403.4,2566.9 L2403.8,2573.0 L2404.0,2569.0 L2404.5,2574.6 L2406.0,2573.0 L2405.4,2576.5 L2406.1,2572.8 L2406.1,2576.3 L2407.6,2585.2 L2407.9,2581.6 L2408.7,2583.3 L2409.5,2580.1 L2408.8,2588.0 L2410.2,2591.3 L2409.9,2592.9 L2410.5,2594.0 L2412.1,2595.8 L2411.5,2596.4 L2412.5,2597.6 L2412.9,2593.5 L2413.0,2597.4 L2413.3,2600.2 L2414.4,2602.0 L2413.9,2606.7 L2414.8,2603.0 L2416.7,2604.3 L2415.5,2608.3 L2417.7,2607.2 L2417.2,2609.4 L2417.9,2616.9 L2419.0,2614.8 L2419.3,2619.2 L2419.8,2616.8 L2419.4,2616.9 L2421.4,2622.1 L2422.0,2618.6 L2421.9,2623.1 L2423.4,2627.5 L2423.6,2627.0 L2424.2,2627.3 L2424.8,2631.2 L2425.7,2631.8 L2426.2,2631.1 L2428.4,2626.9 L2428.1,2627.0 L2430.5,2627.8 L2431.9,2629.2 L2433.9,2622.9 L2433.3,2625.3 L2434.2,2635.0 L2435.4,2625.8 L2435.2,2627.5 L2435.6,2631.9 L2437.5,2632.0 L2437.3,2629.4 L2438.2,2633.7 L2438.9,2635.2 L2439.7,2637.6 L2440.1,2639.8 L2440.1,2639.6 L2440.3,2643.0 L2442.1,2641.6 L2442.7,2648.5 L2442.3,2648.1 L2444.7,2642.7 L2445.4,2648.5 L2444.7,2650.9 L2445.5,2643.7 L2446.8,2654.2 L2447.9,2655.6 L2448.2,2657.0 L2449.3,2657.4 L2450.3,2657.9 L2450.8,2661.6 L2451.3,2662.6 L2451.6,2663.3 L2453.2,2658.1 L2453.6,2663.7 L2455.1,2667.2 L2456.5,2666.6 L2456.7,2671.4 L2458.3,2671.6 L2458.2,2673.6 L2459.9,2669.4 L2459.8,2672.9 L2461.7,2673.3 L2463.1,2672.1 L2464.1,2672.0 L2465.9,2673.3 L2466.9,2670.3 L2467.1,2667.3 L2469.0,2671.6 L2469.3,2673.8 L2470.3,2678.9 L2471.3,2679.2 L2471.7,2678.3 L2472.4,2679.9 L2474.1,2679.7 L2474.4,2684.5 L2474.2,2680.4 L2476.6,2685.4 L2476.8,2687.8 L2477.6,2691.5 L2478.1,2691.4 L2479.5,2693.8 L2479.8,2689.2 L2480.8,2693.5 L2482.4,2697.3 L2482.8,2700.2 L2482.5,2699.1 L2484.5,2701.8 L2486.0,2694.2 L2485.5,2702.6 L2487.6,2704.4 L2487.4,2701.2 L2488.2,2705.6 L2489.0,2703.1 L2490.8,2708.1 L2492.2,2713.5 L2491.0,2712.3 L2492.5,2711.5 L2493.5,2719.1 L2493.9,2714.2 L2494.2,2714.1 L2494.4,2727.9 L2496.1,2722.2 L2496.1,2722.6 L2495.7,2726.8 L2497.0,2723.4 L2498.0,2724.0 L2498.5,2729.6 L2498.4,2730.0 L2499.3,2733.2 L2499.5,2735.9 L2500.5,2737.5 L2500.5,2738.1 L2500.8,2739.8 L2502.0,2744.1 L2502.0,2738.1 L2504.2,2744.5 L2503.5,2748.2 L2504.6,2747.3 L2505.2,2746.4 L2505.5,2749.5 L2506.0,2752.7 L2505.4,2757.6 L2506.5,2755.2 L2508.1,2758.4 L2508.0,2756.5 L2508.4,2759.2 L2509.3,2760.2 L2509.9,2761.8 L2509.8,2760.0 L2510.7,2766.0 L2510.4,2769.5 L2510.6,2769.0 L2511.9,2768.5 L2511.4,2767.5 L2512.6,2774.5 L2512.7,2780.3 L2513.8,2773.5 L2515.6,2772.4 L2515.1,2770.1 L2516.4,2767.0 L2517.8,2768.5 L2518.8,2767.0 L2518.4,2766.0 L2519.9,2765.7 L2521.8,2763.3 L2522.3,2760.6 L2524.1,2766.5 L2525.8,2763.2 L2527.4,2758.2 L2528.7,2762.7 L2529.6,2767.2 L2529.3,2765.6 L2530.6,2765.1 L2530.2,2772.9 L2531.9,2768.8 L2532.7,2772.6 L2532.9,2771.9 L2533.0,2774.6 L2534.9,2780.8 L2535.0,2780.4 L2534.7,2780.2 L2535.3,2781.9 L2535.7,2782.0 L2536.4,2783.6 L2536.3,2785.0 L2537.3,2787.3 L2537.7,2790.1 L2539.1,2791.2 L2539.6,2791.4 L2539.0,2791.5 L2540.9,2794.4 L2540.7,2801.4 L2541.6,2802.1 L2543.1,2798.8 L2542.4,2799.6 L2541.8,2804.0 L2542.9,2808.1 L2544.0,2807.9 L2544.1,2810.4 L2544.0,2808.2 L2546.2,2806.8 L2546.0,2815.6 L2545.9,2816.2 L2547.0,2817.2 L2548.4,2819.5 L2548.5,2819.9 L2549.2,2818.9 L2550.5,2822.8 L2550.7,2822.1 L2551.9,2825.6 L2553.6,2819.0 L2554.0,2821.3 L2555.7,2822.2 L2557.4,2825.7 L2558.7,2823.5 L2560.1,2823.7 L2560.8,2830.3 L2563.5,2827.4 L2563.5,2832.8 L2564.8,2836.2 L2566.2,2830.8 L2567.4,2835.6 L2568.7,2835.7 L2569.1,2839.8 L2571.1,2839.7 L2571.4,2837.9 L2572.9,2844.4 L2573.9,2845.8 L2575.0,2845.5 L2576.2,2843.0 L2578.0,2846.4 L2578.9,2848.3 L2580.4,2850.4 L2580.1,2855.2 L2582.1,2850.1 L2582.2,2855.3 L2583.2,2856.7 L2583.5,2855.1 L2585.4,2858.0 L2586.4,2858.7 L2586.6,2859.1 L2587.7,2859.6 L2588.5,2866.7 L2588.8,2863.6 L2589.3,2864.0 L2590.5,2870.6 L2591.2,2866.9 L2591.9,2873.4 L2591.8,2873.9 L2592.6,2875.0 L2592.8,2875.2 L2593.3,2882.2 L2594.1,2883.6 L2594.2,2880.8 L2595.3,2884.2 L2595.7,2882.8 L2596.2,2892.7 L2597.0,2888.1 L2597.1,2889.1 L2598.0,2893.1 L2598.6,2891.1 L2598.3,2893.5 L2599.4,2899.9 L2600.6,2899.1 L2602.1,2897.1 L2602.9,2901.3 L2603.3,2897.2 L2604.3,2901.9 L2604.7,2899.3 L2605.4,2901.5 L2607.2,2903.9 L2608.1,2908.8 L2608.4,2909.4 L2609.8,2903.4 L2611.5,2906.5 L2613.0,2907.8 L2613.4,2913.7 L2615.6,2910.2 L2617.1,2905.1 L2618.7,2915.9 L2620.2,2918.2 L2621.0,2911.0 L2623.0,2918.3 L2624.1,2918.8 L2625.6,2922.3 L2626.5,2923.9 L2628.2,2920.0 L2628.1,2920.1 L2631.2,2924.6 L2631.0,2924.1 L2632.3,2925.8 L2633.5,2923.8 L2635.1,2932.3 L2637.7,2927.0 L2636.5,2930.4 L2639.4,2931.7 L2640.1,2934.0 L2641.3,2934.4 L2642.0,2939.6 L2642.3,2940.3 L2644.0,2935.8 L2644.9,2937.4 L2645.6,2942.9 L2646.3,2945.0 L2648.2,2945.1 L2649.0,2947.6 L2649.3,2949.1 L2650.7,2949.7 L2651.6,2948.7 L2652.4,2951.2 L2654.9,2952.1 L2654.0,2951.3 L2655.7,2952.5 L2655.4,2956.8 L2656.5,2964.7 L2658.2,2965.5 L2658.2,2965.7 L2659.8,2965.2 L2659.4,2964.6 L2661.1,2968.4 L2662.1,2969.7 L2663.1,2970.7 L2663.5,2973.0 L2665.2,2972.7 L2666.7,2975.6 L2668.1,2974.5 L2668.6,2975.6 L2670.9,2977.5 L2672.1,2979.7 L2673.0,2981.9 L2674.6,2983.1 L2676.2,2984.4 L2678.0,2983.8 L2678.1,2982.5 L2678.8,2985.7 L2680.7,2986.3 L2681.2,2985.2 L2682.1,2994.6 L2683.7,2991.3 L2684.6,2987.4 L2685.4,2993.9 L2688.1,2991.2 L2688.4,2996.7 L2690.1,2999.5 L2691.3,2998.8 L2692.2,2998.3 L2694.1,3000.7 L2695.1,3000.6 L2696.1,2998.7 L2697.9,2997.8 L2700.0,3002.9 L2700.8,3001.4 L2701.4,3006.9 L2702.4,3009.6 L2703.2,3004.7 L2704.2,3006.6 L2706.1,3010.3 L2707.0,3007.2 L2707.9,3010.5 L2709.5,3014.1 L2710.3,3012.6 L2710.7,3016.1 L2713.0,3015.0 L2713.7,3011.0 L2714.6,3014.3 L2716.5,3015.1 L2717.2,3012.7 L2717.8,3017.4 L2719.5,3020.8 L2721.2,3019.9 L2721.4,3025.7 L2722.8,3022.2 L2724.2,3021.7 L2726.1,3025.8 L2727.5,3028.7 L2728.1,3027.6 L2730.1,3036.1 L2730.7,3032.5 L2732.7,3034.9 L2732.6,3031.2 L2734.5,3033.3 L2737.0,3034.1 L2738.6,3031.6 L2739.4,3037.2 L2742.0,3033.1 L2742.5,3030.9 L2743.6,3035.1 L2744.3,3035.2 L2746.9,3037.0 L2747.8,3033.1 L2749.2,3042.6 L2750.5,3041.5 L2752.9,3045.1 L2753.7,3049.9 L2755.1,3044.3 L2757.5,3046.2 L2757.2,3050.0 L2759.6,3047.9 L2761.2,3051.6 L2762.7,3048.1 L2764.1,3056.5 L2765.0,3054.7 L2766.6,3051.6 L2768.3,3056.6 L2769.5,3060.9 L2772.2,3058.6 L2772.9,3060.5 L2773.6,3064.4 L2774.8,3066.7 L2777.1,3059.5 L2777.5,3061.7 L2778.7,3067.3 L2781.2,3067.4 L2781.4,3064.2 L2783.7,3064.4 L2785.3,3067.8 L2788.5,3071.8 L2788.5,3064.2 L2790.0,3066.5 L2793.3,3068.8 L2794.1,3072.9 L2795.3,3068.8 L2797.1,3073.7 L2798.8,3064.3 L2800.2,3065.4 L2802.5,3061.7 L2803.3,3061.0 L2804.7,3060.7 L2806.9,3061.3 L2808.1,3062.4 L2809.4,3067.7 L2810.7,3067.1 L2813.0,3067.7 L2814.4,3070.8 L2816.2,3071.7 L2816.1,3074.2 L2816.7,3073.5 L2819.0,3076.7 L2818.9,3078.5 L2820.4,3076.7 L2821.7,3083.5 L2823.0,3084.0 L2823.7,3084.8 L2824.9,3085.3 L2825.7,3086.4 L2828.5,3082.1 L2829.5,3090.4 L2830.8,3085.3 L2832.1,3088.6 L2833.1,3091.7 L2834.9,3087.5 L2836.8,3087.2 L2840.1,3092.4 L2839.4,3087.8 L2840.4,3087.8 L2841.1,3090.9 L2843.7,3093.6 L2845.4,3092.8 L2846.3,3093.9 L2848.2,3090.9 L2849.4,3090.7 L2852.8,3094.3 L2852.9,3091.2 L2854.3,3096.6 L2856.6,3099.5 L2857.6,3096.8 L2859.1,3095.7 L2859.8,3097.9 L2862.3,3098.8 L2863.7,3099.0 L2865.1,3098.4 L2865.9,3098.1 L2868.6,3093.6 L2869.5,3095.7 L2870.7,3097.8 L2872.6,3093.5 L2873.5,3095.1 L2875.0,3099.7 L2876.4,3094.0 L2878.2,3098.6 L2879.5,3095.0 L2881.8,3094.4 L2882.8,3099.8 L2884.1,3102.3 L2885.2,3094.1 L2886.3,3099.2 L2888.3,3102.2 L2889.8,3097.6 L2891.7,3099.1 L2893.6,3098.2 L2895.8,3100.9 L2897.0,3098.9 L2897.8,3096.7 L2900.2,3097.5 L2901.5,3096.1 L2903.7,3095.3 L2905.0,3096.8 L2907.4,3095.9 L2907.8,3098.0 L2909.9,3090.5 L2913.0,3097.7 L2913.7,3094.3 L2914.4,3095.1 L2917.0,3095.2 L2918.0,3091.5 L2920.2,3092.6 L2922.4,3094.3 L2924.5,3093.1 L2924.5,3086.7 L2926.6,3095.3 L2928.9,3090.9 L2930.4,3092.9 L2932.2,3091.2 L2933.5,3095.6 L2935.9,3097.4 L2936.5,3096.4 L2939.2,3094.4 L2939.9,3092.1 L2942.5,3097.9 L2942.8,3092.1 L2945.0,3097.6 L2947.2,3095.9 L2949.5,3090.5 L2950.4,3092.7 L2951.6,3090.5 L2953.5,3091.3 L2956.1,3092.5 L2957.5,3088.9 L2958.4,3087.4 L2960.0,3086.0 L2961.0,3082.4 L2961.8,3082.1 L2963.2,3085.3 L2964.9,3084.7 L2965.3,3085.6 L2966.5,3090.9 L2967.8,3091.9 L2968.2,3095.9 L2969.7,3094.0 L2969.8,3093.7 L2970.9,3097.4 L2972.5,3102.1 L2973.1,3100.5 L2973.8,3101.1 L2974.7,3105.9 L2975.5,3097.1 L2976.1,3095.2 L2976.4,3099.5 L2977.4,3089.8 L2979.1,3091.5 L2979.7,3089.5 L2980.4,3091.0 L2982.7,3092.5 L2984.4,3093.3 L2986.2,3091.8 L2988.1,3093.2 L2988.3,3088.1 L2989.9,3093.3 L2991.3,3092.4 L2992.1,3092.0 L2993.8,3085.4 L2994.8,3088.0 L2996.1,3087.2 L2997.2,2913.6 L2996.4,2914.5 L2997.2,2915.8 L2996.5,2913.7 L2997.9,2922.7 L2997.4,2919.6 L2997.8,2923.8 L2996.6,2924.0 L2997.5,2922.2 L2998.0,2928.5 L2997.6,2930.5 L2998.7,2928.0 L2996.5,2932.2 L2998.9,2930.8 L2998.1,2934.5 L2998.0,2938.2 L2997.7,2935.7 L2997.3,2938.5 L2998.5,2941.0 L2998.6,2944.7 L2998.5,2942.7 L2997.6,2945.9 L2997.2,2952.1 L2998.0,2950.4 L2997.6,2950.6 L2997.6,2954.6 L2998.5,2955.6 L2998.7,2959.1 L2999.1,2957.5 L2998.8,2965.4 L2998.4,2964.0 L2998.7,2966.2 L2997.9,2965.2 L2998.4,2963.0 L2998.3,2965.4 L2999.0,2966.7 L2999.8,2966.1 L2999.3,2971.9 L3000.1,2966.7 L2998.4,2970.5 L2998.5,2972.2 L2999.1,2976.9 L2999.4,2974.6 L2999.9,2977.5 L2999.8,2970.8 L3000.9,2972.7 L3000.9,2966.4 L3000.8,2969.5 L3002.2,2966.0 L3002.0,2969.1 L3002.2,2964.4 L3002.5,2962.2 L3003.0,2954.5 L3004.5,2955.0 L3003.5,2954.9 L3003.7,2954.0 L3004.2,2954.2 L3004.1,2959.3 L3006.0,2958.5 L3004.9,2959.7 L3006.4,2966.1 L3007.3,2964.8 L3007.6,2967.3 L3007.9,2964.5 L3007.7,2967.4 L3008.9,2974.4 L3009.3,2972.4 L3009.3,2971.4 L3010.2,2976.8 L3011.0,2970.8 L3011.8,2973.6 L3011.2,2967.8 L3012.5,2971.1 L3012.8,2959.6 L3013.3,2969.0 L3014.0,2962.4 L3015.4,2960.5 L3014.9,2960.8 L3016.3,2956.1 L3016.6,2961.9 L3017.1,2958.5 L3018.1,2963.6 L3019.3,2966.0 L3018.3,2968.4 L3018.4,2969.6 L3020.1,2970.7 L3020.7,2975.7 L3020.8,2974.7 L3021.8,2975.6 L3023.6,2974.3 L3024.1,2973.4 L3023.7,2978.0 L3025.0,2974.0 L3026.3,2974.7 L3026.5,2967.8 L3027.4,2968.0 L3028.8,2966.7 L3028.1,2965.6 L3029.1,2969.1 L3031.3,2959.9 L3031.1,2963.2 L3031.8,2957.3 L3032.6,2964.6 L3034.2,2966.4 L3034.6,2971.1 L3034.8,2967.1 L3035.7,2970.5 L3038.3,2976.6 L3038.4,2972.7 L3039.2,2972.2 L3039.9,2973.9 L3040.7,2972.2 L3040.9,2980.6 L3041.8,2980.5 L3042.8,2982.4 L3044.2,2980.0 L3045.1,2981.7 L3047.3,2981.0 L3047.6,2977.1 L3049.9,2982.7 L3050.2,2976.8 L3051.1,2975.5 L3051.9,2973.4 L3052.4,2975.2 L3054.1,2972.7 L3056.5,2971.8 L3058.6,2970.8 L3059.1,2975.4 L3061.1,2974.9 L3063.1,2975.0 L3064.1,2968.3 L3065.6,2966.4 L3067.7,2967.2 L3068.7,2967.4 L3069.7,2977.3 L3070.7,2972.3 L3071.0,2973.5 L3073.2,2980.6 L3074.0,2981.8 L3075.1,2976.4 L3076.8,2982.6 L3078.4,2982.0 L3079.5,2978.3 L3080.9,2977.7 L3081.1,2976.7 L3082.1,2975.6 L3083.4,2980.2 L3084.5,2972.6 L3085.1,2970.7 L3086.8,2972.2 L3088.5,2968.1 L3089.4,2965.9 L3091.6,2966.0 L3093.0,2964.8 L3095.3,2969.6 L3096.7,2970.7 L3098.3,2973.7 L3100.1,2964.7 L3101.6,2970.3 L3102.8,2969.7 L3103.9,2968.3 L3103.8,2971.6 L3105.5,2971.9 L3106.6,2978.0 L3109.2,2977.7 L3110.3,2978.7 L3111.4,2977.3 L3112.4,2978.9 L3112.6,2982.2 L3115.5,2980.3 L3116.8,2979.5 L3117.8,2985.1 L3120.3,2978.7 L3121.5,2984.3 L3123.6,2977.1 L3123.8,2977.0 L3125.5,2977.7 L3126.3,2978.0 L3128.0,2973.9 L3129.8,2972.4 L3130.3,2975.0 L3132.2,2972.7 L3131.7,2970.0 L3133.6,2974.0 L3135.1,2968.7 L3136.5,2968.2 L3137.9,2965.2 L3139.5,2962.3 L3142.2,2963.0 L3142.8,2962.1 L3144.1,2968.5 L3146.5,2968.7 L3148.3,2964.5 L3150.4,2965.1 L3151.9,2964.1 L3152.8,2968.7 L3155.5,2968.8 L3157.1,2964.2 L3158.5,2966.5 L3159.3,2966.2 L3161.3,2964.3 L3163.0,2964.5 L3165.3,2964.7 L3167.0,2966.3 L3169.0,2962.4 L3169.5,2966.9 L3172.1,2967.7 L3173.4,2970.4 L3174.2,2969.5 L3176.7,2964.9 L3177.7,2962.8 L3178.8,2965.1 L3180.1,2966.0 L3182.0,2968.4 L3183.6,2965.2 L3185.4,2961.9 L3185.6,2962.9 L3186.4,2962.8 L3190.0,2958.5 L3191.5,2961.8 L3192.3,2958.0 L3193.7,2956.6 L3195.4,2956.5 L3196.8,2962.6 L3197.1,2962.7 L3200.0,2961.3 L3201.5,2957.4 L3202.6,2963.3 L3202.9,2964.4 L3204.8,2967.1 L3205.9,2968.8 L3208.2,2962.5 L3208.0,2957.4 L3210.4,2966.6 L3210.4,2960.5 L3211.6,2961.6 L3212.5,2957.1 L3214.8,2956.5 L3215.3,2957.5 L3215.6,2953.8 L3218.0,2961.4 L3218.4,2953.3 L3219.7,2956.3 L3220.4,2953.6 L3222.7,2958.2 L3223.4,2955.9 L3224.7,2962.8 L3226.3,2962.3 L3227.3,2960.3 L3228.5,2959.0 L3231.2,2965.4 L3232.0,2960.1 L3233.5,2958.9 L3235.1,2961.8 L3236.9,2964.5 L3238.5,2967.0 L3240.3,2962.3 L3241.8,2972.0 L3243.2,2973.0 L3245.4,2966.9 L3246.4,2960.9 L3249.3,2963.3 L3250.5,2966.3 L3251.9,2959.9 L3253.8,2966.5 L3254.4,2962.7 L3256.6,2964.4 L3259.2,2960.8 L3261.5,2963.7 L3261.8,2965.0 L3263.0,2962.4 L3265.7,2962.9 L3267.2,2963.6 L3268.6,2959.0 L3270.8,2960.2 L3271.4,2959.3 L3273.6,2956.2 L3275.7,2957.7 L3276.8,2963.5 L3278.6,2965.8 L3279.9,2960.5 L3281.0,2964.6 L3283.4,2959.0 L3284.3,2963.2 L3285.1,2964.1 L3287.0,2958.5 L3290.0,2973.8 L3290.8,2963.8 L3291.7,2959.7 L3292.5,2961.8 L3295.0,2968.9 L3296.0,2962.4 L3297.3,2959.3 L3298.9,2954.5 L3299.8,2959.8 L3302.0,2957.3 L3303.1,2958.6 L3305.4,2953.6 L3306.8,2949.6 L3307.8,2953.9 L3308.9,2949.9 L3311.2,2957.5 L3312.0,2949.8 L3312.6,2948.3 L3314.5,2943.6 L3315.8,2943.4 L3317.2,2945.9 L3319.7,2949.5 L3320.5,2944.5 L3322.0,2947.6 L3324.6,2942.9 L3325.6,2941.3 L3327.4,2944.6 L3328.8,2939.7 L3329.8,2939.3 L3331.5,2936.5 L3334.7,2938.6 L3336.4,2937.1 L3336.2,2935.7 L3337.7,2939.4 L3339.3,2941.5 L3339.2,2943.9 L3341.6,2944.4 L3342.2,2946.6 L3342.3,2944.2 L3343.5,2945.6 L3344.9,2950.5 L3346.1,2948.2 L3347.9,2952.2 L3348.5,2953.2 L3349.6,2953.0 L3351.5,2952.4 L3353.6,2951.7 L3354.1,2951.8 L3355.7,2951.5 L3357.2,2949.6 L3359.4,2943.3 L3360.6,2940.4 L3361.9,2942.8 L3363.3,2948.4 L3365.7,2949.7 L3367.5,2946.0 L3369.6,2947.0 L3369.8,2944.4 L3372.6,2944.0 L3372.7,2947.9 L3375.0,2944.5 L3376.0,2937.1 L3377.6,2943.8 L3379.9,2940.8 L3380.9,2940.6 L3382.1,2944.1 L3383.3,2946.1 L3384.3,2942.9 L3385.4,2946.5 L3387.4,2952.1 L3388.4,2947.9 L3390.9,2949.4 L3391.2,2950.5 L3392.6,2948.4 L3392.3,2949.7 L3393.6,2956.5 L3395.9,2952.7 L3397.3,2954.2 L3399.0,2949.8 L3400.1,2954.6 L3401.3,2955.6 L3404.3,2955.0 L3406.0,2960.4 L3407.3,2957.0 L3408.6,2956.0 L3411.6,2953.8 L3412.2,2957.1 L3414.2,2951.3 L3414.4,2955.3 L3415.9,2954.1 L3416.9,2950.9 L3419.1,2946.7 L3419.6,2947.3 L3420.9,2947.6 L3420.4,2947.8 L3422.0,2942.3 L3422.6,2944.8 L3424.3,2946.1 L3424.5,2943.7 L3426.0,2943.6 L3427.9,2939.8 L3428.6,2936.9 L3428.9,2938.0 L3430.9,2938.3 L3432.4,2941.1 L3435.4,2939.7 L3435.4,2940.4 L3437.7,2938.4 L3438.8,2937.2 L3440.6,2933.3 L3442.1,2940.3 L3444.6,2941.6 L3445.3,2938.4 L3446.8,2936.7 L3447.9,2942.8 L3450.4,2938.2 L3450.2,2942.8 L3452.4,2944.1 L3454.7,2946.8 L3454.9,2948.1 L3457.4,2943.3 L3458.6,2942.8 L3459.9,2944.2 L3461.7,2946.0 L3461.7,2951.2 L3464.2,2948.9 L3464.6,2951.2 L3467.6,2947.7 L3467.7,2949.5 L3468.6,2946.5 L3470.5,2944.5 L3471.5,2950.9 L3472.3,2949.0 L3473.2,2946.4 L3473.2,2946.3 L3472.1,2946.4 L3473.3,2941.7 L3473.9,2937.1 L3473.6,2938.5 L3474.2,2932.9 L3475.3,2932.1 L3475.0,2931.2 L3475.7,2928.0 L3475.3,2926.8 L3477.0,2924.3 L3476.5,2919.8 L3477.0,2920.1 L3478.2,2918.1 L3478.2,2913.2 L3478.8,2917.6 L3477.8,2917.5 L3479.2,2912.0 L3479.0,2908.8 L3479.4,2912.2 L3479.9,2906.2 L3480.9,2906.5 L3482.6,2905.4 L3484.4,2904.8 L3484.7,2901.5 L3486.2,2902.8 L3487.1,2900.4 L3488.8,2903.6 L3490.4,2904.7 L3492.3,2905.0 L3493.5,2904.6 L3495.1,2907.1 L3496.6,2901.8 L3498.2,2907.7 L3499.8,2907.9 L3500.7,2905.5 L3502.4,2904.8 L3504.0,2913.5 L3505.9,2913.4 L3507.4,2909.4 L3508.0,2913.9 L3508.2,2915.0 L3509.6,2912.5 L3510.9,2915.7 L3510.3,2918.6 L3511.9,2922.2 L3512.1,2923.9 L3513.7,2921.7 L3513.6,2927.0 L3515.2,2928.1 L3517.0,2925.1 L3516.4,2913.9 L3517.8,2919.5 L3519.4,2920.9 L3521.2,2919.6 L3522.5,2918.3 L3523.7,2919.4 L3524.2,2916.5 L3525.7,2918.9 L3527.7,2916.6 L3528.9,2918.1 L3529.7,2918.9 L3531.2,2913.6 L3533.2,2919.8 L3534.5,2923.3" fill="none" stroke="#f82a38" stroke-width="4.5" stroke-linejoin="bevel" />
<path d="M2165.9,2997.8 L2393.3,2997.8 L2393.3,3000.2 L2393.3,2461.0" fill="none" stroke="#1a40ec" stroke-width="5.6" stroke-linejoin="bevel" />
<path d="M2393.3,2461.0 L2393.9,2460.0 L2393.3,2462.4 L2393.7,2465.8 L2392.9,2462.9 L2393.5,2469.1 L2393.8,2469.9 L2394.3,2469.1 L2394.0,2473.8 L2394.1,2479.7 L2394.3,2479.9 L2394.1,2478.8 L2395.0,2481.3 L2393.7,2479.8 L2394.6,2478.1 L2394.6,2477.8 L2393.9,2484.4 L2394.4,2483.0 L2395.2,2490.0 L2394.9,2492.2 L2395.8,2491.3 L2395.5,2497.7 L2394.3,2493.6 L2396.2,2498.8 L2395.6,2503.6 L2395.7,2500.2 L2396.4,2500.3 L2395.0,2502.8 L2395.7,2507.5 L2396.9,2507.5 L2395.9,2511.6 L2395.8,2512.7 L2395.0,2510.7 L2396.6,2506.9 L2396.7,2506.9 L2397.7,2503.5 L2396.8,2501.8 L2397.0,2500.9 L2396.5,2500.0 L2398.0,2495.7 L2398.3,2494.9 L2398.5,2492.3 L2398.9,2488.7 L2399.2,2492.3 L2399.8,2485.3 L2398.2,2486.2 L2398.6,2492.4 L2399.7,2488.0 L2399.3,2485.1 L2399.1,2493.8 L2397.9,2494.7 L2399.1,2495.7 L2399.6,2495.7 L2399.5,2497.0 L2398.9,2497.5 L2399.5,2497.0 L2400.2,2500.1 L2400.3,2506.6 L2399.6,2505.9 L2399.7,2507.6 L2399.6,2507.1 L2400.8,2509.7 L2400.6,2510.7 L2400.3,2516.5 L2400.1,2518.3 L2400.8,2518.8 L2400.0,2518.1 L2401.0,2522.2 L2400.5,2521.9 L2400.1,2524.5 L2401.2,2525.2 L2401.5,2524.6 L2400.8,2530.6 L2400.5,2529.5 L2401.1,2532.2 L2402.1,2529.0 L2401.0,2523.7 L2401.0,2524.2 L2402.5,2522.6 L2401.5,2526.6 L2402.5,2519.9 L2402.4,2522.3 L2403.0,2515.9 L2403.6,2515.0 L2403.5,2510.8 L2403.6,2514.2 L2404.4,2517.4 L2403.3,2513.6 L2404.0,2517.7 L2404.8,2521.3 L2405.3,2519.0 L2405.2,2528.7 L2403.8,2520.7 L2404.5,2526.4 L2405.7,2522.8 L2406.0,2523.5 L2405.2,2532.6 L2405.6,2531.4 L2406.0,2535.3 L2405.7,2537.7 L2406.4,2541.7 L2406.6,2537.4 L2406.7,2538.6 L2407.4,2552.0 L2407.6,2541.8 L2407.5,2540.7 L2407.3,2541.7 L2407.8,2547.4 L2408.9,2548.4 L2409.7,2551.6 L2410.5,2551.2 L2409.8,2556.6 L2410.7,2560.5 L2411.0,2561.7 L2411.8,2555.3 L2411.9,2560.7 L2411.7,2563.6 L2412.3,2570.3 L2412.2,2566.1 L2413.1,2570.2 L2413.2,2572.1 L2413.6,2570.1 L2414.9,2575.7 L2415.5,2577.0 L2415.5,2574.9 L2415.9,2573.9 L2416.7,2578.1 L2416.7,2576.3 L2416.7,2586.4 L2418.5,2591.5 L2418.1,2590.5 L2418.6,2580.3 L2419.7,2589.7 L2419.4,2593.6 L2420.4,2591.0 L2420.8,2595.5 L2421.1,2595.8 L2422.8,2598.2 L2422.8,2594.8 L2424.3,2602.0 L2424.1,2601.7 L2424.8,2606.2 L2426.0,2606.2 L2425.8,2602.1 L2426.8,2598.3 L2427.2,2605.4 L2428.1,2592.6 L2429.2,2592.0 L2429.6,2600.0 L2430.9,2593.1 L2431.6,2596.3 L2433.1,2603.4 L2434.4,2603.6 L2434.8,2602.5 L2436.7,2609.7 L2435.6,2610.4 L2436.1,2611.3 L2437.0,2612.2 L2437.6,2617.5 L2437.5,2614.3 L2438.1,2617.9 L2439.5,2621.2 L2439.7,2621.6 L2440.0,2624.9 L2441.3,2625.4 L2441.4,2624.7 L2441.6,2624.8 L2442.4,2626.8 L2444.5,2628.1 L2446.6,2631.4 L2447.8,2628.7 L2449.6,2629.8 L2449.6,2627.0 L2449.6,2631.0 L2450.7,2638.1 L2451.2,2638.1 L2450.9,2633.1 L2452.0,2635.3 L2452.9,2640.1 L2453.5,2645.2 L2454.4,2649.0 L2454.1,2646.6 L2454.6,2649.2 L2455.8,2646.1 L2456.5,2648.6 L2458.1,2651.4 L2459.4,2650.3 L2461.1,2653.1 L2463.1,2654.6 L2464.6,2656.3 L2464.3,2656.8 L2467.1,2655.7 L2467.8,2662.6 L2470.0,2657.2 L2470.3,2659.7 L2471.4,2663.3 L2474.2,2659.9 L2475.6,2660.6 L2476.9,2661.7 L2479.4,2653.5 L2480.1,2657.1 L2479.7,2661.0 L2481.3,2661.8 L2480.7,2661.8 L2480.9,2669.6 L2481.5,2666.7 L2482.5,2667.4 L2482.3,2667.7 L2482.5,2675.6 L2483.0,2676.4 L2483.0,2672.9 L2483.2,2672.9 L2483.7,2677.2 L2484.5,2678.4 L2484.2,2676.5 L2485.6,2684.0 L2486.5,2682.6 L2486.3,2688.3 L2486.3,2685.9 L2487.5,2689.3 L2487.6,2687.9 L2488.7,2697.7 L2488.8,2693.2 L2490.2,2701.8 L2489.7,2698.8 L2490.5,2695.2 L2490.5,2702.0 L2490.9,2702.3 L2492.4,2703.7 L2493.8,2704.2 L2493.6,2703.3 L2494.0,2709.5 L2494.3,2712.8 L2495.7,2710.3 L2496.2,2708.9 L2497.0,2715.3 L2496.8,2719.6 L2498.7,2718.0 L2498.0,2721.6 L2499.0,2718.9 L2498.8,2719.9 L2499.8,2713.8 L2500.5,2720.1 L2500.7,2725.1 L2502.0,2727.8 L2500.7,2729.2 L2502.9,2727.5 L2502.5,2728.4 L2502.2,2730.4 L2504.0,2729.2 L2504.8,2735.2 L2505.0,2740.2 L2506.1,2732.8 L2507.3,2742.4 L2506.4,2739.5 L2507.8,2742.2 L2507.8,2744.8 L2508.6,2747.0 L2508.3,2743.3 L2510.0,2746.3 L2510.8,2749.1 L2511.1,2747.6 L2511.6,2750.0 L2512.5,2752.0 L2513.8,2758.8 L2514.7,2756.9 L2514.4,2756.6 L2517.4,2760.3 L2516.2,2755.1 L2518.8,2755.8 L2519.1,2756.6 L2519.9,2755.0 L2520.6,2754.8 L2521.9,2750.5 L2523.5,2749.1 L2523.4,2748.7 L2526.1,2746.5 L2527.6,2752.6 L2529.8,2752.3 L2531.0,2752.6 L2530.6,2754.9 L2532.6,2756.1 L2531.4,2759.0 L2531.7,2759.9 L2533.3,2759.7 L2532.9,2765.3 L2534.0,2758.2 L2533.6,2768.1 L2533.9,2766.9 L2534.9,2767.6 L2534.1,2771.1 L2534.7,2774.6 L2534.6,2775.6 L2535.8,2775.2 L2535.3,2770.8 L2535.7,2784.6 L2536.2,2785.4 L2536.7,2781.6 L2538.0,2787.1 L2538.2,2784.0 L2539.2,2789.3 L2538.4,2791.2 L2538.9,2791.9 L2539.9,2790.5 L2540.0,2796.5 L2541.0,2798.1 L2541.7,2795.6 L2542.7,2798.0 L2543.0,2801.2 L2543.8,2801.9 L2543.1,2798.7 L2544.1,2807.2 L2544.4,2805.3 L2546.4,2808.6 L2545.5,2808.2 L2546.4,2811.4 L2547.8,2812.5 L2547.3,2813.7 L2548.2,2816.8 L2548.6,2816.8 L2549.7,2820.7 L2549.8,2813.0 L2551.6,2825.3 L2553.6,2819.7 L2555.0,2819.3 L2555.0,2822.1 L2557.4,2822.8 L2559.4,2821.3 L2560.9,2822.9 L2562.4,2820.5 L2563.2,2822.4 L2565.0,2824.7 L2565.7,2821.9 L2568.7,2825.2 L2569.9,2823.3 L2571.2,2824.9 L2572.0,2827.9 L2572.3,2834.3 L2573.1,2827.3 L2573.8,2831.2 L2574.1,2833.4 L2574.7,2830.4 L2576.3,2827.5 L2575.9,2832.7 L2576.8,2834.0 L2577.4,2839.6 L2577.6,2837.6 L2578.7,2843.2 L2579.2,2843.1 L2579.5,2843.7 L2580.5,2845.5 L2582.4,2849.8 L2582.5,2849.2 L2583.0,2853.5 L2584.1,2848.9 L2584.9,2855.1 L2585.7,2854.8 L2586.2,2858.9 L2587.1,2858.5 L2587.8,2863.3 L2588.7,2863.4 L2589.8,2860.3 L2590.7,2862.1 L2591.2,2867.3 L2592.0,2864.1 L2592.0,2868.6 L2592.9,2866.7 L2594.1,2871.8 L2593.9,2876.2 L2595.9,2879.3 L2595.8,2875.5 L2595.8,2875.9 L2596.2,2878.4 L2597.2,2878.6 L2598.3,2882.2 L2600.1,2883.2 L2598.6,2886.7 L2600.9,2885.8 L2601.6,2891.6 L2602.8,2886.1 L2602.8,2889.8 L2603.2,2893.0 L2604.1,2898.3 L2605.1,2896.9 L2606.3,2895.0 L2606.4,2901.7 L2608.2,2899.4 L2607.9,2902.2 L2608.9,2901.3 L2609.6,2903.0 L2612.3,2906.0 L2612.6,2907.0 L2614.6,2910.7 L2615.6,2910.2 L2616.8,2915.1 L2618.6,2910.3 L2620.2,2913.6 L2621.6,2913.6 L2623.0,2914.1 L2623.9,2912.3 L2624.8,2913.2 L2627.6,2920.3 L2628.5,2923.7 L2629.4,2925.2 L2629.8,2926.1 L2632.5,2925.9 L2632.5,2923.9 L2633.9,2925.6 L2635.1,2928.4 L2636.6,2932.1 L2637.1,2936.4 L2639.1,2934.9 L2640.2,2931.1 L2641.0,2932.9 L2642.3,2935.4 L2642.0,2937.4 L2644.0,2938.3 L2644.7,2935.0 L2645.7,2935.4 L2645.9,2939.7 L2646.1,2946.8 L2647.1,2942.8 L2648.8,2945.5 L2648.5,2947.4 L2650.5,2948.4 L2650.4,2956.1 L2652.5,2956.0 L2653.3,2950.7 L2653.6,2956.1 L2654.2,2958.4 L2655.9,2957.7 L2656.1,2960.1 L2656.1,2963.8 L2657.3,2964.4 L2657.8,2957.8 L2658.4,2963.0 L2660.8,2968.2 L2660.8,2967.9 L2661.1,2965.4 L2662.3,2968.1 L2663.8,2970.7 L2665.1,2972.4 L2667.2,2971.5 L2668.0,2971.8 L2670.3,2971.8 L2671.7,2975.9 L2673.3,2970.4 L2673.8,2975.3 L2675.4,2974.0 L2677.7,2976.8 L2677.9,2978.6 L2678.9,2976.7 L2680.1,2978.7 L2681.5,2975.3 L2681.1,2984.2 L2682.9,2986.6 L2683.2,2986.8 L2685.2,2988.5 L2686.7,2990.7 L2686.2,2988.4 L2688.8,2989.2 L2690.2,2987.3 L2690.8,2990.4 L2692.5,2992.8 L2694.4,2991.7 L2695.8,2994.3 L2696.8,2997.2 L2698.7,2996.9 L2699.6,2997.1 L2700.6,2997.0 L2702.3,2999.4 L2703.3,3004.8 L2704.3,3005.8 L2705.3,3003.5 L2705.4,3002.9 L2707.3,3003.9 L2708.6,3002.9 L2710.7,3006.6 L2711.2,3007.4 L2711.9,3010.9 L2713.0,3010.9 L2714.0,3008.3 L2714.4,3013.7 L2716.2,3018.4 L2718.1,3016.3 L2719.4,3016.0 L2719.8,3022.7 L2720.5,3019.4 L2721.9,3021.5 L2723.0,3020.0 L2725.7,3026.7 L2726.7,3030.9 L2728.5,3026.7 L2730.8,3026.6 L2732.0,3030.3 L2733.7,3026.9 L2735.4,3031.8 L2736.9,3029.2 L2738.6,3038.4 L2739.3,3026.0 L2740.8,3029.7 L2742.9,3030.5 L2744.3,3033.1 L2745.2,3033.9 L2746.8,3033.4 L2748.3,3033.7 L2749.5,3035.8 L2751.0,3036.9 L2752.7,3032.6 L2754.4,3038.2 L2755.9,3042.5 L2756.9,3040.1 L2758.6,3041.5 L2759.8,3041.7 L2761.4,3038.2 L2763.0,3042.6 L2764.2,3045.3 L2765.3,3046.4 L2767.0,3047.5 L2768.3,3048.2 L2770.2,3047.5 L2772.0,3050.7 L2772.7,3049.2 L2774.7,3054.9 L2775.8,3047.4 L2777.5,3045.6 L2778.8,3052.7 L2780.7,3056.5 L2781.3,3059.0 L2783.3,3055.3 L2784.9,3055.4 L2786.4,3057.4 L2788.0,3055.4 L2790.2,3053.2 L2791.2,3050.3 L2792.8,3051.5 L2793.9,3053.9 L2795.5,3053.7 L2796.6,3053.8 L2798.0,3052.4 L2800.1,3050.4 L2801.2,3050.7 L2803.3,3052.6 L2804.0,3051.1 L2805.8,3051.4 L2807.0,3053.9 L2808.9,3056.0 L2810.0,3053.8 L2811.3,3057.6 L2813.6,3057.3 L2814.8,3057.0 L2816.9,3057.3 L2817.8,3054.1 L2819.5,3058.5 L2821.2,3059.1 L2822.8,3060.0 L2824.9,3052.8 L2826.7,3057.2 L2827.9,3055.0 L2830.0,3053.1 L2830.7,3054.5 L2833.4,3056.2 L2835.4,3059.3 L2836.3,3051.4 L2840.0,3054.1 L2841.4,3050.1 L2841.3,3051.1 L2843.1,3043.7 L2844.2,3045.8 L2844.9,3047.4 L2846.3,3049.6 L2847.1,3046.3 L2848.5,3045.9 L2850.0,3042.6 L2850.6,3043.5 L2851.8,3033.7 L2852.8,3038.2 L2854.9,3034.3 L2855.9,3039.1 L2856.8,3030.5 L2858.4,3032.9 L2860.2,3030.5 L2860.0,3030.4 L2862.7,3032.4 L2864.1,3025.5 L2864.1,3029.4 L2866.4,3028.6 L2866.9,3025.1 L2869.0,3021.0 L2870.2,3022.5 L2871.5,3027.0 L2873.8,3027.1 L2875.6,3027.2 L2876.0,3022.8 L2879.7,3027.2 L2880.7,3021.6 L2882.3,3024.7 L2883.8,3022.4 L2885.3,3023.4 L2887.4,3024.5 L2887.9,3023.9 L2889.4,3025.3 L2892.4,3022.3 L2893.9,3021.3 L2895.1,3029.7 L2897.2,3023.1 L2898.0,3024.8 L2900.1,3026.9 L2900.4,3026.6 L2900.9,3024.8 L2902.8,3024.1 L2904.5,3022.4 L2905.3,3019.9 L2907.6,3020.3 L2908.1,3018.8 L2908.8,3018.1 L2910.8,3011.8 L2911.2,3013.1 L2913.6,3013.5 L2915.7,3016.6 L2917.2,3008.3 L2918.0,3011.2 L2920.3,3013.8 L2921.8,3013.4 L2923.3,3014.0 L2924.3,3008.8 L2926.0,3005.1 L2928.1,3005.4 L2930.5,3003.3 L2930.7,3003.5 L2932.3,3012.0 L2933.0,3004.2 L2934.3,3005.4 L2936.4,3003.6 L2937.6,3007.4 L2937.2,2996.6 L2939.4,3000.6 L2941.0,2997.3 L2941.6,2996.5 L2942.1,2996.1 L2943.7,2995.0 L2945.5,2994.6 L2945.7,2993.4 L2948.3,2988.4 L2948.2,2987.2 L2948.4,2984.2 L2949.2,2986.2 L2950.5,2984.7 L2950.3,2983.9 L2952.4,2981.9 L2953.2,2872.6 L2953.0,2873.2 L2952.6,2873.9 L2953.8,2873.3 L2952.6,2876.0 L2954.1,2882.7 L2953.5,2879.8 L2954.3,2885.2 L2954.1,2886.8 L2954.4,2882.1 L2955.4,2889.2 L2954.1,2893.8 L2955.1,2891.9 L2955.2,2890.9 L2955.0,2893.1 L2955.7,2893.6 L2955.8,2901.8 L2956.0,2898.0 L2956.6,2902.5 L2957.5,2897.1 L2956.4,2905.5 L2956.6,2904.4 L2957.6,2911.6 L2957.6,2907.7 L2957.3,2909.7 L2957.1,2911.1 L2958.4,2908.4 L2958.7,2903.5 L2959.1,2900.8 L2960.1,2901.6 L2959.3,2900.7 L2959.6,2897.8 L2959.0,2894.4 L2961.1,2894.1 L2961.5,2891.6 L2961.8,2883.3 L2961.9,2888.8 L2962.8,2892.1 L2962.2,2892.9 L2963.1,2891.4 L2962.8,2895.2 L2963.2,2897.6 L2962.9,2898.1 L2962.8,2900.2 L2964.0,2902.4 L2964.5,2910.2 L2963.6,2904.9 L2964.2,2908.6 L2964.6,2910.2 L2965.1,2912.2 L2965.9,2917.2 L2967.2,2917.4 L2968.4,2916.1 L2969.2,2914.0 L2969.8,2924.3 L2971.1,2922.3 L2971.9,2919.5 L2972.5,2925.3 L2973.8,2924.3 L2975.1,2919.2 L2975.6,2929.8 L2977.4,2930.5 L2976.4,2924.8 L2978.4,2929.7 L2980.3,2934.4 L2979.9,2932.7 L2981.3,2936.2 L2982.1,2931.7 L2983.6,2927.3 L2983.7,2921.6 L2984.1,2930.4 L2985.5,2927.5 L2985.4,2925.6 L2986.4,2926.7 L2987.1,2921.0 L2988.0,2915.4 L2988.9,2916.9 L2989.3,2912.1 L2990.8,2913.5 L2991.1,2919.8 L2990.2,2921.1 L2991.5,2920.6 L2991.9,2916.6 L2991.8,2925.4 L2993.0,2925.4 L2992.2,2928.5 L2993.4,2928.3 L2993.5,2933.4 L2993.7,2936.2 L2994.1,2939.7 L2995.0,2940.4 L2994.4,2938.7 L2995.5,2939.9 L2995.6,2942.7 L2996.8,2937.5 L2999.4,2934.9 L3000.9,2939.1 L3002.3,2941.3 L3003.7,2938.3 L3006.0,2933.3 L3007.1,2941.3 L3009.6,2936.8 L3011.3,2941.1 L3012.5,2941.5 L3014.8,2937.5 L3016.8,2946.8 L3017.6,2940.8 L3019.6,2936.4 L3021.0,2942.4 L3021.6,2938.0 L3023.4,2935.9 L3024.8,2936.7 L3026.2,2931.5 L3028.4,2933.9 L3029.9,2936.6 L3030.8,2937.3 L3032.2,2931.1 L3032.4,2935.7 L3032.7,2942.2 L3033.3,2933.4 L3032.9,2940.1 L3034.3,2949.1 L3034.2,2944.3 L3035.1,2940.2 L3036.4,2950.0 L3037.4,2947.5 L3038.2,2952.2 L3040.6,2951.4 L3040.9,2950.1 L3043.1,2953.4 L3042.7,2957.0 L3044.7,2955.2 L3045.6,2956.1 L3047.2,2954.1 L3047.5,2957.5 L3050.5,2958.9 L3052.1,2962.3 L3052.9,2956.5 L3055.1,2951.4 L3056.8,2949.9 L3057.4,2957.2 L3060.3,2953.4 L3060.3,2951.7 L3061.7,2953.4 L3063.6,2953.4 L3063.6,2954.1 L3065.2,2954.5 L3065.7,2959.6 L3069.0,2960.5 L3068.2,2959.7 L3071.3,2962.5 L3071.5,2964.3 L3072.9,2962.3 L3075.7,2964.6 L3077.1,2966.7 L3079.0,2963.9 L3080.5,2962.8 L3082.1,2965.6 L3083.6,2968.6 L3084.7,2965.2 L3086.3,2970.2 L3087.0,2968.0 L3089.2,2968.5 L3090.2,2970.6 L3092.0,2969.3 L3093.5,2977.0 L3095.3,2977.5 L3096.3,2975.5 L3099.6,2977.4 L3100.4,2974.5 L3102.5,2978.3 L3103.6,2979.4 L3105.1,2975.7 L3105.6,2973.6 L3107.2,2976.6 L3107.8,2969.1 L3108.3,2968.7 L3109.1,2965.7 L3109.9,2966.6 L3111.3,2964.5 L3112.1,2967.7 L3111.6,2968.1 L3112.8,2964.5 L3113.3,2962.4 L3114.8,2963.1 L3115.3,2961.9 L3115.2,2961.6 L3116.3,2956.4 L3116.6,2959.7 L3118.0,2956.9 L3117.8,2958.4 L3118.3,2958.7 L3119.0,2962.3 L3119.6,2966.5 L3120.0,2969.2 L3121.5,2964.4 L3122.7,2968.4 L3122.1,2976.3 L3123.0,2964.0 L3124.6,2967.7 L3124.6,2972.0 L3124.4,2976.0 L3126.3,2969.6 L3127.9,2969.0 L3130.2,2968.5 L3130.9,2970.7 L3134.1,2972.1 L3134.4,2965.1 L3137.0,2969.6 L3138.7,2973.7 L3139.2,2970.0 L3142.5,2964.8 L3142.5,2971.2 L3144.3,2968.7 L3146.2,2967.3 L3148.6,2965.2 L3150.0,2969.4 L3151.5,2964.3 L3152.9,2968.6 L3153.8,2970.4 L3155.5,2971.1 L3157.8,2971.5 L3158.8,2970.7 L3160.0,2972.6 L3160.6,2973.0 L3163.3,2964.2 L3165.5,2969.3 L3166.2,2970.4 L3168.7,2967.4 L3170.5,2968.7 L3171.8,2970.6 L3171.7,2971.0 L3174.1,2970.7 L3175.3,2976.4 L3176.0,2975.1 L3177.2,2972.5 L3179.3,2974.3 L3178.7,2981.5 L3180.8,2980.4 L3181.1,2981.0 L3184.0,2980.4 L3184.8,2978.5 L3187.2,2982.1 L3189.4,2978.9 L3189.7,2981.0 L3192.2,2978.4 L3192.7,2977.4 L3194.8,2975.6 L3196.6,2977.8 L3197.9,2973.4 L3199.2,2973.8 L3200.7,2972.4 L3201.5,2974.5 L3203.5,2974.3 L3204.5,2971.7 L3205.9,2974.4 L3208.3,2969.8 L3208.8,2971.6 L3211.1,2971.6 L3213.1,2976.7 L3214.6,2973.3 L3215.7,2974.4 L3217.2,2972.7 L3218.0,2979.0 L3220.4,2979.9 L3222.3,2979.8 L3223.3,2979.9 L3224.8,2979.3 L3226.8,2981.7 L3228.7,2981.0 L3229.8,2978.9 L3230.9,2986.4 L3233.3,2981.0 L3234.6,2975.8 L3237.1,2981.1 L3237.5,2978.6 L3239.4,2974.1 L3240.3,2976.7 L3242.0,2974.3 L3243.8,2973.6 L3244.8,2974.5 L3246.3,2976.3 L3247.9,2973.6 L3249.8,2977.0 L3252.6,2979.1 L3253.9,2977.7 L3255.3,2981.4 L3256.8,2978.4 L3258.8,2979.6 L3260.4,2979.7 L3262.0,2982.0 L3263.2,2980.3 L3265.7,2986.6 L3266.7,2986.1 L3268.3,2982.4 L3269.6,2985.6 L3271.1,2983.1 L3273.0,2986.6 L3275.6,2984.5 L3276.1,2984.0 L3279.3,2982.0 L3280.4,2986.6 L3282.4,2984.2 L3283.3,2987.6 L3285.7,2981.1 L3286.5,2983.1 L3288.9,2979.0 L3289.2,2982.4 L3289.7,2977.8 L3291.0,2976.7 L3291.5,2971.2 L3293.1,2968.5 L3294.4,2971.3 L3294.7,2973.8 L3295.2,2973.3 L3296.6,2972.7 L3297.9,2970.5 L3296.9,2962.1 L3297.9,2961.5 L3299.3,2963.1 L3299.6,2961.5 L3302.8,2962.4 L3304.5,2958.3 L3305.7,2956.5 L3307.1,2955.9 L3308.8,2957.2 L3311.2,2955.0 L3312.2,2959.8 L3314.2,2962.1 L3315.5,2955.6 L3317.6,2964.1 L3318.2,2960.4 L3320.3,2962.1 L3322.4,2961.2 L3324.2,2964.0 L3325.7,2966.2 L3326.7,2965.7 L3328.3,2966.6 L3329.8,2968.7 L3330.2,2965.4 L3332.8,2969.7 L3333.9,2970.2 L3335.8,2972.2 L3336.9,2973.0 L3339.8,2971.7 L3340.6,2970.6 L3342.5,2967.4 L3343.8,2973.2 L3345.8,2966.1 L3347.2,2966.9 L3348.5,2968.4 L3349.8,2965.1 L3350.7,2961.2 L3351.3,2963.3 L3353.2,2960.5 L3354.7,2958.7 L3355.2,2957.0 L3356.8,2955.9 L3357.1,2951.1 L3359.2,2954.7 L3360.1,2951.4 L3361.2,2949.9 L3361.8,2947.7 L3364.5,2944.9 L3364.2,2948.7 L3366.2,2941.9 L3367.4,2942.4 L3368.1,2939.6 L3368.5,2944.7 L3370.0,2945.2 L3369.8,2951.7 L3372.1,2951.2 L3372.4,2954.0 L3374.2,2951.9 L3375.0,2956.1 L3376.6,2953.4 L3376.9,2960.6 L3378.4,2953.8 L3378.9,2958.6 L3380.2,2959.4 L3382.5,2960.0 L3383.9,2957.4 L3383.5,2965.9 L3385.9,2964.0 L3387.1,2966.9 L3388.0,2970.7 L3388.9,2971.8 L3390.2,2970.5 L3391.7,2968.0 L3393.7,2970.6 L3395.2,2971.7 L3396.4,2973.9 L3399.2,2970.9 L3400.5,2970.9 L3401.3,2976.1 L3403.9,2968.6 L3404.6,2970.6 L3407.7,2969.8 L3408.0,2975.3 L3410.4,2970.9 L3412.0,2973.7 L3414.1,2973.2 L3414.0,2971.4 L3416.9,2973.7 L3418.2,2972.6 L3419.6,2975.6 L3421.6,2978.9 L3421.9,2982.3 L3424.2,2981.3 L3425.0,2979.9 L3426.6,2979.7 L3426.0,2979.8 L3428.6,2979.5 L3429.2,2984.5 L3429.5,2987.9 L3430.7,2993.0 L3431.8,2987.6 L3433.7,2990.0 L3433.7,2993.6 L3434.0,2994.1 L3436.2,2996.0 L3436.5,2990.5 L3439.5,2992.9 L3439.7,2997.4 L3442.9,2992.2 L3442.8,2996.4 L3445.5,2996.3 L3447.6,2995.5 L3448.9,3000.2 L3450.4,2998.6 L3451.8,3001.0 L3452.8,2996.7 L3455.1,3000.9 L3457.7,3000.5 L3458.4,3000.0 L3460.4,2998.1 L3462.0,2997.7 L3463.2,3002.2 L3464.8,3004.9 L3466.2,3008.4 L3469.1,3009.6 L3470.2,3002.3 L3471.7,3005.7 L3473.5,3008.5 L3475.5,3002.2 L3477.2,3007.1 L3479.3,3007.7 L3480.5,3005.6 L3481.9,3007.7 L3483.4,3008.0 L3485.2,3010.3 L3487.0,3004.3 L3488.4,3004.4 L3490.4,3005.7 L3491.8,3007.4 L3494.3,3000.2 L3496.5,3007.9 L3497.1,2998.5 L3498.8,3002.1 L3499.8,3002.5 L3500.4,3003.1 L3502.3,2998.5 L3505.0,2999.1 L3506.0,2996.3 L3507.6,2993.5 L3508.7,3001.2 L3508.9,2994.1 L3509.2,2991.6 L3509.6,2988.0 L3510.0,2988.1 L3510.6,2989.0 L3510.2,2990.0 L3509.9,2981.8 L3512.4,2986.0 L3512.6,2980.8 L3512.5,2980.0 L3513.5,2977.7 L3513.8,2975.8 L3514.6,2978.6 L3513.9,2972.0 L3516.0,2975.0 L3515.9,2973.7 L3517.6,2978.5 L3518.5,2979.2 L3519.3,2982.7 L3521.5,2985.9 L3521.8,2983.0 L3522.8,2985.1 L3524.8,2986.7 L3524.9,2988.3 L3526.0,2989.9 L3526.8,2989.7 L3527.1,2995.8 L3528.6,2993.2 L3530.4,2997.4 L3530.0,2993.9 L3531.4,2991.0 L3532.2,2995.9 L3532.9,2991.9 L3534.5,3001.4" fill="none" stroke="#1a40ec" stroke-width="4.5" stroke-linejoin="bevel" />
<rect x="2165.9" y="2425.5" width="1368.6" height="702.5" fill="none" stroke="#000" stroke-width="4.8"/>
<text x="2139.9" y="2447.5" font-size="65" text-anchor="end" fill="#000" >130</text>
<text x="3561.5" y="2445.2" font-size="65" text-anchor="start" fill="#000" >1 950</text>
<line x1="2165.9" y1="2599.7" x2="2184.9" y2="2599.7" stroke="#000" stroke-width="4.8"/>
<line x1="3534.5" y1="2599.7" x2="3515.5" y2="2599.7" stroke="#000" stroke-width="4.8"/>
<text x="2139.9" y="2623.7" font-size="65" text-anchor="end" fill="#000" >90</text>
<text x="3561.5" y="2621.3999999999996" font-size="65" text-anchor="start" fill="#000" >1 350</text>
<line x1="2165.9" y1="2775.7999999999997" x2="2184.9" y2="2775.7999999999997" stroke="#000" stroke-width="4.8"/>
<line x1="3534.5" y1="2775.7999999999997" x2="3515.5" y2="2775.7999999999997" stroke="#000" stroke-width="4.8"/>
<text x="2139.9" y="2799.7999999999997" font-size="65" text-anchor="end" fill="#000" >50</text>
<text x="3561.5" y="2797.4999999999995" font-size="65" text-anchor="start" fill="#000" >750</text>
<line x1="2165.9" y1="2951.8999999999996" x2="2184.9" y2="2951.8999999999996" stroke="#000" stroke-width="4.8"/>
<line x1="3534.5" y1="2951.8999999999996" x2="3515.5" y2="2951.8999999999996" stroke="#000" stroke-width="4.8"/>
<text x="2139.9" y="2975.8999999999996" font-size="65" text-anchor="end" fill="#000" >10</text>
<text x="3561.5" y="2973.5999999999995" font-size="65" text-anchor="start" fill="#000" >150</text>
<text x="2139.9" y="3152" font-size="65" text-anchor="end" fill="#000" >−30</text>
<text x="3561.5" y="3149.7" font-size="65" text-anchor="start" fill="#000" >450</text>
<text x="2162.9" y="3204" font-size="65" text-anchor="middle" fill="#000" >−15</text>
<line x1="2316.0" y1="3128" x2="2316.0" y2="3109.5" stroke="#000" stroke-width="4.8"/>
<text x="2316.0" y="3204" font-size="65" text-anchor="middle" fill="#000" >−5</text>
<line x1="2469.1" y1="3128" x2="2469.1" y2="3109.5" stroke="#000" stroke-width="4.8"/>
<text x="2469.1" y="3204" font-size="65" text-anchor="middle" fill="#000" >5</text>
<line x1="2622.2" y1="3128" x2="2622.2" y2="3109.5" stroke="#000" stroke-width="4.8"/>
<text x="2622.2" y="3204" font-size="65" text-anchor="middle" fill="#000" >15</text>
<line x1="2775.3" y1="3128" x2="2775.3" y2="3109.5" stroke="#000" stroke-width="4.8"/>
<text x="2775.3" y="3204" font-size="65" text-anchor="middle" fill="#000" >25</text>
<line x1="2928.4" y1="3128" x2="2928.4" y2="3109.5" stroke="#000" stroke-width="4.8"/>
<text x="2928.4" y="3204" font-size="65" text-anchor="middle" fill="#000" >35</text>
<line x1="3081.5" y1="3128" x2="3081.5" y2="3109.5" stroke="#000" stroke-width="4.8"/>
<text x="3081.5" y="3204" font-size="65" text-anchor="middle" fill="#000" >45</text>
<line x1="3234.6000000000004" y1="3128" x2="3234.6000000000004" y2="3109.5" stroke="#000" stroke-width="4.8"/>
<text x="3234.6000000000004" y="3204" font-size="65" text-anchor="middle" fill="#000" >55</text>
<line x1="3387.7" y1="3128" x2="3387.7" y2="3109.5" stroke="#000" stroke-width="4.8"/>
<text x="3387.7" y="3204" font-size="65" text-anchor="middle" fill="#000" >65</text>
<text x="3540.8" y="3204" font-size="65" text-anchor="middle" fill="#000" >75</text>
<text x="2848.9" y="3295" font-size="65.5" text-anchor="middle" fill="#000" >Time/ms</text>
<text x="1983.9" y="2776" font-size="66" text-anchor="middle" fill="#000" transform="rotate(-90 1983.9 2776)" >Reflected overpressure/kPa</text>
<text x="3795.5" y="2778" font-size="66" text-anchor="middle" fill="#000" transform="rotate(-90 3795.5 2778)" >Reflected impulse/(kPa·ms)</text>
<line x1="1987.9" y1="2251" x2="2014.9" y2="2251" stroke="#f82a38" stroke-width="5"/>
<line x1="1987.9" y1="2306" x2="2014.9" y2="2306" stroke="#1a40ec" stroke-width="5"/>
<text x="2034.9" y="2267" font-size="50" text-anchor="start" fill="#000" >No transition louvres</text>
<text x="2034.9" y="2321" font-size="50" text-anchor="start" fill="#000" >Modification with transition louvres</text>
<line x1="2807.9" y1="2251" x2="2835.9" y2="2251" stroke="#f82a38" stroke-width="4.5" stroke-dasharray="4 4"/>
<line x1="2807.9" y1="2306" x2="2835.9" y2="2306" stroke="#1a40ec" stroke-width="4.5" stroke-dasharray="4 4"/>
<text x="2852.9" y="2267" font-size="50" text-anchor="start" fill="#000" >(Impulse) no transition louvres</text>
<text x="2852.9" y="2321" font-size="50" text-anchor="start" fill="#000" >(Impulse) modification with transition louvres</text>
<text x="2199.9" y="2389" font-size="50" text-anchor="start" fill="#000" >Records 191202-1 (fully closed) and 191120-1 (allowed to open)</text>
<text x="2300" y="3392" font-size="61" text-anchor="start" fill="#000" >(e) 376 kPa test results in the drive section<tspan font-size="34" dy="-20">[89-90]</tspan></text>
</svg>
</body></html>
